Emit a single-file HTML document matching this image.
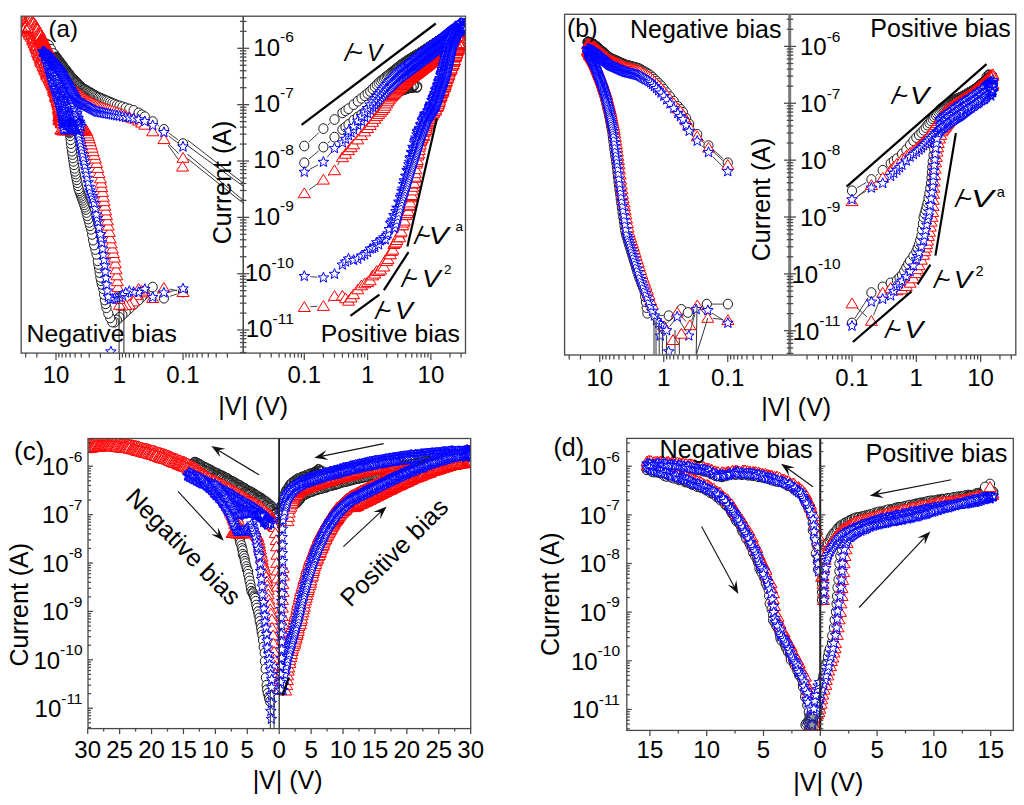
<!DOCTYPE html>
<html><head><meta charset="utf-8"><style>
html,body{margin:0;padding:0;background:#fff;}
svg{display:block;}
text{font-family:"Liberation Sans", sans-serif;fill:#000;}
</style></head><body>
<svg width="1024" height="805" viewBox="0 0 1024 805">
<rect width="1024" height="805" fill="#fff"/>
<defs>
<symbol id="c" overflow="visible"><ellipse cx="0" cy="0" rx="4.6" ry="4.9" fill="#fff" stroke="#1a1a1a" stroke-width="1"/></symbol>
<symbol id="t" overflow="visible"><path d="M0,-5.3 L6,4.5 L-6,4.5 Z" fill="#fff" stroke="#ff0000" stroke-width="1"/></symbol>
<symbol id="s" overflow="visible"><path d="M0,-5.5 L1.5,-1.9 L5.3,-1.7 L2.3,0.7 L3.3,4.5 L0,2.3 L-3.3,4.5 L-2.3,0.7 L-5.3,-1.7 L-1.5,-1.9 Z" fill="#fff" stroke="#0000ff" stroke-width="1"/></symbol>
<symbol id="cn" overflow="visible"><ellipse cx="0" cy="0" rx="4.6" ry="4.9" fill="none" stroke="#1a1a1a" stroke-width="1"/></symbol>
<symbol id="tn" overflow="visible"><path d="M0,-5.3 L6,4.5 L-6,4.5 Z" fill="none" stroke="#ff0000" stroke-width="1"/></symbol>
<symbol id="sn" overflow="visible"><path d="M0,-5.5 L1.5,-1.9 L5.3,-1.7 L2.3,0.7 L3.3,4.5 L0,2.3 L-3.3,4.5 L-2.3,0.7 L-5.3,-1.7 L-1.5,-1.9 Z" fill="none" stroke="#0000ff" stroke-width="1"/></symbol>
<marker id="mc" markerUnits="userSpaceOnUse" markerWidth="1" markerHeight="1" refX="0" refY="0" overflow="visible" orient="0"><ellipse cx="0" cy="0" rx="4.6" ry="4.9" fill="#fff" stroke="#1a1a1a" stroke-width="1"/></marker>
<marker id="mt" markerUnits="userSpaceOnUse" markerWidth="1" markerHeight="1" refX="0" refY="0" overflow="visible" orient="0"><path d="M0,-5.3 L6,4.5 L-6,4.5 Z" fill="#fff" stroke="#ff0000" stroke-width="1"/></marker>
<marker id="ms" markerUnits="userSpaceOnUse" markerWidth="1" markerHeight="1" refX="0" refY="0" overflow="visible" orient="0"><path d="M0,-5.5 L1.5,-1.9 L5.3,-1.7 L2.3,0.7 L3.3,4.5 L0,2.3 L-3.3,4.5 L-2.3,0.7 L-5.3,-1.7 L-1.5,-1.9 Z" fill="#fff" stroke="#0000ff" stroke-width="1"/></marker>
<marker id="mcn" markerUnits="userSpaceOnUse" markerWidth="1" markerHeight="1" refX="0" refY="0" overflow="visible" orient="0"><ellipse cx="0" cy="0" rx="4.6" ry="4.9" fill="none" stroke="#1a1a1a" stroke-width="1"/></marker>
<marker id="mtn" markerUnits="userSpaceOnUse" markerWidth="1" markerHeight="1" refX="0" refY="0" overflow="visible" orient="0"><path d="M0,-5.3 L6,4.5 L-6,4.5 Z" fill="none" stroke="#ff0000" stroke-width="1"/></marker>
<marker id="msn" markerUnits="userSpaceOnUse" markerWidth="1" markerHeight="1" refX="0" refY="0" overflow="visible" orient="0"><path d="M0,-5.5 L1.5,-1.9 L5.3,-1.7 L2.3,0.7 L3.3,4.5 L0,2.3 L-3.3,4.5 L-2.3,0.7 L-5.3,-1.7 L-1.5,-1.9 Z" fill="none" stroke="#0000ff" stroke-width="1"/></marker>
</defs>
<clipPath id="ca"><rect x="21.5" y="16.5" width="443.5" height="336.5"/></clipPath><g clip-path="url(#ca)">
<path d="M177.3,293.9L169.6,296.4M159.6,294.0L157.0,291.3" stroke="#444" stroke-width="1" fill="none"/>
<polyline points="183,292 163.9,298.2 152.7,287.1 144.8,293.9 141.7,297 138.6,300 133.6,304.6 129.3,308.5 125.7,311.9 122.4,314.9 119.5,317.5 116.9,320 114.5,322.2 112.3,322 110.2,317.9 108.3,313.5 106.5,307.7 105.7,303.8 104.9,300 104.1,294.4 103.3,288.7 101.8,284.3 101.1,280.8 100.4,277.3 99.7,272.6 99,268 98.4,264.4 97.8,260.8 96.5,254.3 95.4,249.5 94.2,245 93.1,240.1 92.1,234.4 91.1,229.3 90.1,225.8 89.2,222.4 88.3,219 87.4,215.7 86.6,212.5 85.8,209.5 85,207.1 84.2,204.8 83.4,202.5 82.7,200.3 82,198.2 81.3,196.3 80.6,194.4 79.9,192.5 79.3,190.7 78.6,188.8 78,185.7 77.4,182.7 76.8,179.8 76.2,176.9 75.7,174 75.1,171.3 74.6,168.3 74,164.8 73.5,161.3 73,157.9 72.5,154.5 72,151.2 71.5,147.6 71,143.6 70.6,139.7 70.1,135.8 69.6,133 69.2,132 68.7,131.1 68.3,130.1 67.9,129.2 67.5,128.2 67,127.3 66.6,126.4 66.2,125.5 65.8,124.2 65.4,122.2 65.1,120.3 64.7,118.4 64.3,116.5 63.9,114.7 63.6,112.8 63.2,111 62.9,109.3 62.5,107.5 62.2,105.8 61.8,104.2 61.5,102.8 61.1,101.3 60.8,99.9 60.5,98.5 60.2,97.2 59.8,95.8 59.5,94.5 59.2,93.2 58.9,91.8 58.6,90.6 58.3,89.3 58,88 57.7,86.4 57.4,84.9 57.1,83.3 56.8,81.8 56.6,80.3 56.3,78.8 56,77.3 55.7,75.9 55.5,74.4 55.2,73 54.9,71.6 54.7,70.2 54.4,68.8 54.1,67.4 53.9,66 53.6,64.7 53.4,63.3 53.1,62 52.9,60.7 52.6,59.4 52.4,58.1 52.1,56.8 51.9,56 51.7,56 51.4,56 51.2,56 51,56 50.7,56 50.5,56" stroke="none" fill="none" marker-start="url(#mc)" marker-mid="url(#mc)" marker-end="url(#mc)"/><polyline points="52.6,57 52.2,55.3 54.8,54.8 55.2,56.9" stroke="none" fill="none" marker-start="url(#mcn)" marker-mid="url(#mcn)" marker-end="url(#mcn)"/>
<path d="M157.6,125.1L159.0,126.0M168.7,133.0L178.2,140.0" stroke="#444" stroke-width="1" fill="none"/>
<polyline points="46.7,44 48.8,45.4 51,49.3 53.4,53.5 56,57 56.3,57.4 56.6,57.7 56.8,58.1 57.1,58.5 57.4,58.9 57.7,59.3 58,59.7 58.3,60.1 58.6,60.5 58.9,60.9 59.2,61.3 59.5,61.7 59.8,62.1 60.2,62.5 60.5,63 60.8,63.4 61.1,63.9 61.5,64.3 61.8,64.7 62.2,65.2 62.5,65.7 62.9,66.1 63.2,66.6 63.6,67 63.9,67.5 64.3,68 64.7,68.5 65.1,69 65.4,69.5 65.8,70 66.2,70.5 66.6,71 67,71.6 67.5,72.1 67.9,72.6 68.3,73.2 68.7,73.8 69.2,74.3 69.6,74.9 70.1,75.5 70.6,76.1 71,76.7 71.5,77.4 72,78 72.5,78.5 73,79 73.5,79.5 74,80 74.6,80.6 75.1,81.1 75.7,81.7 76.2,82.2 76.8,82.8 77.4,83.4 78,84 78.6,84.6 79.3,85.3 79.9,85.9 80.6,86.6 81.3,87.3 82,88 82.7,88.4 83.4,88.8 84.2,89.3 85,89.7 85.8,90.2 86.6,90.7 87.4,91.1 88.3,91.7 89.2,92.2 90.1,92.7 91.1,93.3 92.1,93.9 93.1,94.5 94.2,95.1 95.4,95.8 96.5,96.4 97.8,97.1 99,97.6 100.4,98.2 101.8,98.8 103.3,99.4 104.9,100.1 106.5,100.8 108.3,101.5 110.2,102.3 112.3,103.2 114.5,104.1 116.9,105.1 119.5,105.9 122.4,106.8 125.7,107.9 129.3,109 133.6,110.4 138.6,112.9 141.7,114.8 144.8,116.7 152.7,121.6 163.9,129.4 183,143.6" stroke="none" fill="none" marker-start="url(#mc)" marker-mid="url(#mc)" marker-end="url(#mc)"/>
<polyline points="22,24 22.8,24.8 23.5,25.4 24.4,27 24.9,27 25.4,28.1 25.8,29.7 27.4,29.5 27.9,31 28,31.5 29,32.6 29.7,33.7 29.8,34.7 31.5,35.8 31.7,35.5 31.3,36.7 32.9,37.9 32.6,39.6 32.9,40.2 33.5,40.7 34.1,42.6 34,42.9 34.7,43.7 35.2,45.7 35.8,46.4 36.4,46.9 36.5,48.2 36.9,48.9 37.5,49.9 37.2,51.8 38.6,52.4 38.3,53.2 38.6,54.6 38.9,55.1 39.6,56.1 40.2,57.9 40.8,58.6 40.7,59.5 40.7,60.9 41.5,61.4 41.6,62.6 42.6,63.6 43.3,64.9 43,65.8 44.2,66.8 44.2,67.3 44.6,68.7 44.9,69.7 45.6,70.8 46,71.4 46.4,73.3 46.8,73.2 46.8,74.8 47.3,75.3 47.8,76.7 49.4,77.7 49.2,78.7 49.7,79.7 50.4,81.2 50.9,81.6 51.3,83.2 51.2,83.4 52.2,84.9 52.7,85.8 53.4,86.7 53.7,88.3 53.6,89.2 54.2,90.3 53.7,91.4 54.9,92.5 55.5,92.8 55.4,93.6 55.7,95.6 55.5,96 55.7,96.9 56.1,97.8 57.4,99.8 57.1,100.7 57.7,101.5 57.7,102.7 58.1,103.3 58.1,104.8 58.6,105.4 58.7,107.3 59.2,108.1 58.4,108.9 58.6,109.5 58.9,111.1 59.7,112.4 59.2,113.6 59.7,114.4 59.5,115.5 59.8,116.9 60.1,117.6 60.2,118.8 60.7,120.1 60.9,120.9 61.1,122.6 61.5,123.4" stroke="none" fill="none" marker-start="url(#mt)" marker-mid="url(#mt)" marker-end="url(#mt)"/><polyline points="61.7,123.2 59.4,120.4 60.2,118.7 58.7,119.6" stroke="none" fill="none" marker-start="url(#mtn)" marker-mid="url(#mtn)" marker-end="url(#mtn)"/>
<polyline points="24,21 24.6,22 25.8,22.8 25.9,23.8 26.1,24.6 27.3,25.9 27.3,26.2 27.9,27.7 29.2,27.7 30.2,29.7 30.4,30.2 30.5,30.4 31.5,31.3 31.8,32.4 32.2,33.6 33.2,35 33.7,35.8 34.1,36.8 34.5,37.4 35.6,39.3 35.8,39.9 35.6,40.4 36.1,41.2 37.1,42.6 37.6,43.6 38.2,45.2 37.4,45.4 39,46.7 39.5,47.7 38.8,48.9 40.1,49.5 39.7,50.6 41.2,52.1 40.6,52.5 41,53.3 42.3,54.5 42.4,55.8 42.4,57.2 42.8,58.1 43.2,58.8 43.8,59.6 45.1,61.3 44.7,62.4 45,62.8 46.2,64.1 45.7,65.6 46.3,65.7 47.4,66.8 47.2,67.5 47.4,69.2 48,70.2 48.5,71.1 49.7,72.1 49.6,73.6 49.5,73.8 50.8,75.6 50.4,75.8 51.5,77.8 51.2,78.8 52.4,79.4 52.3,79.8 52.3,81.9 52.9,82.6 53.3,83.7 54,84.2 53.8,85.8 53.9,86.2 54.8,88 55.1,88.4 55.8,89.4 55,90.5 55.8,91.3 55.7,92.8 56.5,93.6 56.5,95.5 57.5,96.3 57.5,97.3 57.1,97.7 57.2,99.8 58.3,100.9 57.8,101.6 58.6,102.8 58.5,104.2 58.4,104.7 59.4,106.3 59.5,107.1 59.7,108.5 59.4,109.3 60.2,110.6 59.8,111.6 60.5,112.4 60.4,113.3 60.5,114.6 60,115.7 61.3,117.1 61.1,117.6 61.3,118.9 61.1,120.3 60.9,121.3" stroke="none" fill="none" marker-start="url(#mt)" marker-mid="url(#mt)" marker-end="url(#mt)"/><polyline points="62,121.1 60.6,118.1 62.3,116.3 61.7,117.2" stroke="none" fill="none" marker-start="url(#mtn)" marker-mid="url(#mtn)" marker-end="url(#mtn)"/>
<polyline points="26,19 26.6,20.1 27.5,20.4 27.3,21.5 28.3,23 29.4,23.6 29.9,24.6 30,25.2 30.7,26.6 31.2,27.4 31.9,28.2 32.8,28.7 34.1,29.2 33.8,31.1 35,31 36.2,33 35.7,33.3 36.1,34.2 37.1,35 37.6,35.9 37.4,37.8 38.1,38.4 38.7,39.5 38.9,40 39.7,42.1 40.4,42.8 40.1,43.4 40.9,44.8 40.6,45.3 41.3,46.7 42.2,47.7 41.7,49.1 42.6,49.7 42.8,50.6 43.4,52.1 43.4,52.8 43.9,54 44.2,54.5 44.9,56 45,56.8 45.6,57.6 46.3,59.5 46.7,60.5 46.7,61.5 47.3,61.6 48.1,63.5 47.6,63.8 48.9,64.9 48.7,65.6 48.8,67.3 50.3,68.8 50.1,68.7 50.3,70.6 51.2,71.5 50.9,72.4 51.6,73.5 51.7,75 52.8,75 52.5,76.9 52.8,78.1 53.5,78.8 54.1,79.2 53.9,80.3 54.6,81.9 54.3,83.2 54.9,83.5 55.1,85.5 55.6,86.1 56.3,87.6 56.3,88 56.4,89.7 56.9,90.3 56.6,91.2 57.4,92.5 56.8,93.7 58.1,94.9 58.4,96.1 58.2,97 58.3,97.2 58.5,98.6 59.5,100.1 59.2,101.1 58.9,102.1 59.7,103 59.3,104.1 59.6,105.5 59.5,105.9 59.9,107.7 60.6,108.7 61,109.5 60,110.7 60.7,111.4 61.1,112.7 60.8,113.8 61.8,114.5 61.3,115.9 61.2,117.2 61.4,118.8 61.9,119.7" stroke="none" fill="none" marker-start="url(#mt)" marker-mid="url(#mt)" marker-end="url(#mt)"/><polyline points="62,119.6 59.7,116.7 60.3,115.1 58.7,116.1" stroke="none" fill="none" marker-start="url(#mtn)" marker-mid="url(#mtn)" marker-end="url(#mtn)"/>
<polyline points="28,18 28.3,19.1 29.5,20.2 29.5,20.4 30.1,21.3 31.4,22.1 31.8,23.1 32.1,24.2 33.4,25.4 33.1,25.9 33.8,27.5 35.3,28.3 35.9,29.1 36.7,30.1 36.5,31.1 37.3,31.9 37.8,32.5 38,33.5 38.4,34.2 39.5,36 40.1,36.9 40.1,37.9 40,38.9 40.8,39.3 41,40.7 41.5,41.6 42.4,42.5 42.3,43.6 42.9,44.3 43.3,45.5 43.6,46.8 45.1,47.5 45.3,49.2 44.9,49.2 46.3,51.1 46.5,51.3 46.7,53.1 47.7,54.1 47.2,55.1 47.9,56 48,57.3 49,58.1 48.9,58.9 49.8,59.9 49.9,61.1 50.3,61.6 50.5,63.1 50.9,63.6 51.2,65.1 52.2,66 52,66.9 52.8,67.5 52.8,69.6 53.3,69.8 53.9,71.2 54.1,72 54.9,73.5 54.7,73.9 55.6,75.8 56,76.2 56.5,77.1 56,78.4 57.4,79.7 56.9,80.7 57.9,81.2 57.9,82.4 57.8,83.4 58,84.5 58.1,85.6 58.5,87.1 59.4,87.3 59.9,88.6 59.9,90.1 60,90.8" stroke="none" fill="none" marker-start="url(#mt)" marker-mid="url(#mt)" marker-end="url(#mt)"/><polyline points="60.6,90.5 58.7,87.5 59.8,85.7 58.6,86.6" stroke="none" fill="none" marker-start="url(#mtn)" marker-mid="url(#mtn)" marker-end="url(#mtn)"/>
<polyline points="30,17 30.1,18.2 31.3,19.4 31.5,19.5 32.6,20.9 32.6,21.9 33.3,23 33.6,23.2 35.1,24.3 34.9,25.8 35.9,25.9 36.4,27.5 36.5,28.4 37,29 37.6,29.8 39.1,31 39.6,32 39.7,33.5 40.3,33.6 40.6,35.2 40.6,35.5 42,37 41.6,37.9 42.1,39.3 43,39.5 43.9,40.5 43.7,41.4 44.7,42.4 45,43.4 45.4,45.1 46,45.8 46.4,46.8 47,47.3 47.4,48.5 48.3,50.3 47.9,50.4 49.1,51.9 48.8,53 50.4,53.6 50.2,54.8 51.4,55.4 51.1,56.3 52,57.6 52,58.5 52.3,59.4 53.9,60.7 53.5,62.1 54.1,62.3 54.2,63.1 54.9,64.2 56.2,65.3 55.9,66.7 57,67.4 57.2,68.5 57.2,69.8 58,71.1 57.8,72.2 58,72.7 59,74 59.2,74.7 59.7,76.1 59.2,77.6 59.8,77.9 59.9,78.7 60.1,80.4 60.4,81 61.1,82.3 61.3,83.7 61.5,84.2" stroke="none" fill="none" marker-start="url(#mt)" marker-mid="url(#mt)" marker-end="url(#mt)"/><polyline points="61.9,84 59.8,81.1 60.7,79.3 59.4,80.2" stroke="none" fill="none" marker-start="url(#mtn)" marker-mid="url(#mtn)" marker-end="url(#mtn)"/>
<polyline points="22,19 23,19.4 23.1,20.6 23.8,21.5 24.1,23.3 24.5,24.7 24.5,24.7 25.9,25.4 26.1,26.1 27.6,27.6 28.3,27.6" stroke="none" fill="none" marker-start="url(#mt)" marker-mid="url(#mt)" marker-end="url(#mt)"/><polyline points="27.8,28.6 24.8,27 24.8,26.5 22.6,28.6" stroke="none" fill="none" marker-start="url(#mtn)" marker-mid="url(#mtn)" marker-end="url(#mtn)"/>
<path d="M177.1,290.7L169.7,289.1M159.5,291.8L157.1,294.0" stroke="#444" stroke-width="1" fill="none"/>
<polyline points="183,292 163.9,287.8 152.7,298 144.8,292.3 141.7,290.6 138.6,288.8 136.1,295.1 133.6,301.4 129.3,304.4 125.7,305 122.4,305.5 119.5,304.8 119,298.9 118.4,293 117.9,287.1 117.4,281.2 116.9,275.3 116.1,269.3 115.3,263.4 114.5,257.5 113.4,253 112.3,248.5 111.2,243.4 110.2,238.3 109.3,231.9 108.3,225.6 107.4,220.4 106.5,215.2 105.7,210.4 104.9,205.7 104.1,201.2 103.3,196.7 102.5,191.9 101.8,187.1 101.1,182.7 100.4,178.3 99,173 97.8,167.9 96.5,163 95.4,158.5 94.2,154.8 93.1,151.2 92.1,147.7 91.1,144.4 90.1,141.2 89.2,138.3 88.3,135.8 87.4,133.4 86.6,131.1 85.8,129.5 85,129.5 84.2,129.5 83.4,129.5 82.7,129.5 82,129.5 81.3,129.5 80.6,129.5 79.9,129.5 79.3,129.5 78.6,129.5 78,129.5 77.4,129.5 76.8,129.5 76.2,129.5 75.7,129.5 75.1,129.5 74.6,129.5 74,129.5 73.5,129.5 73,129.5 72.5,129.5 72,129.5 71.5,129.5 71,129.5 70.6,129.5 70.1,129.5 69.6,129.5 69.2,129.5 68.7,129.5 68.3,129.5 67.9,129.5 67.5,129.5 67,129.5 66.6,129.5 66.2,129.5 65.8,129.5 65.4,129.5 65.1,129.5 64.7,129.5 64.3,129.5 63.9,129.5 63.6,129.5 63.2,129.5 62.9,129.5 62.5,129.5 62.2,129.5 61.8,129.5 61.5,129.5 61.1,129.5 60.8,129.5" stroke="none" fill="none" marker-start="url(#mt)" marker-mid="url(#mt)" marker-end="url(#mt)"/><polyline points="62.9,130.5 62.5,128.8 65.1,128.3 65.5,130.4" stroke="none" fill="none" marker-start="url(#mtn)" marker-mid="url(#mtn)" marker-end="url(#mtn)"/>
<path d="M157.6,134.8L159.0,135.7M168.2,143.3L178.7,153.6" stroke="#444" stroke-width="1" fill="none"/>
<polyline points="40.6,40 40.7,40 40.9,40 41,40 41.2,40 41.4,40 41.5,40 41.7,40 41.9,40 42,40 42.2,40.3 42.4,40.6 42.5,40.9 42.7,41.2 42.9,41.5 43,41.8 43.2,42.1 43.4,42.4 43.6,42.7 43.7,43 43.9,43.3 44.1,43.7 44.3,44 44.5,44.3 44.6,44.6 44.8,44.9 45,45.3 45.2,45.6 45.4,45.9 45.6,46.2 45.8,46.6 45.9,46.9 46.1,47.2 46.3,47.6 46.5,47.9 46.7,48.3 46.9,48.6 47.1,49 47.3,49.3 47.5,49.7 47.7,50 47.9,50.4 48.1,50.7 48.3,51.1 48.6,51.5 48.8,51.8 49,52.2 49.2,52.6 49.4,53 49.6,53.3 49.8,53.7 50.1,54.1 50.3,54.5 50.5,54.9 50.7,55.2 51,55.6 51.2,56 51.4,56.4 51.7,56.8 51.9,57.2 52.1,57.6 52.4,58 52.6,58.4 52.9,58.8 53.1,59.2 53.4,59.6 53.6,60 53.9,60.5 54.1,60.9 54.4,61.3 54.7,61.8 54.9,62.2 55.2,62.6 55.5,63.1 55.7,63.5 56,64 56.3,64.5 56.6,64.9 56.8,65.4 57.1,65.9 57.4,66.4 57.7,66.8 58,67.3 58.3,67.8 58.6,68.3 58.9,68.8 59.2,69.4 59.5,69.9 59.8,70.4 60.2,70.9 60.5,71.5 60.8,72 61.1,72.6 61.5,73.1 61.8,73.7 62.2,74.2 62.5,74.7 62.9,75.1 63.2,75.6 63.6,76.1 63.9,76.5 64.3,77 64.7,77.5 65.1,78 65.4,78.5 65.8,79 66.2,79.5 66.6,80.1 67,80.6 67.5,81.1 67.9,81.7 68.3,82.2 68.7,82.8 69.2,83.4 69.6,84 70.1,84.6 70.6,85.2 71,85.8 71.5,86.4 72,87.1 72.5,87.7 73,88.4 73.5,89 74,89.7 74.6,90.4 75.1,91.1 75.7,91.6 76.2,92 76.8,92.5 77.4,93 78,93.5 78.6,94 79.3,94.5 79.9,95 80.6,95.6 81.3,96.1 82,96.7 82.7,97.3 83.4,97.9 84.2,98.5 85,99.1 85.8,99.8 86.6,100.3 87.4,100.7 88.3,101.1 89.2,101.6 90.1,102.1 91.1,102.6 92.1,103.1 93.1,103.6 94.2,104.1 95.4,104.7 96.5,105.3 97.8,105.9 99,106.5 100.4,107.1 101.8,107.5 103.3,108 104.9,108.5 106.5,109 108.3,109.5 110.2,110.1 112.3,110.7 114.5,111.4 116.9,112.2 119.5,113.1 122.4,114.2 125.7,115.4 129.3,116.8 133.6,118.5 138.6,120.6 141.7,122.6 144.8,124.7 152.7,131.3 163.9,139.1 183,157.8" stroke="none" fill="none" marker-start="url(#mt)" marker-mid="url(#mt)" marker-end="url(#mt)"/>
<polyline points="182.6,166.6" stroke="none" fill="none" marker-start="url(#mt)" marker-mid="url(#mt)" marker-end="url(#mt)"/>
<polyline points="178.0,159.0 168.0,145.0" fill="none" stroke="#444" stroke-width="1" stroke-linejoin="round"/>
<path d="M177.1,290.0L169.8,291.5" stroke="#444" stroke-width="1" fill="none"/>
<polyline points="183,288.7 163.9,292.8 152.7,297.2 144.8,289.2 138.6,292.2 133.6,292.2 129.3,291.2 125.7,292.9 122.4,295.3 119.5,297.4 116.9,298 114.5,298.4 112.3,298.9 110.2,299.3 108.3,296.9 107.4,290.8 106.5,284.6 106,278.2 105.4,271.9 104.9,265.5 104.1,260.2 103.3,254.9 102.5,248.8 101.8,242.6 101.1,238.5 100.4,234.3 99,227.6 97.8,221.7 97.1,218.2 96.5,214.7 95.4,208.4 94.2,203.3 93.1,199 92.1,196.1 91.1,193.3 90.1,190.6 89.2,187.1 88.3,182.5 87.4,178 86.6,173.7 85.8,169.5 85,165.5 84.2,161.6 83.4,157.9 82.7,154.2 82,150.6 81.3,147.2 80.6,143.8 79.9,140.5 79.3,137.3 78.6,134.2 78,131.1 77.4,129.5 76.8,129.5 76.2,129.5 75.7,129.5 75.1,129.5 74.6,129.5 74,129.5 73.5,129.5 73,129.5 72.5,129.5 72,129.5 71.5,129.5 71,129.5 70.6,129.5 70.1,129.5 69.6,129.5 69.2,129.5 68.7,129.5 68.3,129.5 67.9,129.5 67.5,129.5 67,129.5 66.6,129.5 66.2,129.5 65.8,129.5 65.4,129.5 65.1,129.5 64.7,129.5 64.3,129.5 63.9,129 63.6,126.6 63.2,124.1 62.9,121.7 62.5,119.3 62.2,116.9 61.8,114.5 61.5,112.2 61.1,109.9 60.8,108.2 60.5,106.9 60.2,105.5 59.8,104.2 59.5,102.9 59.2,101.6 58.9,100.4 58.6,99.1 58.3,97.9 58,96.6 57.7,95.4 57.4,94.2 57.1,93 56.8,92 56.6,91.1 56.3,90.2 56,89.3 55.7,88.4 55.5,87.5 55.2,86.6 54.9,85.8 54.7,84.9 54.4,84.1 54.1,83.3 53.9,82.4 53.6,81.6 53.4,80.8 53.1,80 52.9,79.2 52.6,78.4 52.4,77.6 52.1,76.8 51.9,76.1 51.7,75.3 51.4,74.5 51.2,73.8 51,73 50.7,72.3 50.5,71.6 50.3,70.8 50.1,70.1 49.8,69.4 49.6,68.7 49.4,68 49.2,67.3 49,66.6 48.8,65.9 48.6,65.2 48.3,64.6 48.1,63.9 47.9,63.2 47.7,62.6 47.5,61.9 47.3,61.3 47.1,60.6 46.9,60 46.7,59.3 46.5,58.7 46.3,58.1 46.1,57.4 45.9,57 45.8,57 45.6,57 45.4,57 45.2,57 45,57 44.8,57 44.6,57" stroke="none" fill="none" marker-start="url(#ms)" marker-mid="url(#ms)" marker-end="url(#ms)"/><polyline points="46.7,58 46.3,56.3 48.9,55.8 49.3,57.9" stroke="none" fill="none" marker-start="url(#msn)" marker-mid="url(#msn)" marker-end="url(#msn)"/>
<polyline points="45.5,57 46.6,59 46.9,61 46.7,62.4 48.2,64.4 48.2,65.2 48.5,68 48.6,68.8 50.3,70.7 49.8,72.2 51.3,74 51.1,76.1 52.2,77.7 51.7,79.5 52.2,80.5 52.9,83.1 53.5,84.8 53.9,85.7 54.2,88.3 55.9,89.3 55.6,90.8 56.7,92.9 56.5,95.1 57.6,96.5 57.5,98.5 58.6,100 58.6,102.4 60.1,103.8 60.8,105.3 60.4,106.4 61.3,108.7 61.6,111.1 62.7,111.6 63.3,113.2 63.5,115.3 64.1,117.9 64.3,119.4 64.2,121 64.8,122.4 65.6,123.6 66.7,125.3" stroke="none" fill="none" marker-start="url(#ms)" marker-mid="url(#ms)" marker-end="url(#ms)"/><polyline points="66.8,125.2 64.4,122.4 65.1,120.8 63.5,121.8" stroke="none" fill="none" marker-start="url(#msn)" marker-mid="url(#msn)" marker-end="url(#msn)"/>
<polyline points="49,62.1 49.1,64.1 50.2,65.5 50.2,67.7 51.5,69 51.6,70.3 51.4,72.2 52.8,73.5 53.6,75.5 53.3,76.9 54.9,79.6 55.3,81.2 54.6,82.5 55.8,83.9 56.9,86 56.3,88.4 56.8,90.2 57.8,91.4 58.2,93.1 58.5,94.2 60,96.2 60.4,97.8 61.1,100.5 61.4,102.1 61.6,103.7 61.5,105.1 63,106.4 63.7,109.1 63.5,110.1 64.1,111.9 65.4,113.6 64.5,114.9 66,117.9 66.2,118.9 66.8,121 66.9,122.5 67.9,124.3 67.9,125.4" stroke="none" fill="none" marker-start="url(#ms)" marker-mid="url(#ms)" marker-end="url(#ms)"/><polyline points="68.7,125.1 67,122.1 68.3,120.3 67.4,121.1" stroke="none" fill="none" marker-start="url(#msn)" marker-mid="url(#msn)" marker-end="url(#msn)"/>
<polyline points="52.5,67.2 53.7,68.4 52.9,71.3 53.6,71.8 54.8,73.8 55.7,75.4 56.3,77.2 56.3,79.8 56.9,81.5 57.5,82 58.3,84.5 58,85.7 59.3,87.9 59.9,89.9 60.5,91.4 60.6,93.1 60.5,95.4 61.1,96.8 62.5,98.4 61.9,100.3 63.2,101.2 62.8,103.4 63.3,105.6 64.5,106.8 64.9,108.7 66.1,109.9 65.9,112.1 66.3,113.8 67.2,115.3 67.9,117.1 67.6,119.5 68.5,120.5 69.1,122.9 70.4,124 70.1,125.2" stroke="none" fill="none" marker-start="url(#ms)" marker-mid="url(#ms)" marker-end="url(#ms)"/><polyline points="71.2,124.9 69.8,121.9 71.3,120.1 70.7,121" stroke="none" fill="none" marker-start="url(#msn)" marker-mid="url(#msn)" marker-end="url(#msn)"/>
<polyline points="56,72.2 57.1,74.6 57.6,75.1 57.7,77.3 58.1,78.6 58.2,80.8 58.7,82.5 59,83.7 60.5,85.9 60.7,88.1 61,88.8 62.1,91.3 62.5,93.1 63.4,94.4 63.7,96.2 63.9,98.3 64.1,99.2 64.8,101.8 65.5,103.2 66.1,104.5 66,106.4 67.4,108 66.9,109.6 67.4,111.5 68.6,114 68.8,115.1 69.3,116.7 70.5,118.8 70.3,119.9 71.5,122.5 72.1,123.5 72.2,126.2" stroke="none" fill="none" marker-start="url(#ms)" marker-mid="url(#ms)" marker-end="url(#ms)"/>
<polyline points="59.5,77.3 60.3,79.5 60.1,81.4 60.6,82.7 61,84.6 61.6,86.2 62.9,88 63.1,89.9 64.4,90.5 64.2,93.4 65.1,94.4 65,96.9 65.2,98.3 66.8,99.2 66.6,101.1 67.4,103 68.4,105.5 68.1,107.1 68.3,107.7 69.6,110.4 70.4,112.4 71,113.1 71.3,115.8 70.9,116.9 71.5,118.1 72.5,120.6 73.7,121.6 73.6,124.5 74.5,125.6" stroke="none" fill="none" marker-start="url(#ms)" marker-mid="url(#ms)" marker-end="url(#ms)"/><polyline points="74.5,125.6 71.9,122.9 72.4,121.4 70.7,122.5" stroke="none" fill="none" marker-start="url(#msn)" marker-mid="url(#msn)" marker-end="url(#msn)"/>
<polyline points="63,82.4 63.3,84.7 64.5,85.4 65.1,87.7 64.4,89.9 65.3,90.7 66,92.8 66.1,94.7 67.6,96.2 68.1,98.1 68.7,99.2 68.5,101.3 68.7,103.7 70,104.2 70.4,106.4 70.4,107.7 71.3,109.3 72,111.7 71.9,113.9 72.3,114.6 73.9,116.4 73.9,118.6 74.4,120.3 75,122 74.9,124.2 75.7,124.8" stroke="none" fill="none" marker-start="url(#ms)" marker-mid="url(#ms)" marker-end="url(#ms)"/><polyline points="75.5,125 72.8,122.5 73.1,121.2 71.1,122.5" stroke="none" fill="none" marker-start="url(#msn)" marker-mid="url(#msn)" marker-end="url(#msn)"/>
<polyline points="66.5,87.5 67.4,88.8 67.1,91 67.4,93 69,93.7 69.4,96.1 69.8,98.4 70.8,99.4 71.2,101.6 71.9,102.3 72.3,104.3 71.7,106.5 73.2,108.8 73.1,110.3 73.2,112.2 74,113.4 74.3,114.4 74.7,116.9 76,118.9 76.9,120.1 77.4,121.5 78,123.3 78.6,125.2" stroke="none" fill="none" marker-start="url(#ms)" marker-mid="url(#ms)" marker-end="url(#ms)"/><polyline points="79,124.9 76.9,122 77.8,120.3 76.5,121.1" stroke="none" fill="none" marker-start="url(#msn)" marker-mid="url(#msn)" marker-end="url(#msn)"/>
<polyline points="70,92.5 70.7,94.5 71.7,95.5 71,98.1 71.9,99.2 73.1,100.7 73.7,102.8 73.1,105.2 74.3,105.7 75.2,108.4 75.6,110 76.4,110.8 76.9,113.4 76.4,115.1 77.1,116.9 78.1,118.4 77.8,119.9 78.6,122.2 80,123.9 80,124.8 80.7,126.6" stroke="none" fill="none" marker-start="url(#ms)" marker-mid="url(#ms)" marker-end="url(#ms)"/><polyline points="81,126.4 78.8,123.5 79.6,121.8 78.2,122.7" stroke="none" fill="none" marker-start="url(#msn)" marker-mid="url(#msn)" marker-end="url(#msn)"/>
<path d="M157.8,128.6L158.8,129.2M168.7,136.0L178.2,143.2" stroke="#444" stroke-width="1" fill="none"/>
<polyline points="42.5,52 42.7,52 42.9,52 43,52 43.2,52 43.4,52 43.6,52 43.7,52 43.9,52 44.1,52.1 44.3,52.3 44.5,52.5 44.6,52.7 44.8,52.9 45,53.2 45.2,53.4 45.4,53.6 45.6,53.8 45.8,54 45.9,54.2 46.1,54.5 46.3,54.7 46.5,54.9 46.7,55.1 46.9,55.4 47.1,55.6 47.3,55.8 47.5,56.1 47.7,56.3 47.9,56.5 48.1,56.8 48.3,57 48.6,57.3 48.8,57.5 49,57.7 49.2,58 49.4,58.2 49.6,58.5 49.8,58.7 50.1,59 50.3,59.3 50.5,59.5 50.7,59.8 51,60 51.2,60.3 51.4,60.6 51.7,60.9 51.9,61.1 52.1,61.4 52.4,61.7 52.6,62 52.9,62.2 53.1,62.5 53.4,62.8 53.6,63.1 53.9,63.4 54.1,63.7 54.4,64 54.7,64.3 54.9,64.6 55.2,64.9 55.5,65.2 55.7,65.5 56,65.8 56.3,66.2 56.6,66.5 56.8,66.8 57.1,67.1 57.4,67.5 57.7,67.8 58,68.2 58.3,68.5 58.6,68.8 58.9,69.2 59.2,69.6 59.5,69.9 59.8,70.4 60.2,71 60.5,71.6 60.8,72.1 61.1,72.7 61.5,73.3 61.8,73.9 62.2,74.5 62.5,75.1 62.9,75.7 63.2,76.4 63.6,77 63.9,77.6 64.3,78.3 64.7,79 65.1,79.6 65.4,80.3 65.8,81 66.2,81.7 66.6,82.4 67,83.1 67.5,83.9 67.9,84.6 68.3,85.4 68.7,86.1 69.2,86.9 69.6,87.7 70.1,88.5 70.6,89.3 71,90.2 71.5,91 72,91.9 72.5,92.7 73,93.6 73.5,94.5 74,95.5 74.6,96.4 75.1,97.4 75.7,98.4 76.2,99.4 76.8,100.4 77.4,100.9 78,101.3 78.6,101.6 79.3,102 79.9,102.3 80.6,102.7 81.3,103.1 82,103.4 82.7,103.8 83.4,104.2 84.2,104.7 85,105.1 85.8,105.5 86.6,106 87.4,106.5 88.3,106.9 89.2,107.4 90.1,108 91.1,108.5 92.1,109.1 93.1,109.6 94.2,110.2 95.4,110.8 96.5,111.5 97.8,111.9 99,112.1 100.4,112.4 101.8,112.7 103.3,112.9 104.9,113.3 106.5,113.6 108.3,113.9 110.2,114.3 112.3,114.7 114.5,115.1 116.9,115.6 119.5,116.1 122.4,116.7 125.7,117.3 129.3,117.9 133.6,118.7 138.6,119.7 144.8,121.4 152.7,125.4 163.9,132.3 183,146.8" stroke="none" fill="none" marker-start="url(#ms)" marker-mid="url(#ms)" marker-end="url(#ms)"/>
<polyline points="187.5,140.0 243.0,183.0" fill="none" stroke="#333" stroke-width="1" stroke-linejoin="round"/>
<polyline points="187.5,145.6 243.0,186.0" fill="none" stroke="#333" stroke-width="1" stroke-linejoin="round"/>
<polyline points="187.5,154.3 243.0,200.0" fill="none" stroke="#333" stroke-width="1" stroke-linejoin="round"/>
<polyline points="187.5,158.6 243.0,203.0" fill="none" stroke="#333" stroke-width="1" stroke-linejoin="round"/>
<polyline points="119.1,291.0 119.1,353.0" fill="none" stroke="#222" stroke-width="1" stroke-linejoin="round"/>
<polyline points="123.9,308.0 123.9,353.0" fill="none" stroke="#222" stroke-width="1" stroke-linejoin="round"/>
<polyline points="110.9,351.7" stroke="none" fill="none" marker-start="url(#ms)" marker-mid="url(#ms)" marker-end="url(#ms)"/>
<path d="M308.7,142.0L318.9,132.6M328.0,124.8L329.8,123.3" stroke="#444" stroke-width="1" fill="none"/>
<polyline points="304.3,146 323.4,128.6 334.5,119.5 342.4,112.9 345.5,110.8 348.5,108.7 353.6,104.6 357.8,101.2 361.5,98.3 364.7,95.8 367.6,93.5 370.2,91.4 372.6,88.9 374.8,86.7 376.8,84.7 378.7,82.8 380.5,81.3 382.2,80 383.8,78.7 385.2,77.5 386.7,76.4 388,75.3 389.3,74.3 390.5,73.3 391.7,72.4 392.8,71.5 393.9,70.6 394.9,69.8 395.9,69 396.9,68.2 397.8,67.5 398.7,66.8 399.6,66.1 400.4,65.4 401.2,64.8 402,64.2 402.8,63.7 403.6,63.2 404.3,62.7 405,62.2 405.7,61.7 406.4,61.3 407.1,60.8 407.7,60.4 408.3,60 408.9,59.6 409.6,59.3 410.1,58.9 410.7,58.6 411.3,58.2 411.8,57.9 412.4,57.6 412.9,57.2 413.4,56.9 414,56.6 414.5,56.3 415,56 415.4,55.7 415.9,55.4 416.4,55.2 416.9,54.9 417.3,54.6 417.8,54.3 418.2,54.1 418.6,53.8 419.1,53.6 419.5,53.3 419.9,53.1 420.3,52.8 420.7,52.5 421.1,52.3 421.5,52 421.9,51.8 422.2,51.5 422.6,51.3 423,51.1 423.4,50.8 423.7,50.6 424.1,50.4 424.4,50.1 424.8,49.9 425.1,49.7 425.4,49.5 425.8,49.2 426.1,49 426.4,48.8 426.8,48.6 427.1,48.4 427.4,48.2 427.7,48 428,47.8 428.3,47.6 428.6,47.4 428.9,47.2 429.2,47 429.5,46.8 429.8,46.6 430.1,46.5 430.3,46.3 430.6,46.1 430.9,45.9 431.2,45.7 431.4,45.6 431.7,45.4 432,45.2 432.2,45 432.5,44.9 432.8,44.7 433,44.5 433.3,44.4 433.5,44.2 433.8,44.1 434,43.9 434.3,43.7 434.5,43.6 434.7,43.4 435,43.3 435.2,43.1 435.5,43 435.7,42.8 435.9,42.7 436.1,42.5 436.4,42.4 436.6,42.2 436.8,42.1 437,41.9 437.3,41.8 437.5,41.6 437.7,41.5 437.9,41.4 438.1,41.2 438.3,41.1 438.5,41 438.7,40.8 438.9,40.7 439.2,40.6 439.4,40.4 439.6,40.3 439.8,40.2 440,40 440.1,39.9 440.3,39.8 440.5,39.7 440.7,39.6 440.9,39.4 441.1,39.3 441.3,39.2 441.5,39.1 441.7,39 441.9,38.9 442,38.8 442.2,38.6 442.4,38.5 442.6,38.4 442.8,38.3 442.9,38.2 443.1,38.1 443.3,38 443.5,37.9 443.6,37.8 443.8,37.7 444,37.6 444.2,37.5 444.3,37.4 444.5,37.3 444.7,37.2 444.8,37.1 445,37 445.2,36.9 445.3,36.8 445.5,36.7 445.6,36.6 445.8,36.5 446,36.4 446.1,36.3 446.3,36.2 446.4,36.1 446.6,36 446.8,35.9 446.9,35.8 447.1,35.7 447.2,35.6 447.4,35.5 447.5,35.4 447.7,35.3 447.8,35.2 448,35.2 448.1,35.1 448.3,35 448.4,34.9 448.5,34.8 448.7,34.7 448.8,34.6 449,34.5 449.1,34.5 449.3,34.4 449.4,34.3 449.5,34.2 449.7,34.1 449.8,34 450,33.9 450.1,33.9 450.2,33.8 450.4,33.7 450.5,33.6 450.6,33.5 450.8,33.4 450.9,33.4 451,33.3 451.2,33.2 451.3,33.1 451.4,33 451.6,33 451.7,32.9 451.8,32.8 451.9,32.7 452.1,32.7 452.2,32.6 452.3,32.5 452.5,32.4 452.6,32.3 452.7,32.3 452.8,32.2 452.9,32.1 453.1,32 453.2,32 453.3,31.9 453.4,31.8 453.6,31.7 453.7,31.7 453.8,31.6 453.9,31.5 454,31.5 454.2,31.4 454.3,31.3 454.4,31.2 454.5,31.2 454.6,31.1 454.7,31 454.9,31 455,30.9 455.1,30.8 455.2,30.8 455.3,30.7 455.4,30.6 455.5,30.5 455.6,30.5 455.8,30.4 455.9,30.3 456,30.3 456.1,30.2 456.2,30.1 456.3,30.1 456.4,30 456.5,29.9 456.6,29.9 456.7,29.8 456.8,29.7 457,29.7 457.1,29.6 457.2,29.6 457.3,29.5 457.4,29.4 457.5,29.4 457.6,29.3 457.7,29.2 457.8,29.2 457.9,29.1 458,29 458.1,29 458.2,28.9 458.3,28.9 458.4,28.8 458.5,28.7 458.6,28.7 458.7,28.6 458.8,28.6 458.9,28.5 459,28.4 459.1,28.4 459.2,28.3 459.3,28.3 459.4,28.2 459.5,28.1 459.6,28.1 459.7,28 459.8,28 459.9,27.9 460,27.8 460.1,27.8 460.2,27.7 460.3,27.7 460.4,27.6 460.5,27.6 460.5,27.5 460.6,27.4 460.7,27.4 460.8,27.3 460.9,27.3 461,27.2 461.1,27.2 461.2,27.1 461.3,27 461.4,27 461.5,26.9 461.6,26.9 461.6,26.8 461.7,26.8 461.8,26.7 461.9,26.7 462,26.6 462.1,26.6 462.2,26.5 462.3,26.4 462.4,26.4 462.4,26.3 462.5,26.3 462.6,26.2 462.7,26.2 462.8,26.1 462.9,26.1 463,26 463,26 463.1,26 463.2,26 463.3,26 463.4,26 463.5,26 463.6,26 463.6,26 463.7,26 463.8,26 463.9,26 464,26 464.1,26 464.1,26 464.2,26 464.3,26 464.4,26 464.5,26" stroke="none" fill="none" marker-start="url(#mc)" marker-mid="url(#mc)" marker-end="url(#mc)"/><polyline points="464,27 461,25.3 461,24.8 458.8,26.9" stroke="none" fill="none" marker-start="url(#mcn)" marker-mid="url(#mcn)" marker-end="url(#mcn)"/>
<path d="M308.9,159.0L318.7,150.9M327.8,143.1L330.0,141.2" stroke="#444" stroke-width="1" fill="none"/>
<polyline points="304.3,162.8 323.4,147.1 334.5,137.2 342.4,129.5 345.5,127 348.5,124.5 353.6,120.2 357.8,117 361.5,114.5 364.7,112.2 367.6,109.9 370.2,107.8 372.6,105.9 374.8,104.1 376.8,102.9 378.7,101.8 380.5,100.7 382.2,99.7 383.8,98.7 385.2,97.9 386.7,97 388,96.2 389.3,95.4 390.5,94.8 391.7,94.3 392.8,93.9 393.9,93.5 394.9,93 395.9,92.6 396.9,92.3 397.8,91.9 398.7,91.5 399.6,91.2 400.4,90.8 401.2,90.5 402,90.2 402.8,89.9 403.6,89.7 404.3,89.4 405,89.1 405.7,88.9 406.4,88.6 407.1,88.4 407.7,88.1 408.3,87.9 408.9,87.8 409.6,87.7 410.1,87.6 410.7,87.5 411.3,87.4 411.8,87.3 412.4,87.2 412.9,87.1 413.4,87 414,86.9 414.5,86.8 415,86.7 415.4,86.6 415.9,86.5 416.4,86.5 416.9,86.5 417.3,86.5" stroke="none" fill="none" marker-start="url(#mc)" marker-mid="url(#mc)" marker-end="url(#mc)"/><polyline points="416.8,87.5 413.8,85.8 413.8,85.3 411.6,87.4" stroke="none" fill="none" marker-start="url(#mcn)" marker-mid="url(#mcn)" marker-end="url(#mcn)"/>
<path d="M309.2,189.7L318.5,183.1M327.9,175.8L329.9,174.1M337.6,165.1L339.3,162.4" stroke="#444" stroke-width="1" fill="none"/>
<polyline points="304.3,193.2 323.4,179.6 334.5,170.2 342.4,157.2 345.5,153.7 348.5,150.1 351.1,147.2 353.6,144.3 357.8,139.4 361.5,135.1 364.7,131.4 367.6,128 370.2,125 372.6,121.8 374.8,118.8 376.8,116.1 378.7,113.9 380.5,111.8 382.2,109.9 383.8,108 385.2,105.7 386.7,103.4 388,101.3 389.3,99.3 390.5,97.4 391.7,96.2 392.8,95 393.9,93.9 394.9,92.8 395.9,91.7 396.9,90.7 397.8,89.8 398.7,88.9 399.6,88.1 400.4,87.3 401.2,86.5 402,85.7 402.8,85 403.6,84.2 404.3,83.6 405,82.9 405.7,82.3 406.4,81.7 407.1,81.1 407.7,80.5 408.3,79.9 408.9,79.4 409.6,78.8 410.1,78.3 410.7,77.8 411.3,77.4 411.8,77 412.4,76.6 412.9,76.2 413.4,75.8 414,75.4 414.5,75 415,74.7 415.4,74.3 415.9,74 416.4,73.6 416.9,73.3 417.3,72.9 417.8,72.6 418.2,72.2 418.6,71.9 419.1,71.5 419.5,71.2 419.9,70.9 420.3,70.6 420.7,70.3 421.1,70 421.5,69.7 421.9,69.4 422.2,69.1 422.6,68.8 423,68.5 423.4,68.2 423.7,67.9 424.1,67.6 424.4,67.4 424.8,67.1 425.1,66.8 425.4,66.6 425.8,66.3 426.1,66 426.4,65.8 426.8,65.5 427.1,65.3 427.4,65 427.7,64.8 428,64.6 428.3,64.3 428.6,64.1 428.9,63.9 429.2,63.6 429.5,63.4 429.8,63.2 430.1,62.9 430.3,62.7 430.6,62.5 430.9,62.2 431.2,62 431.4,61.7 431.7,61.5 432,61.3 432.2,61.1 432.5,60.8 432.8,60.6 433,60.4 433.3,60.2 433.5,59.9 433.8,59.7 434,59.5 434.3,59.3 434.5,59.1 434.7,58.9 435,58.7 435.2,58.5 435.5,58.3 435.7,58.1 435.9,57.9 436.1,57.7 436.4,57.5 436.6,57.3 436.8,57.1 437,56.9 437.3,56.7 437.5,56.5 437.7,56.3 437.9,56.2 438.1,56 438.3,55.8 438.5,55.6 438.7,55.4 438.9,55.2 439.2,55.1 439.4,54.9 439.6,54.7 439.8,54.5 440,54.4 440.1,54.2 440.3,54 440.5,53.9 440.7,53.7 440.9,53.5 441.1,53.4 441.3,53.2 441.5,53 441.7,52.9 441.9,52.7 442,52.6 442.2,52.4 442.4,52.2 442.6,52.1 442.8,51.9 442.9,51.8 443.1,51.6 443.3,51.5 443.5,51.3 443.6,51.2 443.8,51 444,50.9 444.2,50.7 444.3,50.6 444.5,50.4 444.7,50.3 444.8,50.1 445,50 445.2,49.8 445.3,49.6 445.5,49.4 445.6,49.2 445.8,49 446,48.8 446.1,48.6 446.3,48.5 446.4,48.3 446.6,48.1 446.8,47.9 446.9,47.7 447.1,47.5 447.2,47.3 447.4,47.2 447.5,47 447.7,46.8 447.8,46.6 448,46.4 448.1,46.3 448.3,46.1 448.4,45.9 448.5,45.7 448.7,45.6 448.8,45.4 449,45.2 449.1,45.1 449.3,44.9 449.4,44.7 449.5,44.6 449.7,44.4 449.8,44.2 450,44.1 450.1,43.9 450.2,43.7 450.4,43.6 450.5,43.4 450.6,43.2 450.8,43.1 450.9,42.9 451,42.8 451.2,42.6 451.3,42.4 451.4,42.3 451.6,42.1 451.7,42 451.8,41.8 451.9,41.7 452.1,41.5 452.2,41.4 452.3,41.2 452.5,41.1 452.6,40.9 452.7,40.8 452.8,40.6 452.9,40.5 453.1,40.3 453.2,40.2 453.3,40 453.4,39.9 453.6,39.7 453.7,39.6 453.8,39.4 453.9,39.3 454,39.2 454.2,39 454.3,38.9 454.4,38.7 454.5,38.6 454.6,38.5 454.7,38.3 454.9,38.2 455,38 455.1,37.9 455.2,37.8 455.3,37.7 455.4,37.6 455.5,37.5 455.6,37.4 455.8,37.2 455.9,37.1 456,37 456.1,36.9 456.2,36.8 456.3,36.7 456.4,36.6 456.5,36.5 456.6,36.4 456.7,36.3 456.8,36.2 457,36 457.1,35.9 457.2,35.8 457.3,35.7 457.4,35.6 457.5,35.5 457.6,35.4 457.7,35.3 457.8,35.2 457.9,35.1 458,35 458.1,34.9 458.2,34.8 458.3,34.7 458.4,34.6 458.5,34.5 458.6,34.4 458.7,34.3 458.8,34.2 458.9,34.1 459,34 459.1,33.9 459.2,33.8 459.3,33.7 459.4,33.6 459.5,33.5 459.6,33.4 459.7,33.3 459.8,33.2 459.9,33.1 460,33 460.1,32.9 460.2,32.8 460.3,32.7 460.4,32.6 460.5,32.5 460.5,32.5 460.6,32.4 460.7,32.3 460.8,32.2 460.9,32.1 461,32 461.1,31.9 461.2,31.8 461.3,31.7 461.4,31.6 461.5,31.5 461.6,31.4 461.6,31.4 461.7,31.3 461.8,31.2 461.9,31.1 462,31 462.1,30.9 462.2,30.8 462.3,30.7 462.4,30.6 462.4,30.6 462.5,30.5 462.6,30.4 462.7,30.3 462.8,30.2 462.9,30.1 463,30 463,30 463.1,30 463.2,30 463.3,30 463.4,30 463.5,30 463.6,30 463.6,30 463.7,30 463.8,30 463.9,30 464,30 464.1,30 464.1,30 464.2,30 464.3,30 464.4,30 464.5,30" stroke="none" fill="none" marker-start="url(#mt)" marker-mid="url(#mt)" marker-end="url(#mt)"/><polyline points="464,31 461,29.3 461,28.8 458.8,30.9" stroke="none" fill="none" marker-start="url(#mtn)" marker-mid="url(#mtn)" marker-end="url(#mtn)"/>
<path d="M310.3,306.7L317.4,306.3M327.8,301.9L330.1,299.9" stroke="#444" stroke-width="1" fill="none"/>
<polyline points="304.3,307 323.4,305.9 334.5,295.9 342.4,295.6 345.5,298.2 348.5,300.7 351.1,297.5 353.6,294.2 357.8,289.3 361.5,285.3 364.7,283.3 367.6,282.1 370.2,280.3 372.6,275.4 374.8,273.6 376.8,270.8 378.7,271 380.5,269.6 382.2,265.7 383.8,266.5 385.2,260.4 386.7,261.1 388,259.1 389.3,254.1 390.5,254.3 391.7,250.9 392.8,249.7 393.9,244 394.9,242.7 395.9,242.4 396.9,240 397.8,237.3 398.7,235.1 399.6,237.2 400.4,232.4 401.2,231.5 402,225.3 402.8,225.2 403.6,222.5 404.3,220.6 405,215.2 405.7,214.9 406.4,212 407.1,213.1 407.7,209.9 408.3,210.8 408.9,205.9 409.6,204.8 410.1,202.4 410.7,197.3 411.3,195.9 411.8,195 412.4,190.4 412.9,186.8 413.4,183.6 414,182.9 414.5,177.8 415,176.7 415.4,173.2 415.9,169.2 416.4,163.6 416.9,161.8 417.3,160.1 417.8,155.5 418.2,153.3 418.6,153.5 419.1,150 419.5,146.7 419.9,143.6 420.3,144.5 420.7,140.9 421.1,139.6 421.5,137.9 421.9,138.4 422.2,137.8 422.6,135.2 423,133.3 423.4,136.1 423.7,134.9 424.1,130.4 424.4,131.7 424.8,131.3 425.1,129.3 425.4,129.8 425.8,129.9 426.1,127.6 426.4,126 426.8,124.4 427.1,123.9 427.4,122.8 427.7,122 428,121.8 428.3,123.8 428.6,121.9 428.9,122.4 429.2,122.3 429.5,121.3 429.8,117.6 430.1,120.6 430.3,116.7 430.6,118.8 430.9,118.6 431.2,117.3 431.4,115.7 431.7,113.9 432,113.4 432.2,115.1 432.5,113.1 432.8,113.8 433,112.2 433.3,111.4 433.5,111.4 433.8,112.7 434,111.3 434.3,110.5 434.5,110.4 434.7,110.2 435,109.7 435.2,109 435.5,110.6 435.7,109.3 435.9,106.8 436.1,106.8 436.4,105.8 436.6,106.1 436.8,104.4 437,106.9 437.3,105.8 437.5,104.6 437.7,105.9 437.9,103 438.1,103.4 438.3,104.2 438.5,102.1 438.7,101.7 438.9,100.2 439.2,102.1 439.4,100.5 439.6,98.2 439.8,97.8 440,98.2 440.1,97.3 440.3,96.8 440.5,94.9 440.7,95.9 440.9,95.8 441.1,95.5 441.3,93.7 441.5,93.2 441.7,92.9 441.9,92.5 442,91.7 442.2,89.3 442.4,89.8 442.6,92.2 442.8,91 442.9,89.1 443.1,89.8 443.3,87.1 443.5,86.8 443.6,87.3 443.8,87.6 444,84.4 444.2,85.7 444.3,87 444.5,85.3 444.7,86.4 444.8,82.3 445,85.1 445.2,84.4 445.3,80.7 445.5,82.2 445.6,82.7 445.8,80.1 446,81.3 446.1,81.7 446.3,81 446.4,79.1 446.6,77.2 446.8,78.7 446.9,76.9 447.1,77.8 447.2,76.3 447.4,76.2 447.5,76.6 447.7,77.3 447.8,77.5 448,74.8 448.1,72.9 448.3,75.5 448.4,73.4 448.5,74.7 448.7,74.7 448.8,71.1 449,73.6 449.1,71.4 449.3,71.2 449.4,70.9 449.5,71.4 449.7,69.8 449.8,70.5 450,69.3 450.1,68.3 450.2,68.5 450.4,69.8 450.5,68 450.6,67.2 450.8,67.6 450.9,66.6 451,69.4 451.2,68.3 451.3,65.4 451.4,65.6 451.6,65.9 451.7,65.9 451.8,65 451.9,65.2 452.1,65.9 452.2,63.1 452.3,64.4 452.5,62.5 452.6,63.7 452.7,62.5 452.8,64.1 452.9,64.1 453.1,64.1 453.2,61.6 453.3,62.1 453.4,60 453.6,61.9 453.7,61.9 453.8,60.1 453.9,59.3 454,60.6 454.2,60.2 454.3,60 454.4,57.6 454.5,57 454.6,56.7 454.7,56.1 454.9,55 455,55 455.1,56.2 455.2,55.5 455.3,57 455.4,54.6 455.5,53.4 455.6,56.1 455.8,52.3 455.9,53 456,54.3 456.1,52.2 456.2,54.4 456.3,53.2 456.4,51.1 456.5,52.9 456.6,52.8 456.7,50.8 456.8,49 457,48.5 457.1,51 457.2,50.9 457.3,49.6 457.4,49.8 457.5,49.5 457.6,46.9 457.7,46.5 457.8,48.8 457.9,48.3 458,46.4 458.1,45.4 458.2,44.3 458.3,45.4 458.4,47.2 458.5,44.1 458.6,44.4 458.7,43 458.8,44.9 458.9,42.7 459,44.9 459.1,44 459.2,43.5 459.3,42.6 459.4,42.5 459.5,44.7 459.6,44.7 459.7,43.7 459.8,41.3 459.9,41.1 460,41.5 460.1,43.5 460.2,43.8 460.3,40.9 460.4,42.5 460.5,41.5 460.5,41.8 460.6,40.8 460.7,42.9 460.8,43.1 460.9,43.8 461,41.9 461.1,41.8 461.2,42.6 461.3,40.5 461.4,43.5 461.5,43.1" stroke="none" fill="none" marker-start="url(#mt)" marker-mid="url(#mt)" marker-end="url(#mt)"/><polyline points="462,45.3 460,44.9 461.1,45.7 459.9,49.1" stroke="none" fill="none" marker-start="url(#mtn)" marker-mid="url(#mtn)" marker-end="url(#mtn)"/>
<path d="M309.6,169.3L318.0,164.9M327.1,157.4L330.7,153.1" stroke="#444" stroke-width="1" fill="none"/>
<polyline points="304.3,172.1 323.4,162.1 334.5,148.4 342.4,142.7 345.5,139.1 348.5,135.5 351.1,132.6 353.6,129.6 357.8,125 361.5,121.3 364.7,117.3 367.6,113.5 370.2,110.1 372.6,107.2 374.8,104.6 376.8,102.1 378.7,99.9 380.5,97.7 382.2,95.7 383.8,93.9 385.2,92.1 386.7,90.5 388,89.2 389.3,87.9 390.5,86.7 391.7,85.5 392.8,84.4 393.9,83.4 394.9,82.3 395.9,81.3 396.9,80.4 397.8,79.5 398.7,78.6 399.6,77.8 400.4,77.1 401.2,76.5 402,75.9 402.8,75.3 403.6,74.8 404.3,74.2 405,73.7 405.7,73.1 406.4,72.6 407.1,72.1 407.7,71.7 408.3,71.2 408.9,70.7 409.6,70.3 410.1,69.8 410.7,69.4 411.3,68.9 411.8,68.5 412.4,68.1 412.9,67.7 413.4,67.3 414,66.9 414.5,66.6 415,66.2 415.4,65.8 415.9,65.5 416.4,65.1 416.9,64.8 417.3,64.4 417.8,64.1 418.2,63.8 418.6,63.4 419.1,63.1 419.5,62.8 419.9,62.5 420.3,62.2 420.7,61.9 421.1,61.6 421.5,61.3 421.9,61 422.2,60.8 422.6,60.5 423,60.2 423.4,59.9 423.7,59.7 424.1,59.4 424.4,59.1 424.8,58.9 425.1,58.6 425.4,58.4 425.8,58.1 426.1,57.9 426.4,57.6 426.8,57.4 427.1,57.2 427.4,56.9 427.7,56.7 428,56.5 428.3,56.3 428.6,56 428.9,55.8 429.2,55.6 429.5,55.4 429.8,55.2 430.1,54.9 430.3,54.7 430.6,54.5 430.9,54.2 431.2,54 431.4,53.7 431.7,53.5 432,53.3 432.2,53.1 432.5,52.8 432.8,52.6 433,52.4 433.3,52.2 433.5,51.9 433.8,51.7 434,51.5 434.3,51.3 434.5,51.1 434.7,50.9 435,50.7 435.2,50.5 435.5,50.3 435.7,50.1 435.9,49.9 436.1,49.7 436.4,49.5 436.6,49.3 436.8,49.1 437,48.9 437.3,48.7 437.5,48.5 437.7,48.3 437.9,48.2 438.1,48 438.3,47.8 438.5,47.6 438.7,47.4 438.9,47.2 439.2,47.1 439.4,46.9 439.6,46.7 439.8,46.5 440,46.4 440.1,46.2 440.3,46 440.5,45.9 440.7,45.7 440.9,45.5 441.1,45.4 441.3,45.2 441.5,45 441.7,44.9 441.9,44.7 442,44.6 442.2,44.4 442.4,44.2 442.6,44.1 442.8,43.9 442.9,43.8 443.1,43.6 443.3,43.5 443.5,43.3 443.6,43.2 443.8,43 444,42.9 444.2,42.7 444.3,42.6 444.5,42.4 444.7,42.3 444.8,42.1 445,42 445.2,41.8 445.3,41.7 445.5,41.5 445.6,41.4 445.8,41.2 446,41 446.1,40.9 446.3,40.7 446.4,40.6 446.6,40.4 446.8,40.2 446.9,40.1 447.1,39.9 447.2,39.8 447.4,39.6 447.5,39.5 447.7,39.3 447.8,39.2 448,39 448.1,38.9 448.3,38.7 448.4,38.6 448.5,38.5 448.7,38.3 448.8,38.2 449,38 449.1,37.9 449.3,37.7 449.4,37.6 449.5,37.5 449.7,37.3 449.8,37.2 450,37 450.1,36.9 450.2,36.8 450.4,36.6 450.5,36.5 450.6,36.4 450.8,36.2 450.9,36.1 451,36 451.2,35.8 451.3,35.7 451.4,35.6 451.6,35.4 451.7,35.3 451.8,35.2 451.9,35.1 452.1,34.9 452.2,34.8 452.3,34.7 452.5,34.5 452.6,34.4 452.7,34.3 452.8,34.2 452.9,34.1 453.1,33.9 453.2,33.8 453.3,33.7 453.4,33.6 453.6,33.4 453.7,33.3 453.8,33.2 453.9,33.1 454,33 454.2,32.8 454.3,32.7 454.4,32.6 454.5,32.5 454.6,32.4 454.7,32.3 454.9,32.1 455,32 455.1,31.9 455.2,31.9 455.3,31.8 455.4,31.7 455.5,31.6 455.6,31.5 455.8,31.4 455.9,31.3 456,31.3 456.1,31.2 456.2,31.1 456.3,31 456.4,30.9 456.5,30.9 456.6,30.8 456.7,30.7 456.8,30.6 457,30.5 457.1,30.5 457.2,30.4 457.3,30.3 457.4,30.2 457.5,30.1 457.6,30.1 457.7,30 457.8,29.9 457.9,29.8 458,29.7 458.1,29.7 458.2,29.6 458.3,29.5 458.4,29.4 458.5,29.4 458.6,29.3 458.7,29.2 458.8,29.1 458.9,29.1 459,29 459.1,28.9 459.2,28.8 459.3,28.8 459.4,28.7 459.5,28.6 459.6,28.6 459.7,28.5 459.8,28.4 459.9,28.3 460,28.3 460.1,28.2 460.2,28.1 460.3,28.1 460.4,28 460.5,27.9 460.5,27.8 460.6,27.8 460.7,27.7 460.8,27.6 460.9,27.6 461,27.5 461.1,27.4 461.2,27.4 461.3,27.3 461.4,27.2 461.5,27.2 461.6,27.1 461.6,27 461.7,26.9 461.8,26.9 461.9,26.8 462,26.7 462.1,26.7 462.2,26.6 462.3,26.5 462.4,26.5 462.4,26.4 462.5,26.4 462.6,26.3 462.7,26.2 462.8,26.2 462.9,26.1 463,26 463,26 463.1,26 463.2,26 463.3,26 463.4,26 463.5,26 463.6,26 463.6,26 463.7,26 463.8,26 463.9,26 464,26 464.1,26 464.1,26 464.2,26 464.3,26 464.4,26 464.5,26" stroke="none" fill="none" marker-start="url(#ms)" marker-mid="url(#ms)" marker-end="url(#ms)"/><polyline points="464,27 461,25.3 461,24.8 458.8,26.9" stroke="none" fill="none" marker-start="url(#msn)" marker-mid="url(#msn)" marker-end="url(#msn)"/>
<polyline points="348.5,131 353.6,126.4 357.8,120.9 361.5,116.2 364.7,112 367.6,108.2 370.2,104.8 372.6,101.7 374.8,98.9 376.8,96.3 378.7,93.9 380.5,91.7 382.2,89.6 383.8,87.7 385.2,85.8 386.7,84.2 388,82.8 389.3,81.5 390.5,80.2 391.7,79 392.8,77.9 393.9,76.7 394.9,75.7 395.9,74.6 396.9,73.6 397.8,72.7 398.7,71.7 399.6,70.9 400.4,70.2 401.2,69.6 402,68.9 402.8,68.3 403.6,67.7 404.3,67.1 405,66.6 405.7,66 406.4,65.5 407.1,65 407.7,64.5 408.3,64 408.9,63.5 409.6,63 410.1,62.5 410.7,62.1 411.3,61.6 411.8,61.2 412.4,60.8 412.9,60.4 413.4,60 414,59.5 414.5,59.2 415,58.8 415.4,58.4 415.9,58 416.4,57.6 416.9,57.3 417.3,56.9 417.8,56.6 418.2,56.2 418.6,55.9 419.1,55.5 419.5,55.2 419.9,54.9 420.3,54.6 420.7,54.3 421.1,54 421.5,53.7 421.9,53.4 422.2,53.1 422.6,52.8 423,52.5 423.4,52.2 423.7,51.9 424.1,51.6 424.4,51.4 424.8,51.1 425.1,50.8 425.4,50.6 425.8,50.3 426.1,50 426.4,49.8 426.8,49.5 427.1,49.3 427.4,49 427.7,48.8 428,48.6 428.3,48.3 428.6,48.1 428.9,47.9 429.2,47.6 429.5,47.4 429.8,47.2 430.1,47 430.3,46.7 430.6,46.5 430.9,46.3 431.2,46.1 431.4,45.9 431.7,45.7 432,45.5 432.2,45.4 432.5,45.2 432.8,45 433,44.8 433.3,44.6 433.5,44.4 433.8,44.2 434,44.1 434.3,43.9 434.5,43.7 434.7,43.5 435,43.3 435.2,43.2 435.5,43 435.7,42.8 435.9,42.7 436.1,42.5 436.4,42.3 436.6,42.2 436.8,42 437,41.8 437.3,41.7 437.5,41.5 437.7,41.4 437.9,41.2 438.1,41.1 438.3,40.9 438.5,40.7 438.7,40.6 438.9,40.4 439.2,40.3 439.4,40.1 439.6,40 439.8,39.8 440,39.7 440.1,39.6 440.3,39.4 440.5,39.3 440.7,39.1 440.9,39 441.1,38.8 441.3,38.7 441.5,38.6 441.7,38.4 441.9,38.3 442,38.2 442.2,38 442.4,37.9 442.6,37.8 442.8,37.6 442.9,37.5 443.1,37.4 443.3,37.2 443.5,37.1 443.6,37 443.8,36.9 444,36.7 444.2,36.6 444.3,36.5 444.5,36.4 444.7,36.2 444.8,36.1 445,36 445.2,35.9 445.3,35.7 445.5,35.6 445.6,35.5 445.8,35.4 446,35.2 446.1,35.1 446.3,35 446.4,34.8 446.6,34.7 446.8,34.6 446.9,34.5 447.1,34.4 447.2,34.2 447.4,34.1 447.5,34 447.7,33.9 447.8,33.8 448,33.6 448.1,33.5 448.3,33.4 448.4,33.3 448.5,33.2 448.7,33 448.8,32.9 449,32.8 449.1,32.7 449.3,32.6 449.4,32.5 449.5,32.4 449.7,32.3 449.8,32.1 450,32 450.1,31.9 450.2,31.8 450.4,31.7 450.5,31.6 450.6,31.5 450.8,31.4 450.9,31.3 451,31.2 451.2,31.1 451.3,31 451.4,30.9 451.6,30.8 451.7,30.7 451.8,30.5 451.9,30.4 452.1,30.3 452.2,30.2 452.3,30.1 452.5,30 452.6,29.9 452.7,29.8 452.8,29.7 452.9,29.6 453.1,29.5 453.2,29.4 453.3,29.3 453.4,29.3 453.6,29.2 453.7,29.1 453.8,29 453.9,28.9 454,28.8 454.2,28.7 454.3,28.6 454.4,28.5 454.5,28.4 454.6,28.3 454.7,28.2 454.9,28.1 455,28 455.1,28 455.2,27.9 455.3,27.8 455.4,27.8 455.5,27.7 455.6,27.7 455.8,27.6 455.9,27.6 456,27.5 456.1,27.5 456.2,27.4 456.3,27.3 456.4,27.3 456.5,27.2 456.6,27.2 456.7,27.1 456.8,27.1 457,27 457.1,27 457.2,26.9 457.3,26.9 457.4,26.8 457.5,26.8 457.6,26.7 457.7,26.7 457.8,26.6 457.9,26.6 458,26.5 458.1,26.4 458.2,26.4 458.3,26.3 458.4,26.3 458.5,26.2 458.6,26.2 458.7,26.1 458.8,26.1 458.9,26 459,26 459.1,25.9 459.2,25.9 459.3,25.8 459.4,25.8 459.5,25.8 459.6,25.7 459.7,25.7 459.8,25.6 459.9,25.6 460,25.5 460.1,25.5 460.2,25.4 460.3,25.4 460.4,25.3 460.5,25.3 460.5,25.2 460.6,25.2 460.7,25.1 460.8,25.1 460.9,25 461,25 461.1,24.9 461.2,24.9 461.3,24.9 461.4,24.8 461.5,24.8 461.6,24.7 461.6,24.7 461.7,24.6 461.8,24.6 461.9,24.5 462,24.5 462.1,24.5 462.2,24.4 462.3,24.4 462.4,24.3 462.4,24.3 462.5,24.2 462.6,24.2 462.7,24.1 462.8,24.1 462.9,24.1 463,24 463,24 463.1,24 463.2,24 463.3,24 463.4,24 463.5,24 463.6,24 463.6,24 463.7,24 463.8,24 463.9,24 464,24 464.1,24 464.1,24 464.2,24 464.3,24 464.4,24 464.5,24" stroke="none" fill="none" marker-start="url(#ms)" marker-mid="url(#ms)" marker-end="url(#ms)"/><polyline points="464,25 461,23.3 461,22.8 458.8,24.9" stroke="none" fill="none" marker-start="url(#msn)" marker-mid="url(#msn)" marker-end="url(#msn)"/>
<path d="M310.3,276.7L317.4,277.2" stroke="#444" stroke-width="1" fill="none"/>
<polyline points="304.3,276.2 323.4,277.7 334.5,274.1 342.4,264.8 345.5,261.9 348.5,258.9 353.6,260.2 357.8,259 361.5,256 364.7,254.7 367.6,252.3 370.2,248.9 372.6,248.3 374.8,247.1 376.8,242.5 378.7,244.7 380.5,240.7 382.2,239.6 383.8,237.6 385.2,239.6 386.7,235.5 388,233.6 389.3,229.3 390.5,223.4 391.7,221.9 392.8,220 393.9,215.3 394.9,216.9 395.9,211.4 396.9,207.9 397.8,208.3 398.7,201.8 399.6,202.7 400.4,197.4 401.2,195.1 402,191.2 402.8,188.8 403.6,184.3 404.3,180.6 405,181.9 405.7,176 406.4,176 407.1,170.2 407.7,171.2 408.3,168 408.9,164.6 409.6,162 410.1,158.6 410.7,157.4 411.3,152.4 411.8,152.3 412.4,152.1 412.9,147.2 413.4,149 414,147.1 414.5,142.9 415,141 415.4,139.8 415.9,137.8 416.4,139.3 416.9,134.7 417.3,131.8 417.8,131.1 418.2,133.1 418.6,133.4 419.1,129.9 419.5,128.9 419.9,128.2 420.3,128.2 420.7,124.6 421.1,125.6 421.5,124.4 421.9,123.8 422.2,120.6 422.6,119.7 423,119.7 423.4,121.7 423.7,117.9 424.1,118.4 424.4,116.3 424.8,114.6 425.1,113.8 425.4,117 425.8,116.2 426.1,113.6 426.4,114.5 426.8,113.9 427.1,114.5 427.4,114.2 427.7,110.9 428,113.2 428.3,112.6 428.6,110.2 428.9,111.1 429.2,108.6 429.5,107.5 429.8,106.3 430.1,109 430.3,104.9 430.6,103.9 430.9,107.1 431.2,106.3 431.4,104.1 431.7,105.1 432,100.4 432.2,100.7 432.5,100.1 432.8,100 433,98 433.3,96.8 433.5,97.4 433.8,99.5 434,99.3 434.3,97.4 434.5,95.4 434.7,93.5 435,96.4 435.2,93.6 435.5,93.9 435.7,89.8 435.9,90 436.1,92.5 436.4,91.6 436.6,91.4 436.8,89.4 437,87.9 437.3,88.1 437.5,88.8 437.7,85.5 437.9,86 438.1,84.1 438.3,86 438.5,81.6 438.7,84.4 438.9,85.1 439.2,79.9 439.4,82.2 439.6,81.8 439.8,82.3 440,80.4 440.1,78.2 440.3,78.4 440.5,80.6 440.7,79.8 440.9,75.4 441.1,74.7 441.3,74.1 441.5,73.3 441.7,74.6 441.9,72.3 442,75.1 442.2,73.3 442.4,69.9 442.6,71.1 442.8,69.3 442.9,69.4 443.1,67.3 443.3,66.3 443.5,65.6 443.6,65.8 443.8,66.8 444,65.2 444.2,62 444.3,64.6 444.5,64.7 444.7,63.5 444.8,62.9 445,58.2 445.2,59.8 445.3,57.1 445.5,59.9 445.6,56.3 445.8,58.3 446,55.3 446.1,56.9 446.3,54.3 446.4,52.3 446.6,53.3 446.8,52.3 446.9,54.6 447.1,50.9 447.2,51.3 447.4,50.9 447.5,52.2 447.7,47.4 447.8,49.2 448,48.1 448.1,48.6 448.3,49.2 448.4,45.3 448.5,46.7 448.7,45.5 448.8,45.3 449,42.5 449.1,45.9 449.3,46.3 449.4,42.9 449.5,42.4 449.7,45.4 449.8,40.6 450,40.1 450.1,39.8 450.2,43.2 450.4,42.6 450.5,40.7 450.6,41.2 450.8,37.9 450.9,40.7 451,39.4 451.2,39.4 451.3,38.4 451.4,38.2 451.6,37 451.7,35.8 451.8,37.4 451.9,36.2 452.1,38.1 452.2,38.4 452.3,37.6 452.5,36 452.6,34.6 452.7,35 452.8,35.2 452.9,35.6 453.1,37 453.2,32.3 453.3,34 453.4,33.8 453.6,34.6 453.7,35.2 453.8,34.3 453.9,33.3 454,33.6 454.2,32.9 454.3,33.6 454.4,32.5 454.5,32.1 454.6,29.6 454.7,32.7 454.9,29.8 455,30.7 455.1,31.6 455.2,32.2 455.3,32.2 455.4,27.2 455.5,28.6 455.6,28.5 455.8,28.8 455.9,27.5 456,29.5 456.1,27 456.2,28.1 456.3,31.2 456.4,30.1 456.5,28.6 456.6,26.7 456.7,30.9 456.8,29.5 457,27 457.1,27.5 457.2,29 457.3,29.1 457.4,26.9 457.5,30.3 457.6,27 457.7,26.6 457.8,29.5 457.9,25.9 458,28.5 458.1,26 458.2,27.9 458.3,26.2 458.4,26.7 458.5,29.4 458.6,26.9 458.7,26.7 458.8,27.5 458.9,25.8 459,25.2 459.1,26.1 459.2,25.5 459.3,25 459.4,28.8 459.5,24.1 459.6,27.9 459.7,28.4 459.8,27.2 459.9,23.7 460,26 460.1,23.7 460.2,26.5 460.3,27 460.4,24.7 460.5,23.5 460.5,26.2 460.6,24 460.7,25 460.8,25.8 460.9,28 461,25.4 461.1,24.2 461.2,27.5 461.3,27.6 461.4,26.1 461.5,23.7" stroke="none" fill="none" marker-start="url(#ms)" marker-mid="url(#ms)" marker-end="url(#ms)"/><polyline points="462.2,26 460.5,25.6 461.7,26.4 460.8,29.8" stroke="none" fill="none" marker-start="url(#msn)" marker-mid="url(#msn)" marker-end="url(#msn)"/>
<polyline points="393.9,228 394.9,228 395.9,224.4 396.9,220.5 397.8,216.8 398.7,213.2 399.6,209.7 400.4,206.3 401.2,203 402,199.9 402.8,197.3 403.6,194.8 404.3,192.3 405,190 405.7,187.6 406.4,185.4 407.1,183.2 407.7,181 408.3,178.9 408.9,176.8 409.6,174.8 410.1,172.9 410.7,170.9 411.3,169 411.8,167.2 412.4,165.4 412.9,163.6 413.4,161.8 414,160.1 414.5,158.5 415,156.8 415.4,155.2 415.9,153.7 416.4,152.1 416.9,150.6 417.3,149.1 417.8,147.7 418.2,146.2 418.6,144.8 419.1,143.4 419.5,142 419.9,140.6 420.3,139.3 420.7,138 421.1,136.7 421.5,135.7 421.9,134.6 422.2,133.6 422.6,132.6 423,131.6 423.4,130.6 423.7,129.6 424.1,128.7 424.4,127.7 424.8,126.8 425.1,125.9 425.4,124.9 425.8,124 426.1,123.1 426.4,122.3 426.8,121.4 427.1,120.5 427.4,119.7 427.7,118.8 428,118 428.3,117.5 428.6,117 428.9,116.6 429.2,116.1 429.5,115.7 429.8,115.2 430.1,114.8 430.3,114.3 430.6,113.9 430.9,113.4 431.2,113 431.4,112.6 431.7,112.2 432,111.7 432.2,111.3 432.5,110.9 432.8,110.5 433,110.1 433.3,109.7 433.5,109.3 433.8,108.9 434,108.5 434.3,108.1 434.5,107.8 434.7,107.4 435,107 435.2,106.6 435.5,106.3 435.7,105.9 435.9,105.5 436.1,105 436.4,104.3 436.6,103.6 436.8,103 437,102.3 437.3,101.7 437.5,101 437.7,100.4 437.9,99.7 438.1,99.1 438.3,98.5 438.5,97.9 438.7,97.2 438.9,96.6 439.2,96 439.4,95.4 439.6,94.8 439.8,94.2 440,93.6 440.1,93 440.3,92.5 440.5,91.9 440.7,91.3 440.9,90.7 441.1,90.2 441.3,89.6 441.5,89 441.7,88.5 441.9,87.9 442,87.4 442.2,86.8 442.4,86.3 442.6,85.8 442.8,85.2 442.9,84.7 443.1,84.2 443.3,83.6 443.5,83.1 443.6,82.6 443.8,82.1 444,81.6 444.2,81.1 444.3,80.6 444.5,80.1 444.7,79.6 444.8,79.1 445,78.6 445.2,78.1 445.3,77.6 445.5,77.1 445.6,76.6 445.8,76.2 446,75.7 446.1,75 446.3,74.3 446.4,73.6 446.6,72.9 446.8,72.2 446.9,71.4 447.1,70.7 447.2,70 447.4,69.4 447.5,68.7 447.7,68 447.8,67.3 448,66.6 448.1,65.9 448.3,65.3 448.4,64.6 448.5,63.9 448.7,63.3 448.8,62.6 449,62 449.1,61.3 449.3,60.7 449.4,60 449.5,59.4 449.7,58.7 449.8,58.1 450,57.5 450.1,56.8 450.2,56.2 450.4,55.6 450.5,55 450.6,54.4 450.8,53.7 450.9,53.1 451,52.5 451.2,51.9 451.3,51.3 451.4,50.7 451.6,50.1 451.7,49.5 451.8,48.9 451.9,48.4 452.1,47.8 452.2,47.2 452.3,46.6 452.5,46 452.6,45.6 452.7,45.3 452.8,45 452.9,44.7 453.1,44.4 453.2,44.1 453.3,43.8 453.4,43.5 453.6,43.1 453.7,42.8 453.8,42.5 453.9,42.2 454,41.9 454.2,41.7 454.3,41.4 454.4,41.1 454.5,40.8 454.6,40.5 454.7,40.2 454.9,39.9 455,39.6 455.1,39.3 455.2,39 455.3,38.8 455.4,38.5 455.5,38.2 455.6,37.9 455.8,37.6 455.9,37.3 456,37.1 456.1,36.8 456.2,36.5 456.3,36.2 456.4,36 456.5,35.7 456.6,35.4 456.7,35.2 456.8,34.9 457,34.6 457.1,34.4 457.2,34.1 457.3,33.8 457.4,33.6 457.5,33.3 457.6,33 457.7,32.8 457.8,32.5 457.9,32.3 458,32 458.1,31.9 458.2,31.8 458.3,31.8 458.4,31.7 458.5,31.6 458.6,31.5 458.7,31.4 458.8,31.4 458.9,31.3 459,31.2 459.1,31.1 459.2,31 459.3,31 459.4,30.9 459.5,30.8 459.6,30.7 459.7,30.6 459.8,30.6 459.9,30.5 460,30.4 460.1,30.3 460.2,30.3 460.3,30.2 460.4,30.1 460.5,30 460.5,30 460.6,29.9 460.7,29.8 460.8,29.7 460.9,29.7 461,29.6 461.1,29.5 461.2,29.4 461.3,29.4 461.4,29.3 461.5,29.2 461.6,29.2 461.6,29.1 461.7,29 461.8,28.9 461.9,28.9 462,28.8 462.1,28.7 462.2,28.7 462.3,28.6 462.4,28.5 462.4,28.4 462.5,28.4 462.6,28.3 462.7,28.2 462.8,28.2 462.9,28.1 463,28 463,28 463.1,28 463.2,28 463.3,28 463.4,28 463.5,28 463.6,28 463.6,28 463.7,28 463.8,28 463.9,28 464,28 464.1,28 464.1,28 464.2,28 464.3,28 464.4,28 464.5,28" stroke="none" fill="none" marker-start="url(#ms)" marker-mid="url(#ms)" marker-end="url(#ms)"/><polyline points="464,29 461,27.3 461,26.8 458.8,28.9" stroke="none" fill="none" marker-start="url(#msn)" marker-mid="url(#msn)" marker-end="url(#msn)"/>
<polyline points="301.6,124.9 435.8,23.5" fill="none" stroke="#000" stroke-width="2.2" stroke-linejoin="round"/>
<polyline points="436.8,118.5 407.4,246.6" fill="none" stroke="#000" stroke-width="2.2" stroke-linejoin="round"/>
<polyline points="408.5,252.1 383.9,290.2" fill="none" stroke="#000" stroke-width="2.2" stroke-linejoin="round"/>
<polyline points="379.4,294.6 350.4,315.9" fill="none" stroke="#000" stroke-width="2.2" stroke-linejoin="round"/>
</g>
<text y="60.5" font-size="24.5" font-style="italic"><tspan x="345.0">/</tspan><tspan x="348.5">~</tspan></text><text x="366.9" y="60.5" font-size="24.5" font-style="italic" textLength="15.4" lengthAdjust="spacingAndGlyphs">V</text>
<text y="244" font-size="24.5" font-style="italic"><tspan x="414.7">/</tspan><tspan x="416.3">~</tspan></text><text x="428.8" y="244" font-size="24.5" font-style="italic" textLength="19.8" lengthAdjust="spacingAndGlyphs">V</text><text x="455.4" y="230.7" font-size="13.5">a</text>
<text y="287.4" font-size="24.5" font-style="italic"><tspan x="402.0">/</tspan><tspan x="403.3">~</tspan></text><text x="422.1" y="287.4" font-size="24.5" font-style="italic" textLength="18.5" lengthAdjust="spacingAndGlyphs">V</text><text x="443.9" y="273.7" font-size="13.5">2</text>
<text y="318.8" font-size="24.5" font-style="italic"><tspan x="375.8">/</tspan><tspan x="376.7">~</tspan></text><text x="394.9" y="318.8" font-size="24.5" font-style="italic" textLength="17.8" lengthAdjust="spacingAndGlyphs">V</text>
<clipPath id="cb"><rect x="565" y="14.8" width="450.29999999999995" height="339.7"/></clipPath><g clip-path="url(#cb)">
<polyline points="650.7,308.5 649,311.9 647.4,313.3 646.7,307.6 645.9,302 645.2,296.7 644.5,291.4 643.1,287.7 641.8,284.3 640.6,280.9 639.4,277.8 638.3,274.7 637.2,271.2 636.1,267.7 635.1,264.4 634.2,261.2 633.2,258.1 632.3,255.1 631.4,252.1 630.6,249.3 629.7,246.5 628.9,243.8 628.1,241.2 627.4,238.6 626.6,236.1 625.9,233.7 625.2,230.4 624.5,225.7 623.9,221.2 623.2,216.8 622.6,212.5 621.9,207.8 621.3,203.3 620.7,198.8 620.2,194.4 619.6,190.1 619,185.9 618.5,181.8 617.9,177 617.4,172.2 616.9,167.6 616.4,163.2 615.9,159.7 615.4,156.2 614.9,152.7 614.4,149.3 613.9,145.6 613.5,141.9 613,138.2 612.6,134.6 612.2,131 611.7,128.6 611.3,126.4 610.9,124.2 610.5,122 610.1,119.9 609.7,117.8 609.3,115.7 608.9,113.7 608.5,111.9 608.1,110.3 607.7,108.8 607.4,107.3 607,105.8 606.7,104.4 606.3,102.9 606,101.5 605.6,100.1 605.3,98.7 604.9,97.4 604.6,96 604.3,94.7 603.9,93.7 603.6,92.8 603.3,91.8 603,90.9 602.7,90 602.4,89.1 602.1,88.2 601.8,87.3 601.5,86.4 601.2,85.5 600.9,84.6 600.6,83.8 600.3,82.9 600,82.1 599.8,81.3 599.5,80.5 599.2,79.8 598.9,79.1 598.7,78.4 598.4,77.7 598.1,77 597.9,76.3 597.6,75.6 597.4,75 597.1,74.3 596.8,73.6 596.6,73 596.4,72.3 596.1,71.7 595.9,71 595.6,70.4 595.4,69.8 595.1,69.2 594.9,68.5 594.7,67.9 594.5,67.3 594.2,66.7 594,66.1 593.8,65.5 593.5,64.9 593.3,64.4 593.1,63.8 592.9,63.3 592.7,62.8 592.5,62.4 592.2,62 592,61.6 591.8,61.1 591.6,60.7 591.4,60.3 591.2,59.9 591,59.5 590.8,59.1 590.6,58.7 590.4,58.3 590.2,57.9 590,57.5 589.8,57.1 589.6,56.7 589.4,56.3 589.2,56 589,55.6 588.9,55.2 588.7,54.8 588.5,54.5 588.3,54.1 588.1,53.7 587.9,53.4 587.7,53 587.6,52.6" stroke="none" fill="none" marker-start="url(#mc)" marker-mid="url(#mc)" marker-end="url(#mc)"/><polyline points="589,54.8 587.8,54.3 589.7,54.9 589.4,58.2" stroke="none" fill="none" marker-start="url(#mcn)" marker-mid="url(#mcn)" marker-end="url(#mcn)"/>
<path d="M652.6,314.9L663.7,315.5M673.2,313.5L676.9,311.6M692.4,310.5L702.2,306.1M711.8,304.1L722.9,304.1" stroke="#444" stroke-width="1" fill="none"/>
<polyline points="668.7,315.7 681.4,309.4 687.8,312.5 706.8,304.1 727.9,304.1" stroke="none" fill="none" marker-start="url(#mc)" marker-mid="url(#mc)" marker-end="url(#mc)"/>
<path d="M692.9,128.8L693.5,129.7M701.5,138.6L704.2,141.4M713.0,149.6L723.3,158.8" stroke="#444" stroke-width="1" fill="none"/>
<polyline points="587.6,42 587.7,42 587.9,42 588.1,42.1 588.3,42.1 588.5,42.2 588.7,42.3 588.9,42.4 589,42.5 589.2,42.6 589.4,42.6 589.6,42.7 589.8,42.8 590,42.9 590.2,43 590.4,43.1 590.6,43.2 590.8,43.3 591,43.3 591.2,43.4 591.4,43.5 591.6,43.6 591.8,43.7 592,43.8 592.2,43.9 592.5,44 592.7,44.1 592.9,44.2 593.1,44.3 593.3,44.4 593.5,44.5 593.8,44.6 594,44.7 594.2,44.9 594.5,45.1 594.7,45.3 594.9,45.5 595.1,45.7 595.4,45.9 595.6,46.1 595.9,46.3 596.1,46.5 596.4,46.7 596.6,46.9 596.8,47.1 597.1,47.3 597.4,47.5 597.6,47.8 597.9,48 598.1,48.2 598.4,48.4 598.7,48.6 598.9,48.9 599.2,49.1 599.5,49.3 599.8,49.6 600,49.8 600.3,50 600.6,50.3 600.9,50.5 601.2,50.8 601.5,51 601.8,51.3 602.1,51.5 602.4,51.8 602.7,52.1 603,52.3 603.3,52.6 603.6,52.9 603.9,53.1 604.3,53.4 604.6,53.7 604.9,54 605.3,54.2 605.6,54.5 606,54.8 606.3,55.1 606.7,55.4 607,55.7 607.4,56 607.7,56.3 608.1,56.7 608.5,57 608.9,57.3 609.3,57.6 609.7,58 610.1,58.2 610.5,58.3 610.9,58.5 611.3,58.7 611.7,58.9 612.2,59.1 612.6,59.3 613,59.5 613.5,59.7 613.9,59.9 614.4,60.1 614.9,60.3 615.4,60.5 615.9,60.7 616.4,61 616.9,61.2 617.4,61.4 617.9,61.7 618.5,61.9 619,62.2 619.6,62.4 620.2,62.7 620.7,62.9 621.3,63.2 621.9,63.5 622.6,63.7 623.2,64 623.9,64.3 624.5,64.6 625.2,64.9 625.9,65.1 626.6,65.3 627.4,65.5 628.1,65.7 628.9,65.9 629.7,66.1 630.6,66.3 631.4,66.6 632.3,66.8 633.2,67 634.2,67.3 635.1,67.5 636.1,67.8 637.2,68.1 638.3,68.4 639.4,68.9 640.6,69.5 641.8,70.3 643.1,71 644.5,71.8 645.9,72.6 647.4,73.5 649,74.4 650.7,75.7 652.5,77.4 654.4,79.3 656.5,81.3 658.7,83.5 661.1,85.9 663.8,89.1 666.7,92.7 670,96.7 673.7,101.2 677.9,106.4 680.5,109.4 683,112.4 686.1,118.3 689.2,124.1 697.2,134.4 708.5,145.6 727.8,162.8" stroke="none" fill="none" marker-start="url(#mc)" marker-mid="url(#mc)" marker-end="url(#mc)"/>
<polyline points="652.5,305 650.7,300.5 649,294.8 647.4,289.7 645.9,285.5 644.5,281.5 643.1,277.7 641.8,274 640.6,270 639.4,266.1 638.3,262.4 637.2,258.9 636.1,255.5 635.1,252.2 634.2,249 633.2,246 632.3,243 631.4,240.2 630.6,237.4 629.7,234.7 628.9,231.9 628.1,227.4 627.4,222.9 626.6,218.6 625.9,214.4 625.2,210.3 624.5,206.2 623.9,202.2 623.2,198.2 622.6,193.8 621.9,189.1 621.3,184.6 620.7,179.7 620.2,174.5 619.6,169.4 619,164.3 618.5,160 617.9,155.8 617.4,151.6 616.9,147.6 616.4,144 615.9,140.4 615.4,136.9 614.9,133.4 614.4,130.2 613.9,127.8 613.5,125.4 613,123.1 612.6,120.8 612.2,118.6 611.7,116.4 611.3,114.2 610.9,112.2 610.5,110.6 610.1,109 609.7,107.4 609.3,105.8 608.9,104.3 608.5,102.7 608.1,101.2 607.7,99.8 607.4,98.3 607,96.8 606.7,95.4 606.3,94.2 606,93.2 605.6,92.1 605.3,91.1 604.9,90.1 604.6,89.1 604.3,88.2 603.9,87.2 603.6,86.2 603.3,85.3 603,84.3 602.7,83.4 602.4,82.5 602.1,81.6 601.8,80.8 601.5,80 601.2,79.3 600.9,78.5 600.6,77.8 600.3,77.1 600,76.4 599.8,75.6 599.5,74.9 599.2,74.2 598.9,73.5 598.7,72.9 598.4,72.2 598.1,71.5 597.9,70.8 597.6,70.2 597.4,69.5 597.1,68.9 596.8,68.2 596.6,67.6 596.4,67 596.1,66.3 595.9,65.7 595.6,65.1 595.4,64.5 595.1,63.9 594.9,63.3 594.7,62.9 594.5,62.5 594.2,62.1 594,61.7 593.8,61.2 593.5,60.8 593.3,60.4 593.1,60 592.9,59.6 592.7,59.2 592.5,58.8 592.2,58.4 592,58.1 591.8,57.7 591.6,57.3 591.4,56.9 591.2,56.5 591,56.2 590.8,55.8 590.6,55.4 590.4,55.1 590.2,54.7 590,54.3 589.8,54 589.6,53.6 589.4,53.3 589.2,52.9 589,52.6 588.9,52.2 588.7,51.9 588.5,51.5 588.3,51.2 588.1,50.9 587.9,50.5 587.7,50.2 587.6,49.9" stroke="none" fill="none" marker-start="url(#mt)" marker-mid="url(#mt)" marker-end="url(#mt)"/><polyline points="589,52 587.9,51.5 589.8,52.1 589.6,55.3" stroke="none" fill="none" marker-start="url(#mtn)" marker-mid="url(#mtn)" marker-end="url(#mtn)"/>
<path d="M654.5,309.3L662.0,322.0M667.9,322.6L673.8,316.2M680.7,316.0L686.4,321.7M691.6,320.5L695.6,309.9M700.5,309.0L704.6,314.0M712.8,318.3L722.9,319.5" stroke="#444" stroke-width="1" fill="none"/>
<polyline points="664.5,326.3 677.2,312.5 689.9,325.2 697.3,305.2 707.8,317.8 727.9,320" stroke="none" fill="none" marker-start="url(#mt)" marker-mid="url(#mt)" marker-end="url(#mt)"/>
<path d="M692.9,130.8L693.5,131.7M701.5,140.6L704.2,143.4M713.0,151.6L723.3,160.8" stroke="#444" stroke-width="1" fill="none"/>
<polyline points="587.6,44 587.7,44 587.9,44 588.1,44.1 588.3,44.1 588.5,44.2 588.7,44.3 588.9,44.4 589,44.5 589.2,44.6 589.4,44.6 589.6,44.7 589.8,44.8 590,44.9 590.2,45 590.4,45.1 590.6,45.2 590.8,45.3 591,45.3 591.2,45.4 591.4,45.5 591.6,45.6 591.8,45.7 592,45.8 592.2,45.9 592.5,46 592.7,46.1 592.9,46.2 593.1,46.3 593.3,46.4 593.5,46.5 593.8,46.6 594,46.7 594.2,46.9 594.5,47.1 594.7,47.3 594.9,47.5 595.1,47.7 595.4,47.9 595.6,48.1 595.9,48.3 596.1,48.5 596.4,48.7 596.6,48.9 596.8,49.1 597.1,49.3 597.4,49.5 597.6,49.8 597.9,50 598.1,50.2 598.4,50.4 598.7,50.6 598.9,50.9 599.2,51.1 599.5,51.3 599.8,51.6 600,51.8 600.3,52 600.6,52.3 600.9,52.5 601.2,52.8 601.5,53 601.8,53.3 602.1,53.5 602.4,53.8 602.7,54.1 603,54.3 603.3,54.6 603.6,54.9 603.9,55.1 604.3,55.4 604.6,55.7 604.9,56 605.3,56.2 605.6,56.5 606,56.8 606.3,57.1 606.7,57.4 607,57.7 607.4,58 607.7,58.3 608.1,58.7 608.5,59 608.9,59.3 609.3,59.6 609.7,60 610.1,60.2 610.5,60.3 610.9,60.5 611.3,60.7 611.7,60.9 612.2,61.1 612.6,61.3 613,61.5 613.5,61.7 613.9,61.9 614.4,62.1 614.9,62.3 615.4,62.5 615.9,62.7 616.4,63 616.9,63.2 617.4,63.4 617.9,63.7 618.5,63.9 619,64.2 619.6,64.4 620.2,64.7 620.7,64.9 621.3,65.2 621.9,65.5 622.6,65.7 623.2,66 623.9,66.3 624.5,66.6 625.2,66.9 625.9,67.1 626.6,67.3 627.4,67.5 628.1,67.7 628.9,67.9 629.7,68.1 630.6,68.3 631.4,68.6 632.3,68.8 633.2,69 634.2,69.3 635.1,69.5 636.1,69.8 637.2,70.1 638.3,70.4 639.4,70.9 640.6,71.5 641.8,72.3 643.1,73 644.5,73.8 645.9,74.6 647.4,75.5 649,76.4 650.7,77.7 652.5,79.4 654.4,81.3 656.5,83.3 658.7,85.5 661.1,87.9 663.8,91.1 666.7,94.7 670,98.7 673.7,103.2 677.9,108.4 680.5,111.4 683,114.4 686.1,120.3 689.2,126.1 697.2,136.4 708.5,147.6 727.8,164.8" stroke="none" fill="none" marker-start="url(#mt)" marker-mid="url(#mt)" marker-end="url(#mt)"/>
<polyline points="661.1,325 658.7,323.3 656.5,320.4 654.4,315.7 652.5,311 650.7,306.3 649,301.8 647.4,297.5 645.9,293.5 644.5,289.7 643.1,286 641.8,282.6 640.6,279.3 639.4,276.1 638.3,272.5 637.2,268.9 636.1,265.4 635.1,262.1 634.2,258.9 633.2,255.8 632.3,252.7 631.4,249.8 630.6,246.9 629.7,244.1 628.9,241.4 628.1,238.8 627.4,236.3 626.6,233.8 625.9,229.4 625.2,224.6 624.5,220 623.9,215.4 623.2,210.8 622.6,206 621.9,201.3 621.3,196.8 620.7,192.3 620.2,187.9 619.6,183.7 619,178.8 618.5,173.8 617.9,169 617.4,164.5 616.9,160.8 616.4,157.1 615.9,153.5 615.4,150 614.9,146.2 614.4,142.3 613.9,138.5 613.5,134.8 613,131.3 612.6,128.9 612.2,126.6 611.7,124.4 611.3,122.1 610.9,119.9 610.5,117.8 610.1,115.6 609.7,113.6 609.3,111.9 608.9,110.4 608.5,108.8 608.1,107.3 607.7,105.8 607.4,104.3 607,102.8 606.7,101.3 606.3,99.9 606,98.5 605.6,97 605.3,95.7 604.9,94.7 604.6,93.7 604.3,92.7 603.9,91.8 603.6,90.8 603.3,89.9 603,88.9 602.7,88 602.4,87.1 602.1,86.2 601.8,85.3 601.5,84.4 601.2,83.5 600.9,82.7 600.6,81.9 600.3,81.1 600,80.4 599.8,79.6 599.5,78.9 599.2,78.2 598.9,77.5 598.7,76.8 598.4,76.1 598.1,75.4 597.9,74.7 597.6,74 597.4,73.3 597.1,72.7 596.8,72 596.6,71.3 596.4,70.7 596.1,70 595.9,69.4 595.6,68.8 595.4,68.1 595.1,67.5 594.9,66.9 594.7,66.3 594.5,65.7 594.2,65.1 594,64.5 593.8,64 593.5,63.6 593.3,63.2 593.1,62.7 592.9,62.3 592.7,61.8 592.5,61.4 592.2,61 592,60.6 591.8,60.1 591.6,59.7 591.4,59.3 591.2,58.9 591,58.5 590.8,58.1 590.6,57.7 590.4,57.3 590.2,56.9 590,56.5 589.8,56.1 589.6,55.7 589.4,55.3 589.2,55 589,54.6 588.9,54.2 588.7,53.8 588.5,53.5 588.3,53.1 588.1,52.7 587.9,52.4 587.7,52 587.6,51.6" stroke="none" fill="none" marker-start="url(#ms)" marker-mid="url(#ms)" marker-end="url(#ms)"/><polyline points="589,53.8 587.8,53.3 589.7,53.9 589.4,57.2" stroke="none" fill="none" marker-start="url(#msn)" marker-mid="url(#msn)" marker-end="url(#msn)"/>
<path d="M669.7,326.5L674.1,320.8M679.8,321.1L686.2,331.5M690.1,331.0L694.9,314.2M712.0,313.1L723.7,320.4" stroke="#444" stroke-width="1" fill="none"/>
<polyline points="666.6,330.5 677.2,316.8 688.8,335.8 696.2,309.4 707.8,310.4 727.9,323.1" stroke="none" fill="none" marker-start="url(#ms)" marker-mid="url(#ms)" marker-end="url(#ms)"/>
<path d="M701.5,145.3L704.2,148.0M712.7,156.5L723.5,167.3" stroke="#444" stroke-width="1" fill="none"/>
<polyline points="587.6,49 587.7,49 587.9,49 588.1,49.1 588.3,49.1 588.5,49.2 588.7,49.3 588.9,49.4 589,49.5 589.2,49.6 589.4,49.6 589.6,49.7 589.8,49.8 590,49.9 590.2,50 590.4,50.1 590.6,50.2 590.8,50.3 591,50.3 591.2,50.4 591.4,50.5 591.6,50.6 591.8,50.7 592,50.8 592.2,50.9 592.5,51 592.7,51.1 592.9,51.2 593.1,51.3 593.3,51.4 593.5,51.5 593.8,51.6 594,51.7 594.2,51.9 594.5,52.1 594.7,52.3 594.9,52.5 595.1,52.7 595.4,52.9 595.6,53.1 595.9,53.3 596.1,53.5 596.4,53.7 596.6,53.9 596.8,54.1 597.1,54.3 597.4,54.5 597.6,54.8 597.9,55 598.1,55.2 598.4,55.4 598.7,55.6 598.9,55.9 599.2,56.1 599.5,56.3 599.8,56.6 600,56.8 600.3,57 600.6,57.3 600.9,57.5 601.2,57.8 601.5,58 601.8,58.3 602.1,58.5 602.4,58.8 602.7,59.1 603,59.3 603.3,59.6 603.6,59.9 603.9,60.1 604.3,60.4 604.6,60.7 604.9,61 605.3,61.2 605.6,61.5 606,61.8 606.3,62.1 606.7,62.4 607,62.7 607.4,63 607.7,63.3 608.1,63.7 608.5,64 608.9,64.3 609.3,64.6 609.7,65 610.1,65.2 610.5,65.3 610.9,65.5 611.3,65.7 611.7,65.9 612.2,66.1 612.6,66.3 613,66.5 613.5,66.7 613.9,66.9 614.4,67.1 614.9,67.3 615.4,67.5 615.9,67.7 616.4,68 616.9,68.2 617.4,68.4 617.9,68.7 618.5,68.9 619,69.2 619.6,69.4 620.2,69.7 620.7,69.9 621.3,70.2 621.9,70.5 622.6,70.7 623.2,71 623.9,71.3 624.5,71.6 625.2,71.9 625.9,72.1 626.6,72.3 627.4,72.5 628.1,72.7 628.9,72.9 629.7,73.1 630.6,73.3 631.4,73.6 632.3,73.8 633.2,74 634.2,74.3 635.1,74.5 636.1,74.8 637.2,75.1 638.3,75.4 639.4,75.9 640.6,76.5 641.8,77.3 643.1,78 644.5,78.8 645.9,79.6 647.4,80.5 649,81.4 650.7,82.7 652.5,84.4 654.4,86.3 656.5,88.3 658.7,90.5 661.1,92.9 663.8,96.1 666.7,99.7 670,103.7 673.7,108.2 677.9,113.4 680.5,116.4 683,119.4 686.1,125.3 689.2,131.1 697.2,141 708.5,152.3 727.8,171.5" stroke="none" fill="none" marker-start="url(#ms)" marker-mid="url(#ms)" marker-end="url(#ms)"/>
<polyline points="660.3,335.8 668.7,351.6" stroke="none" fill="none" marker-start="url(#ms)" marker-mid="url(#ms)" marker-end="url(#ms)"/>
<polyline points="681.4,333.7 673,340" stroke="none" fill="none" marker-start="url(#mt)" marker-mid="url(#mt)" marker-end="url(#mt)"/>
<polyline points="654.0,318.0 654.0,355.0" fill="none" stroke="#333" stroke-width="1" stroke-linejoin="round"/>
<polyline points="656.0,320.0 656.0,355.0" fill="none" stroke="#333" stroke-width="1" stroke-linejoin="round"/>
<polyline points="659.2,325.0 659.2,355.0" fill="none" stroke="#333" stroke-width="1" stroke-linejoin="round"/>
<polyline points="662.4,330.0 662.4,355.0" fill="none" stroke="#333" stroke-width="1" stroke-linejoin="round"/>
<polyline points="666.6,335.0 666.6,355.0" fill="none" stroke="#333" stroke-width="1" stroke-linejoin="round"/>
<polyline points="675.0,330.0 675.0,355.0" fill="none" stroke="#333" stroke-width="1" stroke-linejoin="round"/>
<polyline points="679.3,338.0 679.3,355.0" fill="none" stroke="#333" stroke-width="1" stroke-linejoin="round"/>
<polyline points="697.0,306.0 696.2,355.0 707.8,318.0" fill="none" stroke="#333" stroke-width="1" stroke-linejoin="round"/>
<path d="M857.2,187.8L866.2,182.5M876.0,175.7L878.0,174.1" stroke="#444" stroke-width="1" fill="none"/>
<polyline points="852,190.8 871.4,179.5 882.7,170.3 890.7,163.4 893.8,161 896.9,158.7 902,154.1 906.3,149.7 910.1,144.9 913.4,140.8 916.3,137.6 919,135 921.4,132.6 923.6,130.2 925.7,127.6 927.6,125.2 929.4,123 931.1,120.9 932.7,118.9 934.2,117 935.7,115.2 937,113.5 938.3,111.9 939.6,110.3 940.7,108.9 941.9,108.1 943,107.3 944,106.6 945.1,105.9 946,105.2 947,104.5 947.9,103.8 948.8,103.2 949.6,102.6 950.5,102 951.3,101.5 952.1,101.1 952.8,100.7 953.6,100.4 954.3,100.1 955,99.8 955.7,99.5 956.4,99.2 957,99 957.7,98.7 958.3,98.4 958.9,98.2 959.5,97.9 960.1,97.7 960.7,97.4 961.2,97.2 961.8,97 962.3,96.7 962.9,96.4 963.4,96.1 963.9,95.8 964.4,95.5 964.9,95.2 965.4,94.9 965.9,94.7 966.3,94.4 966.8,94.1 967.3,93.8 967.7,93.6 968.1,93.3 968.6,93.1 969,92.8 969.4,92.6 969.8,92.3 970.2,92.1 970.6,91.9 971,91.6 971.4,91.4 971.8,91.2 972.2,90.9 972.6,90.7 972.9,90.5 973.3,90.3 973.7,90.1 974,89.9 974.4,89.7 974.7,89.5 975.1,89.3 975.4,89.1 975.7,88.8 976.1,88.5 976.4,88.2 976.7,88 977,87.7 977.3,87.4 977.7,87.2 978,86.9 978.3,86.6 978.6,86.4 978.9,86.1 979.2,85.9 979.5,85.6 979.7,85.4 980,85.1 980.3,84.9 980.6,84.7 980.9,84.4 981.2,84.2 981.4,84 981.7,83.7 982,83.5 982.2,83.3 982.5,83.1 982.7,82.8 983,82.6 983.3,82.4 983.5,82.2 983.8,82 984,81.8 984.3,81.5 984.5,81.3 984.7,81.1 985,80.9 985.2,80.7 985.5,80.5 985.7,80.3 985.9,80.1 986.2,79.9 986.4,79.7 986.6,79.6 986.8,79.4 987.1,79.2 987.3,79 987.5,78.8 987.7,78.6 987.9,78.4 988.1,78.2 988.4,78.1 988.6,77.9 988.8,77.7 989,77.5 989.2,77.4 989.4,77.2 989.6,77 989.8,76.8 990,76.7 990.2,76.5 990.4,76.3 990.6,76.2 990.8,76 991,75.9 991.2,75.9 991.4,75.9 991.5,75.9 991.7,75.9 991.9,75.9 992.1,75.9 992.3,75.9" stroke="none" fill="none" marker-start="url(#mc)" marker-mid="url(#mc)" marker-end="url(#mc)"/><polyline points="991.8,76.9 988.8,75.2 988.8,74.7 986.6,76.8" stroke="none" fill="none" marker-start="url(#mcn)" marker-mid="url(#mcn)" marker-end="url(#mcn)"/>
<path d="M855.2,318.0L868.1,297.7" stroke="#444" stroke-width="1" fill="none"/>
<polyline points="852,323 871.4,292.6 882.7,286.9 890.7,282.9 896.9,280.3 899.5,277.7 902,275.1 904.2,271.2 906.3,267.3 908.2,264 910.1,260.8 913.4,255.9 916.3,251.5 917.6,248 919,244.5 920.2,240.2 921.4,235.8 922.1,229.6 922.9,223.4 923.6,217.1 924.7,213.5 925.7,209.9 926.7,206.4 927.6,202.8 928.5,198.1 929.4,193.3 930.3,188.2 931.1,183 931.5,177.6 931.9,172.3 932.3,166.9 932.7,161.6 933.5,155.4 934.2,149.2 935.7,143.8 937,138.7 938.3,134.5 939.6,132.8 940.7,131.1 941.9,129.4 943,127.9 944,126.4 945.1,124.9 946,124 947,123 947.9,122.1 948.8,121.2 949.6,120.4 950.5,119.5 951.3,118.7 952.1,117.9 952.8,117.2 953.6,116.4 954.3,115.7 955,115 955.7,114.3 956.4,113.6 957,113 957.7,112.3 958.3,111.7 958.9,111.1 959.5,110.5 960.1,109.9 960.7,109.5 961.2,109 961.8,108.6 962.3,108.1 962.9,107.7 963.4,107.3 963.9,106.9 964.4,106.5 964.9,106.1 965.4,105.7 965.9,105.3 966.3,104.9 966.8,104.6 967.3,104.2 967.7,103.8 968.1,103.5 968.6,103.1 969,102.8 969.4,102.5 969.8,102.1 970.2,101.8 970.6,101.5 971,101.2 971.4,100.9 971.8,100.6 972.2,100.2 972.6,99.9 972.9,99.7 973.3,99.4 973.7,99.1 974,98.8 974.4,98.5 974.7,98.2 975.1,97.9 975.4,97.6 975.7,97.3 976.1,96.9 976.4,96.6 976.7,96.3 977,96 977.3,95.7 977.7,95.3 978,95 978.3,94.7 978.6,94.4 978.9,94.1 979.2,93.8 979.5,93.5 979.7,93.3 980,93 980.3,92.7 980.6,92.4 980.9,92.1 981.2,91.8 981.4,91.6 981.7,91.3 982,91 982.2,90.8 982.5,90.5 982.7,90.3 983,90 983.3,89.7 983.5,89.5 983.8,89.2 984,89 984.3,88.7 984.5,88.5 984.7,88.3 985,88 985.2,87.8 985.5,87.5 985.7,87.3 985.9,87.1 986.2,86.8 986.4,86.6 986.6,86.4 986.8,86.2 987.1,85.9 987.3,85.7 987.5,85.5 987.7,85.3 987.9,85.1 988.1,84.9 988.4,84.6 988.6,84.4 988.8,84.2 989,84 989.2,83.8 989.4,83.6 989.6,83.4 989.8,83.2 990,83 990.2,82.8 990.4,82.6 990.6,82.4 990.8,82.2 991,82 991.2,82 991.4,82 991.5,82 991.7,82 991.9,82 992.1,82 992.3,82 992.5,82" stroke="none" fill="none" marker-start="url(#mc)" marker-mid="url(#mc)" marker-end="url(#mc)"/><polyline points="992,83 989,81.3 989,80.8 986.8,82.9" stroke="none" fill="none" marker-start="url(#mcn)" marker-mid="url(#mcn)" marker-end="url(#mcn)"/>
<path d="M856.6,197.3L866.7,188.9M876.4,181.8L877.6,181.0" stroke="#444" stroke-width="1" fill="none"/>
<polyline points="852,201.1 871.4,185 882.7,177.8 890.7,169.8 893.8,166.7 896.9,163.6 902,159.1 906.3,155.7 910.1,152.7 913.4,150.3 916.3,148 919,145.9 921.4,143.5 923.6,141.3 925.7,139.3 927.6,137.3 929.4,134.6 931.1,132 932.7,129.6 934.2,127.3 935.7,125.1 937,123.1 938.3,121.1 939.6,119.3 940.7,117.5 941.9,115.8 943,114.2 944,112.6 945.1,111.2 946,110.4 947,109.7 947.9,109 948.8,108.4 949.6,107.7 950.5,107.1 951.3,106.5 952.1,105.9 952.8,105.3 953.6,104.8 954.3,104.3 955,103.9 955.7,103.4 956.4,103 957,102.6 957.7,102.2 958.3,101.8 958.9,101.4 959.5,101 960.1,100.7 960.7,100.3 961.2,100 961.8,99.6 962.3,99.3 962.9,98.9 963.4,98.6 963.9,98.3 964.4,98 964.9,97.7 965.4,97.4 965.9,97.1 966.3,96.8 966.8,96.5 967.3,96.2 967.7,95.9 968.1,95.6 968.6,95.4 969,95.1 969.4,94.8 969.8,94.6 970.2,94.3 970.6,94.1 971,93.8 971.4,93.5 971.8,93.2 972.2,92.8 972.6,92.5 972.9,92.2 973.3,91.9 973.7,91.5 974,91.2 974.4,90.9 974.7,90.6 975.1,90.3 975.4,90 975.7,89.7 976.1,89.4 976.4,89.2 976.7,88.9 977,88.6 977.3,88.3 977.7,88.1 978,87.8 978.3,87.5 978.6,87.3 978.9,87 979.2,86.7 979.5,86.5 979.7,86.2 980,86 980.3,85.7 980.6,85.5 980.9,85.2 981.2,85 981.4,84.8 981.7,84.5 982,84.3 982.2,84.1 982.5,83.8 982.7,83.6 983,83.4 983.3,83.2 983.5,82.9 983.8,82.7 984,82.5 984.3,82.3 984.5,82.1 984.7,81.9 985,81.6 985.2,81.4 985.5,81.2 985.7,81 985.9,80.8 986.2,80.6 986.4,80.4 986.6,80.2 986.8,80 987.1,79.8 987.3,79.6 987.5,79.5 987.7,79.3 987.9,79.1 988.1,78.9 988.4,78.7 988.6,78.5 988.8,78.3 989,78.1 989.2,77.9 989.4,77.7 989.6,77.5 989.8,77.3 990,77.1 990.2,76.9 990.4,76.7 990.6,76.5 990.8,76.3 991,76.1 991.2,75.9 991.4,75.7 991.5,75.5 991.7,75.3 991.9,75.1 992.1,74.9 992.3,74.7 992.5,74.5 992.7,74.4 992.8,74.2" stroke="none" fill="none" marker-start="url(#mt)" marker-mid="url(#mt)" marker-end="url(#mt)"/><polyline points="992.7,76.1 990.1,75.3 990.5,75.8 988.7,78.8" stroke="none" fill="none" marker-start="url(#mtn)" marker-mid="url(#mtn)" marker-end="url(#mtn)"/>
<path d="M856.5,307.4L866.9,316.8M873.6,315.2L880.4,298.2" stroke="#444" stroke-width="1" fill="none"/>
<polyline points="852,303.4 871.4,320.8 882.7,292.7 890.7,287.8 896.9,290.3 902,289.4 906.3,286 910.1,282.7 913.4,278.3 916.3,273.1 917.6,269.2 919,265.2 921.4,259.7 923.6,254.8 924.7,251.2 925.7,247.6 926.7,244.1 927.6,240.6 928.5,236.1 929.4,231.7 930.3,226.6 931.1,221.6 931.9,216.8 932.7,212 933,205.9 933.3,199.8 933.6,193.8 933.9,187.7 934.2,181.6 934.7,175.2 935.2,168.7 935.7,162.3 936.3,156.9 937,151.6 937.7,147.3 938.3,143 939.6,138.5 940.7,134.9 941.9,131.3 943,129.6 944,128.2 945.1,126.8 946,125.5 947,124.2 947.9,122.9 948.8,121.7 949.6,120.5 950.5,119.5 951.3,118.7 952.1,117.9 952.8,117.2 953.6,116.4 954.3,115.7 955,115 955.7,114.3 956.4,113.6 957,113 957.7,112.3 958.3,111.7 958.9,111.1 959.5,110.5 960.1,109.9 960.7,109.5 961.2,109 961.8,108.6 962.3,108.1 962.9,107.7 963.4,107.3 963.9,106.9 964.4,106.5 964.9,106.1 965.4,105.7 965.9,105.3 966.3,104.9 966.8,104.6 967.3,104.2 967.7,103.8 968.1,103.5 968.6,103.1 969,102.8 969.4,102.5 969.8,102.1 970.2,101.8 970.6,101.5 971,101.2 971.4,100.9 971.8,100.6 972.2,100.2 972.6,99.9 972.9,99.7 973.3,99.4 973.7,99.1 974,98.8 974.4,98.5 974.7,98.2 975.1,98 975.4,97.7 975.7,97.4 976.1,97.2 976.4,96.9 976.7,96.7 977,96.4 977.3,96.2 977.7,95.9 978,95.7 978.3,95.5 978.6,95.2 978.9,95 979.2,94.8 979.5,94.5 979.7,94.3 980,94.1 980.3,93.9 980.6,93.6 980.9,93.4 981.2,93.2 981.4,93 981.7,92.8 982,92.6 982.2,92.4 982.5,92.2 982.7,92 983,91.8 983.3,91.6 983.5,91.4 983.8,91.2 984,91 984.3,90.8 984.5,90.6 984.7,90.4 985,90.2 985.2,90 985.5,89.9 985.7,89.7 985.9,89.5 986.2,89.3 986.4,89.1 986.6,89 986.8,88.8 987.1,88.6 987.3,88.5 987.5,88.3 987.7,88.1 987.9,87.9 988.1,87.8 988.4,87.6 988.6,87.5 988.8,87.3 989,87.1 989.2,87 989.4,86.8 989.6,86.6 989.8,86.5 990,86.3 990.2,86.2 990.4,86 990.6,85.9 990.8,85.7 991,85.6 991.2,85.4 991.4,85.3 991.5,85.1 991.7,85 991.9,84.8 992.1,84.7 992.3,84.6 992.5,84.4 992.7,84.3 992.8,84.1" stroke="none" fill="none" marker-start="url(#mt)" marker-mid="url(#mt)" marker-end="url(#mt)"/><polyline points="992.6,85.9 989.9,85 990.2,85.3 988.2,88.2" stroke="none" fill="none" marker-start="url(#mtn)" marker-mid="url(#mtn)" marker-end="url(#mtn)"/>
<path d="M857.1,196.5L866.2,191.0" stroke="#444" stroke-width="1" fill="none"/>
<polyline points="852,199.6 871.4,187.9 882.7,183.3 890.7,176.2 893.8,173.2 896.9,170.2 899.5,167.6 902,165.1 906.3,160.8 910.1,157 913.4,154.4 916.3,152.1 919,149.9 921.4,147.9 923.6,145.6 925.7,143.5 927.6,141.6 929.4,139.8 931.1,138.1 932.7,136.5 934.2,135 935.7,133.6 937,132.3 938.3,131 939.6,130 940.7,129 941.9,128.1 943,127.2 944,126.3 945.1,125.5 946,124.7 947,124 947.9,123.2 948.8,122.5 949.6,121.9 950.5,121.4 951.3,120.9 952.1,120.4 952.8,120 953.6,119.5 954.3,119.1 955,118.7 955.7,118.3 956.4,117.9 957,117.5 957.7,117.1 958.3,116.7 958.9,116.4 959.5,116 960.1,115.7 960.7,115.2 961.2,114.8 961.8,114.3 962.3,113.9 962.9,113.5 963.4,113 963.9,112.6 964.4,112.2 964.9,111.8 965.4,111.4 965.9,111.1 966.3,110.7 966.8,110.3 967.3,110 967.7,109.6 968.1,109.3 968.6,108.9 969,108.6 969.4,108.2 969.8,107.9 970.2,107.6 970.6,107.2 971,106.9 971.4,106.6 971.8,106.3 972.2,106 972.6,105.7 972.9,105.4 973.3,105.1 973.7,104.8 974,104.6 974.4,104.3 974.7,104 975.1,103.7 975.4,103.5 975.7,103.2 976.1,102.9 976.4,102.7 976.7,102.4 977,102.1 977.3,101.9 977.7,101.6 978,101.4 978.3,101.2 978.6,100.9 978.9,100.7 979.2,100.4 979.5,100.2 979.7,100 980,99.7 980.3,99.5 980.6,99.3 980.9,99.1 981.2,98.9 981.4,98.6 981.7,98.4 982,98.2 982.2,97.9 982.5,97.6 982.7,97.3 983,97 983.3,96.7 983.5,96.4 983.8,96.1 984,95.8 984.3,95.5 984.5,95.2 984.7,94.9 985,94.6 985.2,94.3 985.5,94.1 985.7,93.8 985.9,93.5 986.2,93.2 986.4,93 986.6,92.7 986.8,92.4 987.1,92.1 987.3,91.9 987.5,91.6 987.7,91.4 987.9,91.1 988.1,90.8 988.4,90.6 988.6,90.3 988.8,90.1 989,89.8 989.2,89.6 989.4,89.3 989.6,89.1 989.8,88.9 990,88.6 990.2,88.4 990.4,88.1 990.6,87.9 990.8,87.7 991,87.4 991.2,87.2 991.4,87 991.5,86.7 991.7,86.5 991.9,86.3 992.1,86.1 992.3,85.9 992.5,85.6 992.7,85.4 992.8,85.2" stroke="none" fill="none" marker-start="url(#ms)" marker-mid="url(#ms)" marker-end="url(#ms)"/><polyline points="992.8,87.2 990.3,86.5 990.7,87 989,90.1" stroke="none" fill="none" marker-start="url(#msn)" marker-mid="url(#msn)" marker-end="url(#msn)"/>
<path d="M855.8,321.3L867.6,306.5" stroke="#444" stroke-width="1" fill="none"/>
<polyline points="852,326 871.4,301.9 882.7,299.1 890.7,295.8 893.8,291.1 896.9,286.4 899.5,283.7 902,281 906.3,276.5 910.1,271.4 913.4,265.8 916.3,259.6 917.6,256.3 919,252.9 921.4,246.8 923.6,240.6 924.7,235.5 925.7,230.3 926.7,225 927.6,219.7 928.5,215.7 929.4,211.7 930.3,205.2 931.1,198.7 931.9,192.6 932.7,186.4 933.1,181.2 933.5,175.9 933.8,170.6 934.2,165.4 934.7,159.7 935.2,154 935.7,148.3 936.3,143.4 937,138.6 938.3,133.4 939.6,131.4 940.7,129.6 941.9,127.9 943,126.4 944,125.6 945.1,124.9 946,124.2 947,123.6 947.9,123 948.8,122.3 949.6,121.7 950.5,121.2 951.3,120.6 952.1,120 952.8,119.5 953.6,119 954.3,118.5 955,118 955.7,117.4 956.4,116.9 957,116.4 957.7,115.9 958.3,115.4 958.9,114.9 959.5,114.4 960.1,113.9 960.7,113.5 961.2,113 961.8,112.6 962.3,112.1 962.9,111.7 963.4,111.3 963.9,110.9 964.4,110.5 964.9,110.1 965.4,109.7 965.9,109.4 966.3,109.1 966.8,108.8 967.3,108.5 967.7,108.2 968.1,107.9 968.6,107.6 969,107.3 969.4,107.1 969.8,106.8 970.2,106.5 970.6,106.2 971,106 971.4,105.7 971.8,105.5 972.2,105.2 972.6,105 972.9,104.7 973.3,104.5 973.7,104.2 974,104 974.4,103.8 974.7,103.5 975.1,103.3 975.4,103.1 975.7,102.8 976.1,102.6 976.4,102.4 976.7,102.2 977,102 977.3,101.8 977.7,101.6 978,101.4 978.3,101.2 978.6,101 978.9,100.8 979.2,100.6 979.5,100.4 979.7,100.2 980,100 980.3,99.8 980.6,99.5 980.9,99.3 981.2,99.1 981.4,98.9 981.7,98.7 982,98.5 982.2,98.3 982.5,98.1 982.7,97.9 983,97.7 983.3,97.5 983.5,97.3 983.8,97.1 984,96.9 984.3,96.7 984.5,96.5 984.7,96.4 985,96.2 985.2,96 985.5,95.8 985.7,95.6 985.9,95.4 986.2,95.3 986.4,95.1 986.6,94.9 986.8,94.7 987.1,94.6 987.3,94.4 987.5,94.2 987.7,94.1 987.9,93.9 988.1,93.7 988.4,93.6 988.6,93.4 988.8,93.3 989,93.1 989.2,92.9 989.4,92.8 989.6,92.6 989.8,92.5 990,92.3 990.2,92.2 990.4,92 990.6,91.9 990.8,91.7 991,91.6 991.2,91.4 991.4,91.3 991.5,91.1 991.7,91 991.9,90.8 992.1,90.7 992.3,90.5 992.5,90.4 992.7,90.3 992.8,90.1" stroke="none" fill="none" marker-start="url(#ms)" marker-mid="url(#ms)" marker-end="url(#ms)"/><polyline points="992.6,91.9 989.9,91 990.1,91.3 988.2,94.2" stroke="none" fill="none" marker-start="url(#msn)" marker-mid="url(#msn)" marker-end="url(#msn)"/>
<polyline points="940,120 940.8,119.2 941.8,118.3 942.8,117.6 943.2,116.9 944.1,115.8 945.3,116.1 946.5,114.8 948,114.5 948.5,112.9 949.4,112.3 950.9,111.2 951.1,111.2 952.3,110.3 953.4,109.2 954.5,109.3 954.4,107.8 955.8,107.2 957,106.4 958.2,106.5 959.5,105.8 959.6,105 961.3,104.1 962.2,103.1 963.3,102.4 964,101.7 965,100.8 965.7,101 966.7,100.3 968.3,99.5 969.1,98.3 970,98.6 971.6,97.4 971.9,97.3 973,96.4 973.5,95.1 975.3,94.7 976.3,93.9 977.5,92.8 977.7,92.9 979,92.2 979.9,91.6 981.3,90.5 981.4,89.7 982.8,90 984.5,88.9 984.6,88.5 985.4,86.8 987,86.2 987.4,85.2 987.7,84.2 988.7,83.2 989.5,82.6 990.9,82.1 992.1,81.6 992.6,80.5" stroke="none" fill="none" marker-start="url(#ms)" marker-mid="url(#ms)" marker-end="url(#ms)"/><polyline points="992.9,82.7 990.6,82.1 991.4,82.8 989.9,86.1" stroke="none" fill="none" marker-start="url(#msn)" marker-mid="url(#msn)" marker-end="url(#msn)"/>
<polyline points="940,125 941,123.8 942.1,123.3 943.3,122.4 944.1,121.6 945.2,121.7 945.2,120.7 946.2,119.8 947.9,118.6 948.1,117.7 948.8,117.5 949.9,116.3 951.5,115.8 952,115.1 953.5,114.2 954.2,114.3 955.1,112.7 955.6,112.5 956.6,111.6 958.4,111.3 958.7,110.2 959.7,109.4 961,108.6 961.5,107.9 962.8,107.7 963.8,106.9 965.3,106.7 965.9,106.1 966.4,105.1 968.2,104.2 968.9,103.4 970.3,102.7 971,102.6 972.4,102.2 972.6,100.6 973.7,100.8 975.1,100 975.9,99.1 977.5,98.2 977.9,97.9 979.4,97.5 980,95.8 980.5,95.1 981.4,95.2 982.8,93.9 984.3,93.8 985,93.4 985.3,92.1 986.8,91.3 987.2,90.8 988.8,90.2 989.3,88.4 989.7,87.4 991.5,87 991.5,85.7 992.4,86" stroke="none" fill="none" marker-start="url(#ms)" marker-mid="url(#ms)" marker-end="url(#ms)"/><polyline points="991.9,86.6 989,84.5 989.1,83.6 986.9,85.3" stroke="none" fill="none" marker-start="url(#msn)" marker-mid="url(#msn)" marker-end="url(#msn)"/>
<polyline points="940,130 940.4,129.1 941.4,128.8 942.8,127.2 943.2,127.3 944.3,126.5 945.8,125.5 947,124.9 947.6,123.9 948.1,122.8 949.3,122.4 950.6,121.5 951.1,121.5 952.3,120.4 953.3,120 953.7,119.1 954.5,117.7 956.1,117.1 957,116.3 957.7,115.9 959.1,115.6 960,114.5 961.5,114.3 962,113.4 962.6,112.3 963.5,112.5 965.4,110.8 966.2,110.5 967.2,109.9 967.8,108.8 968.6,108.6 970.2,107.6 970.9,107.9 971.5,106.6 973.4,106.2 974.5,105.5 975.1,104.4 975.8,104.1 977.4,103.6 977.8,103.2 979.1,102.3 979.6,101.1 981.1,100.6 981.7,100.5 983.5,99.6 984.5,99 984.9,97.6 985.9,97.7 986.7,96.6 987.4,94.9 988.4,94.5 989.3,94.4 990.6,93.5 991.1,92.1 991.8,91.8 992,89.8" stroke="none" fill="none" marker-start="url(#ms)" marker-mid="url(#ms)" marker-end="url(#ms)"/><polyline points="992.7,92.1 990.8,91.7 992,92.5 990.9,95.9" stroke="none" fill="none" marker-start="url(#msn)" marker-mid="url(#msn)" marker-end="url(#msn)"/>
<polyline points="846.6,186.6 986.5,64.2" fill="none" stroke="#000" stroke-width="2.2" stroke-linejoin="round"/>
<polyline points="955.9,133.1 935.4,255.6" fill="none" stroke="#000" stroke-width="2.2" stroke-linejoin="round"/>
<polyline points="930.4,264.6 917.5,284.4" fill="none" stroke="#000" stroke-width="2.2" stroke-linejoin="round"/>
<polyline points="911.5,291.4 852.9,342.0" fill="none" stroke="#000" stroke-width="2.2" stroke-linejoin="round"/>
</g>
<text y="103.5" font-size="24.5" font-style="italic"><tspan x="892.0">/</tspan><tspan x="893.6">~</tspan></text><text x="910.1" y="103.5" font-size="24.5" font-style="italic" textLength="19.2" lengthAdjust="spacingAndGlyphs">V</text>
<text y="206.7" font-size="24.5" font-style="italic"><tspan x="955.8">/</tspan><tspan x="957.4">~</tspan></text><text x="970.9" y="206.7" font-size="24.5" font-style="italic" textLength="22.6" lengthAdjust="spacingAndGlyphs">V</text><text x="996.8" y="197.4" font-size="14.5">a</text>
<text y="288.4" font-size="24.5" font-style="italic"><tspan x="934.2">/</tspan><tspan x="935.9">~</tspan></text><text x="953.7" y="288.4" font-size="24.5" font-style="italic" textLength="18.3" lengthAdjust="spacingAndGlyphs">V</text><text x="975.5" y="275.5" font-size="14.5">2</text>
<text y="337.6" font-size="24.5" font-style="italic"><tspan x="885.6">/</tspan><tspan x="886.7">~</tspan></text><text x="904.5" y="337.6" font-size="24.5" font-style="italic" textLength="18.8" lengthAdjust="spacingAndGlyphs">V</text>
<clipPath id="cc"><rect x="88.5" y="439" width="381.7" height="289"/></clipPath><g clip-path="url(#cc)">
<polyline points="194.3,462.2 195.4,462.2 195.9,462.9 196.8,463.2 197.5,463.4 198.3,464 198.4,464.3 199.5,464.4 200,464.7 200.5,465.2 201.3,465.7 202.5,466.1 203.2,466.9 204,467.3 204.5,467.4 205.4,467.7 205.6,468 206.6,468.1 207,468.5 208.2,469.4 208.9,469.4 209.1,469.4 210.3,470.2 210.9,470.3 211.3,470.7 212,471.4 212.9,471.7 213.7,472.1 214.7,472.6 214.9,473.1 216.2,473.4 216.6,473.8 217.6,473.6 218.2,474.5 219,474.9 219.5,475 219.9,475.4 220.7,475.8 222,475.9 222.1,476 223.1,476.4 224,477.2 224.6,477.6 225,477.8 225.6,478.2 226.9,478.2 227.6,479.3 228,479 228.6,479.9 229.2,480.3 230,480.6 231.2,481.1 231.4,481.3 232.2,481.9 232.8,481.8 233.6,482.1 234.2,483 235,483 236.1,483.5 236.7,484.2 237.2,484.6 237.9,485.1 238.7,485.1 239.4,485.7 240.3,485.8 240.6,486.8 241,487 242.4,487.4 242.4,487.9 243.2,488.1 244.4,488.3 244.6,488.6 245.4,489 246.4,489.9 246.5,490.1 247.8,490.7 248.1,490.9 249.1,491.3 250.1,492 250.7,491.8 250.7,492.6 251.8,492.8 252.2,493.6 253.3,493.4 253.5,494.4 254.4,494.3 255.5,494.9 255.5,495.3 256.5,495.9 257.5,495.9 257.9,497 258.6,497.4 259.6,497.7 260.1,497.6 261.1,498.1 261.2,498.7 262.1,499.3 262.8,499.9 263.7,500.1 264,500.5 264.9,501.2 265.5,501.9 266.6,502 267.6,502.9 268,503.5 268.7,504.5 269.9,504.9 270.3,505.5 270.8,506.5 271.8,506.5 272.4,507.3 273.6,507.9 273.9,509.1 274.8,509.8 275.3,509.7 276.2,510.7 277.1,511.6 278.2,513.1 278.5,514.1 279.5,515.1 279.9,515.4 280.6,516.3" stroke="none" fill="none" marker-start="url(#mc)" marker-mid="url(#mc)" marker-end="url(#mc)"/><polyline points="280.6,516.3 278.2,513.5 278.7,512 277.1,513" stroke="none" fill="none" marker-start="url(#mcn)" marker-mid="url(#mcn)" marker-end="url(#mcn)"/>
<polyline points="193,464.9 193.5,465.6 194.8,465.2 195.4,466.2 196,466 196.8,466.6 197.5,467.1 198.2,467.6 198.6,467.9 199.8,468.5 200.5,468.2 201,469.2 201.5,468.9 202.5,469.7 203.4,469.8 203.5,470.4 204.8,470.8 204.9,470.9 205.7,471.4 206.9,471.8 207.4,471.9 208.1,472.9 208.7,472.7 209.7,473.6 209.9,473.7 211,474 211.7,474.5 212.7,474.5 212.8,474.8 213.9,475.2 214.5,475.8 215.2,476.2 216,476.5 216.9,476.7 217,477.5 218,477.5 218.5,478 219.8,477.9 220.3,478.3 220.9,478.7 221.9,479.7 222.5,479.6 223.3,480.3 223.5,480.4 224.8,481.1 225,481.5 225.8,481.6 227,482.1 227.3,482.5 228,482.5 229.2,482.7 229.9,483.1 230.5,483.7 230.8,483.9 231.7,484.9 232.6,484.9 232.8,485.1 233.4,486 234.1,486 234.8,486.4 235.5,487.3 236.6,487.6 237,488.1 237.7,488.5 238.7,488.9 239.3,488.9 240.1,489.5 240.3,489.9 241.1,490.1 242,491.1 242.5,491.1 243.7,491.5 244.5,492.2 245.1,492.4 245.6,492.9 246.5,492.8 247.3,493.4 247.2,494 248.1,494.3 248.7,494.9 249.6,494.9 250.7,495.2 251.4,496.4 251.5,496.7 252.4,496.6 252.9,497.2 253.6,497.5 254.6,498 255.5,498.8 255.6,499.1 256.3,499.4 257.1,500.1 257.9,500.4 259,500.3 259.6,500.6 259.8,501.2 260.8,501.5 261.4,502.6 261.7,502.9 262.7,503.1 263.5,503.7 264.3,504.7 265.4,505.3 266,505.6 266.2,506.6 267.4,507 268.3,507.5 268.9,508.4 269.9,508.6 270.1,510 271.5,510.5 272.3,511 272.4,511.5 273.5,512.2 274.4,512.9 275.3,513.6 275.4,514.8 276.5,516.3 277,516.8 277.4,517.7" stroke="none" fill="none" marker-start="url(#mc)" marker-mid="url(#mc)" marker-end="url(#mc)"/><polyline points="277.7,517.6 275.5,514.7 276.3,513 274.8,513.9" stroke="none" fill="none" marker-start="url(#mcn)" marker-mid="url(#mcn)" marker-end="url(#mcn)"/>
<polyline points="239.1,537.4 239.9,540.4 240.4,543 241.5,545.6 242,548.5 242.7,550.7 242.8,554.2 243.9,556.1 244.6,558.6 244.9,561.3 245.5,563.6 246.4,566.6 246.9,569.1 248,571.2 248.1,574.2 249.1,577.8 249.6,581 250.5,584.8 250.9,588.2 251.5,591.2 252.8,592.5 252.9,593.8 254,595.8 254.2,597 255.2,598.3 255.7,601.3 256.3,605.1 257,608.1 258.1,611.6 258.6,614.8 259.6,617.9 259.7,621.4 260.8,624.8 261.2,627.9 261.6,631.7 262.4,634.9 263,640.1 263.7,647 264.7,653.1 264.9,661.4 265.6,668.9 265.9,677.6 266.6,685.2 267.1,689.6 267.8,693.4 268.9,696.7 269.3,699 270.2,701.5" stroke="none" fill="none" marker-start="url(#mc)" marker-mid="url(#mc)" marker-end="url(#mc)"/>
<polyline points="281,528 281.3,520 282,511.9 282.3,504.4 283,500.7 283.6,498 284.1,495.5 285.4,493 285.9,491.7 286.3,490.5 287.2,489.6 287.5,489.1 288.2,488.1 289,486.9 289.7,485.4 290.5,484.6 291,483.8 291.6,483.4 292.3,482.8 293.8,482.6 294.2,481.3 295,480.7 295.7,480.5 296.8,479.4 297.4,479.3 298,478.7 298.8,478.4 299.7,478.5 300.4,478 301.4,477.6 301.5,477.3 302.8,476.8 303.5,477.1 304.3,476.4 304.7,476.4 305.6,476 305.9,475.5 307.2,475 307.5,475.3 308.6,474.7 309.3,474.3 309.8,474 310.7,473.8 311.9,474.2 312.4,473.3 313.2,473.1 313.8,472.8 314.7,472.6 315.2,472.5 316.2,472.8 317.1,472.5 318,472.1 318.3,471.5 319.1,471.7 320.1,471.8 320.8,471 321.9,471.1" stroke="none" fill="none" marker-start="url(#mc)" marker-mid="url(#mc)" marker-end="url(#mc)"/><polyline points="321.4,471.9 318.4,470 318.5,469.3 316.3,471.2" stroke="none" fill="none" marker-start="url(#mcn)" marker-mid="url(#mcn)" marker-end="url(#mcn)"/>
<polyline points="284,510 284.5,506.1 285.1,502.2 286,497.9 287,496.8 287.7,495.2 287.9,493.5 288.7,492.4 289.2,491 290,489.6 291.1,489.1 291.7,488.3 292.5,487.7 292.8,486.7 293.5,486.2 294.4,485.2 295.1,485.1 295.7,484.3 297,483.3 297.6,482.9 298.2,482.4 298.6,482.3 299.3,482.1 300.2,481.1 300.8,480.7 301.2,480.5 302,480.2 303.2,480 303.5,479.6 303.9,479.1 305.3,479.1 305.7,478.6 306.4,478.2 307.7,477.7 308.3,477.6 308.9,477.6 309.2,477.3 310,477.4 311.5,476.9 312.1,476.8 312.4,476.1 313.3,476.1 314.2,476.1 315.2,475.9 315.4,475.6 316.7,475.9 317,475.6 318.2,475.2 319.3,475 319.6,475.1" stroke="none" fill="none" marker-start="url(#mc)" marker-mid="url(#mc)" marker-end="url(#mc)"/><polyline points="319.1,475.7 316.2,473.7 316.2,472.9 314.1,474.6" stroke="none" fill="none" marker-start="url(#mcn)" marker-mid="url(#mcn)" marker-end="url(#mcn)"/>
<polyline points="296.6,503.2 297.5,501.9 297.7,501.3 298.6,500.6 299.7,499.6 300.1,498.6 300.9,497.6 301.4,496.5 302.2,495.9 302.8,495.5 303.3,494.8 304.1,494.8 305.1,494.4 305.8,494 306,493.3 307.2,492.8 308.1,493 308.5,492.2 309,491.9 309.9,491.7 310.5,491.6 311.8,491.5 312.4,491.4 313.1,490.4 313.5,490.2 314.5,490.3 315.7,489.7 316.1,489.9 316.8,489.4 317.4,489.6 318.7,488.8 319,488.8 319.9,488.7 320.4,488.3 321.8,488.2 321.9,488.2 323.2,487.4 324,487.5 324.4,487.5 325.6,487.4 326.1,487.1 327,486.5 327.3,486 328.5,485.7 329.5,485.9 329.8,485.7 330.8,485.3 331.3,485.5 332.7,485.1 333.4,484.4 334,484.8 334.8,484.5 335.6,484.4 336.2,483.9 337,483.8 337.4,483.3 338.3,483.4 339.1,483.3 340.3,482.5 340.7,482.7 341.3,482.5 342.2,481.8 343.5,481.7 344.3,481.8 344.7,481.6 345.5,480.9 346.3,480.9 347.1,481.3 348,480.7 348.7,480.5 349.7,480 350.3,479.8 351.2,480 351.7,480 352.4,479.3 353,479.1 354.4,479.2 354.5,478.7 355.8,478.7 356.2,478.2 356.9,478.2 358.2,478.3 359,478.3 359.4,477.9 360.4,477.4 361.2,477.2 361.4,476.9 362.3,477.4 363.2,477 363.9,476.9 364.6,476.9 365.6,476.8 366.3,476 367.1,475.8 368.1,476.3 368.8,475.4 369.5,475.5 370.6,475 371,475.1 371.7,474.7 372.8,475 373.6,474.9 374.4,474.4 375.4,474.7 375.5,474.6 376.3,473.8 377.7,473.7 378.1,474.2 379.3,473.6 380.2,473.2 380.5,473.7 381.8,472.9 382.5,473.4 382.9,473 384.3,472.5 384.4,472.9 385.1,472.6 386.2,472.1 387.2,472.1 387.5,471.8 388.8,472.4 389.5,471.5 390.3,471.7 390.8,471.5 391.8,471.9 392.3,471.5 393.5,470.9 394.6,471.1 394.7,471.1 395.6,471 396.4,470.4 397.1,470.6 398.1,470.3 398.8,470.2 400.1,470.4 400.9,470.1 401.6,469.8 402.1,470.2 403.1,469.7 403.4,469.6 404.4,469.9 405.4,469.1 406.1,469.5 406.6,469.4 408,469.3 408.5,468.6 409.1,468.9 410.3,468.8 410.8,468.4 412.1,468.1 412.5,468.8" stroke="none" fill="none" marker-start="url(#mc)" marker-mid="url(#mc)" marker-end="url(#mc)"/><polyline points="412.7,468.6 410.4,465.8 411.1,464.1 409.6,465.1" stroke="none" fill="none" marker-start="url(#mcn)" marker-mid="url(#mcn)" marker-end="url(#mcn)"/>
<polyline points="85.8,444 86.4,443.9 87.1,444.1 88,443.8 89.3,443.6 90.1,443.7 90.6,443.6 91.4,443.3 92.5,443.2 93.3,443.5 93.4,442.9 94.5,443.3 95.1,443 96,443.1 97.3,443 97.5,442.9 98.5,442.8 99.3,442.8 100.5,442.6 101.2,442.5 101.8,441.9 102.9,442.1 102.9,442 104,441.7 105.3,441.5 106,441.8 106.2,441.5 107.3,441.3 108.3,441.6 109.3,441.9 109.9,442.1 110.8,441.9 111.3,441.9 112.3,442.4 113.1,442.4 113.3,442.2 114.1,442.4 115.3,442.5 116.3,442.3 117,442.7 117.4,443.1 118.1,442.8 119.3,443 120.4,443.1 121.1,443 121.6,442.9 122.5,443.3 123.4,443.1 124,443.9 124.4,443.7 125.7,443.9 126.4,443.8 127.5,443.7 128.1,444.1 128.9,444.2 129.1,444.6 130.1,444.8 131.5,445 131.8,445.3 132.5,445 133.5,445.5 134.3,445.6 134.9,445.9 135.6,446 136.1,445.8 137.6,446.1 138,446.2 139.1,446.6 139.3,446.7 140.7,447.3 140.8,447.7 141.6,447.5 142.8,447.9 143.2,448.2 144.1,448.3 145.4,448.4 145.4,448.6 146.6,448.9 147.6,448.6 148.2,449.2 149.3,449.4 149.8,449.8 150.2,450.1 151.3,450.2 151.7,450.3 152.7,450.3 153.9,451.1 154.2,450.7 155.4,451 155.8,451.6 156.8,451.9 157.4,452.1 158.5,452.6 158.7,452.8 160,452.8 160,452.7 161.5,453.1 162.1,453.3 162.4,453.5 163.7,453.7 164.2,454.6 165,454.2 165.3,455.1 166.3,454.7 167.3,455.5 167.8,455.3 168.5,455.8 169.7,455.8 170.4,456.6 171,456.6 171.3,457 172.4,457.5 172.9,457.4 173.6,457.9 174.3,458.3 175.4,458.4 175.9,459.2 176.9,458.8 177.7,459.6 178.4,460 179.4,460.2 179.5,460.3 180.7,460.4 181.4,461.1 182.3,461.4 183.1,461.4 183.7,461.8 184.6,461.8 184.9,462.6 186,462.5 186.8,463.2 187.5,463.3 187.7,463.4 189,464.4 189.2,464.1 190,465.2 190.6,465.7 191.7,466 192.6,466.3 192.6,466.5 193.4,467.1 194.1,467.6 194.5,467.6 195.3,468 196.4,469 196.6,469.1 197.2,469.4 198,470.2 199.2,470.7 199.5,470.8 200.1,471.4 200.9,472.1 201.8,472.6 202.9,473.5 203.2,474 204,474.1 205.2,474.9 205.5,475.9 206.8,476.3 207.4,477 207.6,477.7 208.5,478.1 209.5,479.1 210.1,479.4 211.2,480.1 211.9,481 212.5,481.8 213.7,481.9 213.7,482.7 214.8,483.5 215.7,484.8 216.2,484.9 216.7,486.2 217.9,486.9 218.7,487.2 219.3,487.9 219.5,488.9 220.4,489.5 221.2,489.9 221.5,491.1 222.8,491.8 223.2,492.2 224.1,492.9 224.9,493.7 225.4,495 225.8,495.5 226.8,497.1 227.8,498.1 227.8,498.7 228.6,499.6 229.2,500.6 230.3,501.9 231.1,503 231.6,504.2 232.1,504.7 232.7,505.9 233.2,507.6 234.3,509.2 234.4,510.7 235.3,512.5 236,514.8 236.4,516 237.4,517.5 238.2,519.9 238.2,523.6 239.5,527.5 239.9,532.3" stroke="none" fill="none" marker-start="url(#mt)" marker-mid="url(#mt)" marker-end="url(#mt)"/>
<polyline points="86.2,448 87.1,447.7 87.9,448.2 88.2,447.7 89.3,447.5 90.5,447.9 91.2,447.4 92.1,447 92.6,447.2 93,447.2 94.1,447 94.7,447.1 95.5,446.5 96.9,446.6 97.5,446.9 98.4,446.9 98.7,446.5 99.5,446.6 100.3,446.2 101.1,446.4 102.1,446.4 103,446.1 103.9,445.8 104.4,445.7 105.1,446.1 106.2,445.7 107,445.4 108,445.5 108.3,445.7 109.3,445.8 109.8,446.1 111.2,445.6 111.7,445.6 112.1,445.8 112.9,446.5 114.1,446.3 115,446.2 115.7,446.6 116.5,446.4 116.9,447 118.5,447.2 118.6,446.6 119.4,447.3 120.4,447.3 121.5,447.2 121.8,447.7 122.9,447.6 123.3,447.5 124.7,447.5 125.2,448 126,447.9 126.7,447.5 127.6,448.1 128.6,448.1 129.4,448.7 129.6,448.3 131,449.1 131.7,448.7 132.6,448.9 132.8,449.5 134,449.2 134.8,449.5 135.3,449.8 136.4,450.1 136.6,450.6 137.6,450.9 138.2,450.5 139.1,450.9 139.7,451.3 141.1,451.4 141.6,451.8 142.3,451.4 143,452.2 143.6,452.1 144.6,452.7 145.6,452.5 146.1,452.5 146.7,452.8 147.9,453.3 148.4,453.1 149.2,454 150.3,454.3 151,454.2 152,454.2 152.2,454.5 153,454.6 154.3,455.1 154.7,455.4 155.2,455.4 155.9,456.2 156.7,456 158.2,456.7 158.8,456.4 159.3,457.3 160.2,457.5 160.8,457.4 162,457.9 162.1,458.3 163,457.8 164.1,458.7 164.4,458.7 165.3,458.8 166.5,458.9 167.3,459.5 167.7,459.7 168.6,459.8 169,460.4 170,461 170.3,461 171.7,461.6 172,461.5 173,462.2 173.6,462 174.3,462.6 175.2,463 176.2,463 177,463.4 177.8,463.5 178,464.3 178.9,464 179.7,464.4 180.4,465 181,465.4 182.2,465.2 182.4,466.1 183.1,465.9 183.7,466.3 184.8,466.4 185.3,466.8 186.5,467.2 187.2,467.3 188,468.2 188.1,468.3 189.3,468.8 189.7,469.5 190.3,469.7 191,470.1 191.6,470.7 192.2,470.7 193.4,471.9 194,472.3 194.7,472.5 195.4,472.4 195.6,473 196.7,473.7 197.7,474.2 197.9,474.2 199,474.8 199.7,476.2 200.5,476.1 200.9,476.9 201.7,477.5 203,478.3 203.4,478.8 204.2,479.3 204.7,480.7 205.4,481.1 206.7,481.7 207,482 208.3,482.7 208.8,483.7 209.6,484.1 210.4,484.9 211,485.5 211.6,486.4 212.6,487 213.2,488 214,488.6 214.9,489.3 215,489.6 216,490.6 216.5,491.6 217.7,492.4 217.7,492.9 218.6,493.4 219.5,494.2 220.6,495.1 221.1,495.5 222,496.6 222.6,497.1 223,498.2 223.9,499.6 224.6,500.1 224.9,501.3 225.4,502.6 226.1,503.2 227.1,504.6 227.8,505 228.5,506.6 229.2,507.5 229.9,509.1 230,510.5 230.7,512.6 231.7,514.4 232.9,516 233,518.3 233.9,520.5 234.7,523.8 235.1,528 235.8,532.2" stroke="none" fill="none" marker-start="url(#mt)" marker-mid="url(#mt)" marker-end="url(#mt)"/>
<polyline points="190.9,468.9 191.3,469.2 192.2,469.6 192.9,470.3 193.9,470.6 194.9,470.7 195.2,470.8 196.2,471.1 196.6,471.6 197.6,472.2 198.2,472.6 199.1,473.3 199.5,473.6 200.5,473.8 201.4,473.8 201.6,474.4 202.3,474.6 203,475.4 204.3,475.8 204.9,475.7 205.2,476.1 205.7,476.2 206.8,476.8 207.6,477.3 207.9,477.9 208.9,478 209.6,478.2 210.7,479.1 210.9,479.4 212.1,479.7 212.4,480.1 213.3,480.1 213.6,480.5 214.4,480.7 215.7,481.1 216.4,481.5 216.6,481.9 217.3,482 218.4,482.8 218.8,483.2 219.8,483.1 220.1,483.9 221.5,484.4 222,484.1 222.8,484.5 223.6,484.9 224.4,485.6 224.5,485.6 225.3,486.5 226,486.4 227.1,486.9 227.3,487.3 228,487.8 228.6,488 229.3,488.7 230.7,489.4 231.1,489.3 232.1,489.8 232.5,490.4 233.1,490.6 234.2,490.9 234.4,491.7 235.1,491.6 235.6,492.6 236.7,492.7 237.6,493.3 237.8,493.4 239,493.9 239.5,494.3 240.5,494.9 241.1,495.2 241.7,495.3 241.9,495.9 242.8,496.8 243.4,496.9 244.6,497.3 245.3,497.8 245.9,497.8 246.2,498.8 247,499.1 247.9,499.7 248.5,500.1 249.4,500.3 250.2,500.7 250.5,501.2 251.4,501.4 252.1,501.8 252.9,502.2 253.6,502.6 254.2,502.6 255,503.1 255.3,503.6 256.3,504.4 256.7,504.3 257.4,505.4 258.4,505.3 259.2,505.7 259.9,506 259.8,506.9 260.8,507.5 261.7,507.8 262.8,508.3 263.1,509.4 264.1,509.9 264.6,510.4 265.8,511.2 266.1,512.3 267.4,512.9 268,513.7 268.6,514.3 269.8,514.7 270.2,515.3 271.2,515.7 272.1,517.1 272.7,518.2 272.8,518.5 273.5,520.2 274.7,520.7" stroke="none" fill="none" marker-start="url(#mt)" marker-mid="url(#mt)" marker-end="url(#mt)"/><polyline points="274.3,521.2 271.4,518.9 271.6,517.9 269.5,519.5" stroke="none" fill="none" marker-start="url(#mtn)" marker-mid="url(#mtn)" marker-end="url(#mtn)"/>
<polyline points="232,533 233.1,532.7 233.6,533 234.8,532.9 235.2,533.1 235.9,533.3 237.1,533.2 237.2,533.4 238.4,533.1 239.2,533 240.3,532.8 240.5,533.4 241.4,532.8 242.4,533.3 243.1,532.6 243.8,532.8 244.4,533.3 245.8,532.7 246.2,533.4 247.3,532.8 248,532.6 248.5,531.7 249.1,530.9 250,530.2 250.9,529.6 252.1,528.9 252.2,528.7 253.5,528.6 253.7,529.5 254.7,530.5 254.8,532.1 255.6,533.3 256.2,534.9 257.1,535.7 257.7,536.9 258.7,540 259.4,543.5 259.9,546.4 260.4,549.5 261.1,553.2 262.1,556.6 262.2,559.9 263.1,563.5 264.1,566.6 264.7,569.8 265,573.5 266.1,576.7 266.9,581.2 267.3,585.2 268.2,589.8 268.2,594.3 268.8,599.6 269.8,603.9 270.2,609.2 270.9,613.6 271.9,619.4 272,627.7 273.2,635.3 273.5,643.4 274.1,651.7 274.4,659.4 274.8,665.6 275.6,674 275.5,681.7" stroke="none" fill="none" marker-start="url(#mt)" marker-mid="url(#mt)" marker-end="url(#mt)"/>
<polyline points="268,520 268.4,521.1 269.1,521.7 270.3,522.4 270.6,522.8 271.6,524 272.2,524.4 272.7,525.1 273.7,525.8 274.2,526.7 275,527 275.3,533.1 276.2,540 276.5,546.3 276.9,554.7 276.7,562.8 276.9,570.5 277.3,578.4 277.3,586.6" stroke="none" fill="none" marker-start="url(#mt)" marker-mid="url(#mt)" marker-end="url(#mt)"/>
<polyline points="287.9,521.1 288.6,516.8 289.2,512.6 289.5,508.7 290.8,506.7 291.5,504.3 292.2,502.8 292.4,501.1 293.3,499.3 293.7,498.3 294.4,496.8 295.2,495.8 296.3,495 296.7,494.5 297.9,493.2 298.2,492.8 299.1,492.1 299.6,491.6 300.4,491 300.7,490.8 301.5,490 302.3,490 303.4,489.1 304.1,488.9 304.9,489.1 305.1,488.6 306.1,488 307.2,488 307.9,487.3 308.1,487.6 308.9,486.9 309.6,486.9 310.4,486.1 311,486.4 311.7,485.5 312.7,485.6 313.8,485.7 314.3,485.2 315,484.9 315.5,484.8 316.7,484.5 317.7,484.4 318.6,484.1 318.7,483.6 319.8,483.2 320.4,483.1 321,482.9 322.2,483.1 323,482.6 323.4,482.7 324.6,482.2 325.1,481.9 325.6,481.5 326.3,481.8 327.4,481.3 328.5,480.9 329.4,481.1 329.8,480.1 330.8,480.3 331,480.2 332.2,480.2 333,479.5 333.4,479.1 334.7,479.4 335.1,479 335.8,478.3 336.6,478.2 337.8,478 338.1,478 339.5,477.7 339.8,477.9 340.7,477.8 341.5,477 342.6,477.1 343,477.1 343.7,476.3 344.4,476.2 345.6,476.4 345.9,475.6 346.7,475.3 347.8,475.4 348.6,475 349.4,475.3 349.9,475.3 350.7,475.1 352,474.8 352.3,474.5 353.5,474 354.2,473.8 354.5,474 355.7,473.8 356,473.3 356.7,473.2 357.9,472.9 358.6,472.8 359.1,472.6 360.4,472.5 360.6,472.1 361.6,471.8 362.5,471.8 363.3,472 364.5,471.7 364.6,471.8 366,471.5 366.3,471.1 367.1,471 368.4,470.9 368.8,470.7 369.3,470.3 370,469.9 370.8,470 371.8,470.1 372.5,469.7 373.6,469.4 374.2,469.3 375.2,469.6 375.9,469.6 376.4,469.2 377.6,469.1 378,468.4 378.7,468.4 380,468.8 380.7,468.6 381.1,467.8 382.2,468.3 382.8,468.1 384.3,467.9 384.9,467.6 385.8,467.8 386.6,467.3 387.2,467.1 387.6,467.4 388.6,466.7 389.1,467.1 390.1,466.3 391,466.5 391.8,466.3 392.6,466.3 393.3,465.9 393.8,466.1 395,465.6 395.4,465.7 396.3,465.5 397.4,465.7 397.8,465.6 399.1,465.2 399.7,465.6 400.9,465.3 401.3,464.9 402.3,465.3 402.9,464.9 403.6,464.3 404.2,464.3 405.5,464.2 405.8,464.2 407.1,464.5 407.7,464.4 408.3,464.3 409.6,464 410.4,464 411.1,463.2 411.6,463.1 412.7,463.4 413.1,463.3 414.3,463.5 415.1,463.1 415.9,462.9 416.6,462.7 417.3,462.8 418,462.5 419.1,462.4 419.9,462.7 420.9,462.9 421.6,462.8 421.7,462.7 422.5,462 423.9,462 424.5,462.5 425,461.7 425.9,461.7 426.9,462.2 427.9,462 428.5,462 429.4,461.7 430,461.5 430.8,461.7 431.4,461.1 432.9,461.8 433.4,461.1 434,461.5 434.8,461.3 435.7,461.1 436.5,460.9 437.4,460.6 438.5,460.5 438.8,460.7 439.5,460.4 440.4,460.7 441.5,460.9 442.4,460.7 443,460.1 443.6,459.9 444.9,459.9 445.6,459.8 446.1,459.7 446.8,460.1 447.8,459.8 448.4,460.1 449.3,460.1 450.3,459.5 451.3,459.2 452,459.6 452.3,459.2 453.4,459.1 454.1,459.3 454.9,459.5 455.8,459.1 456.2,459.7 457,459.5 458.2,459.5 458.9,459.5 459.7,459.2 460.3,459.6 461.4,459.1 462.4,459.3 462.8,459.4 463.5,459.2 464.2,459 465.3,459.4 465.9,458.8 467.3,459.4 468.1,459 468.3,459 469.6,459.4 470.6,459.2 471.1,458.8" stroke="none" fill="none" marker-start="url(#mt)" marker-mid="url(#mt)" marker-end="url(#mt)"/><polyline points="470.9,460.6 468.1,459.7 468.4,459.9 466.4,462.8" stroke="none" fill="none" marker-start="url(#mtn)" marker-mid="url(#mtn)" marker-end="url(#mtn)"/>
<polyline points="285.7,690.5 286.7,685.1 287.4,680 287.6,675.3 288.2,670.6 288.7,667.4 290,663.2 289.9,659.8 290.9,656.9 291.5,654 292,651 292.6,648.5 293.7,646 294.6,643.7 294.8,641.7 295.9,639.4 296.1,637.4 297,635.1 297.3,633.4 298.2,630.9 298.4,628.3 299.1,626 300.4,624.2 301,621.1 301.5,618.6 302,615.3 303,612.3 303.4,609.4 304.4,606.6 304.5,603.3 305.6,600.4 306.3,597.6 306.9,594.9 307.6,592.2 308.1,590.1 308.7,587.8 309.9,585.2 310.6,582.7 310.9,580.3 311.5,577.4 312.6,575.7 312.8,573 313.4,571 314.1,568.7 314.7,566.1 315.9,563.9 316.1,561.2 317.2,559.6 317.6,558.3 318.2,556.2 319.3,555.1 319.8,552.9 320.4,551.9 321.1,549.7 322.1,548.1 322.4,546.3 323.4,545 323.8,543.2 324.3,541.5 325.2,539.7 326,538.8 326.2,536.9 327.5,535.6 327.7,534.5 329.1,532.8 329.5,531.5 330.2,530.1 331.2,528.9 331.9,527.3 332.5,526.3 333.2,525.3 333.9,523.8 334.1,523.2 335,521.9 335.8,520.9 336.6,520 337.4,519 338.1,518 338.6,516.8 339.1,516 340.1,515.3 340.5,513.8 341.1,513.1 341.5,512.8 342.6,512.4 343.6,510.9 344.4,510.6 345.2,509.8 345.5,509.4 346.1,508.5 346.9,507.7 347.8,507.2 348.8,506.3 349.1,505.6 349.6,505 350.6,504.1 351.5,503.4 352.5,503.4 353.1,502.2 353.4,501.7 354.2,502 355.4,501.6 355.8,501 356.8,500.7 357.4,499.9 358.4,500 358.6,499.4 359.7,499.5 359.8,498.6 360.6,498.6 361.7,498.2 362.1,497.7 363.4,497.3 363.6,496.8 364.8,496.5 365.4,496.4 366.2,495.6 366.5,496 367.4,494.9 367.8,494.7 369,494.4 369.3,494 370.5,494 371,493.3 371.4,492.8 372.8,492.9 372.8,492.6 374.3,492 374.9,491.5 375.2,491.3 376.1,490.9 376.6,490.3 377.4,490.3 378.5,490 379,489.5 379.4,489.3 380.6,488.7 381.3,488.7 381.7,487.7 382.8,487.7 383,487.5 384.1,487.1 384.9,486.7 385.1,486.6 386.3,486.2 386.9,485.7 387.6,485.4 388,484.7 389.3,484.4 389.8,484 390.7,483.5 391.1,483.1 391.6,483 393,482.4 393.5,482.6 394.3,481.7 394.5,481.9 395.4,481.6 396.5,481.5 397,481 397.5,480.2 398.4,480 399.3,479.6 399.7,479.4 400.7,479.4 401.5,478.8 402,478.6 403.2,477.8 403.5,478 404.2,477.1 404.9,477.5 405.6,476.5 406.7,476.2 407.6,476 408,475.8 409.1,475.9 409.3,475 409.9,474.6 411.3,474.3 411.7,474.2 412.3,473.5 412.8,473.4 414.2,473.1 414.5,473.3 415.7,472.3 416.4,472.3 416.9,472.4 417.3,471.8 418.7,471.9 419.4,471.2 419.7,471.3 420.2,470.3 421.2,470.7 422,470.3 422.5,469.6 423.4,469 424.6,469.4 425.2,468.7 426,468.7 426.4,468.2 426.9,468.3 427.7,467.4 429.1,467 429.3,467 430.7,467.1 430.8,466.6 431.6,466.1 432.9,465.7 433.1,466 433.9,465.1 434.9,465.1 435.5,464.8 436.6,465.1 436.9,464.3 437.6,464.3 438.4,463.8 439.7,464.2 440.3,463.9 440.8,463.5 442,463.2 442.5,462.7 443.1,462.9 444.3,462.5 445.1,461.9 445.9,462.1 446.6,461.5 447.6,461.4 447.9,461.7 448.8,461.2 449.8,461.1 450.3,460.4 451.1,460.1 451.8,459.9 453,459.9 453.6,460 454.1,459.7 454.6,459.9 455.4,459.3 456.6,459.2 457.6,459.6 458.2,459.6 458.7,459.2 460.1,458.6 460.7,458.9 461.6,458.8 462.4,458.4 463,458.1 463.3,458.5 464.4,458.4 465,458.2 466.5,458.3 467,457.5 467.6,457.9 468.5,457.8 469.1,457.7 470.2,457.5 470.7,457.3 471.7,456.9" stroke="none" fill="none" marker-start="url(#mt)" marker-mid="url(#mt)" marker-end="url(#mt)"/><polyline points="471.3,458.4 468.4,457.3 468.5,457.3 466.4,459.9" stroke="none" fill="none" marker-start="url(#mtn)" marker-mid="url(#mtn)" marker-end="url(#mtn)"/>
<polyline points="279,689.7 279.8,684.2 280.1,679.4 280.9,674.5 281.9,670.1 282.2,666.5 283,662.9 283.4,659.1 284.2,655.6 284.8,652.9 285.3,649.9 286.2,647.6 287.1,644.9 287.9,642.7 288,640.2 289.1,637.8 289.9,636.3 290.2,633.6 290.6,631.5 291.4,629.3 292,627 293.2,624.6 293.8,622.3 294.3,619 294.6,616.2 295.6,613.6 296.7,610.3 297,607.7 297.6,604.7 298,602.4 299.2,599.1 299.4,596.6 300.2,593.9 300.6,591.2 301.8,588.8 301.9,586.5 303.1,583.5 303.7,581.2 304,579 305.2,576.8 305.6,574.5 306.4,571.8 306.7,569.2 307.7,566.9 308.7,565 308.9,562.7 309.8,560.2 310.1,558.8 311.5,556.9 312.1,554.7 312.6,553.7 313.3,551.9 314,550.4 314.5,548.4 315.2,546.8 315.5,544.9 316.3,543.5 317,541.9 318.1,539.6 318.3,538.6 318.9,537.1 319.7,535.3 321,533.9 321.7,532.8 322.1,531.3 322.8,529.4 323.5,528.2 324.3,527.3 325.1,525.5 325.8,524.1 326.8,522.6 327.3,521.6 328.1,521 328.5,520.3 329.1,518.8 329.7,517.8 330.9,517.1 330.9,515.8 332.1,514.9 332.4,513.6 333,512.7 334.2,512 334.9,511.2 335.2,510 336.2,508.7 337,508.1 337.2,507.3 338,507.2 338.9,506.3 339.5,505.7 340.2,505.2 341.1,504.5 341.8,503.3 342.6,502.5 343.5,502.5 344.2,501.2 344.8,500.7 345.9,499.7 346.2,499.3 346.9,498.4 348,498.2 348.8,497.6 349.6,496.6 350.4,496.7 350.5,496.4 351.3,495.3 352.5,495 352.9,495.3 354,494.5 354.8,493.9 355,494.2 356.3,493.1 356.9,493.4 357.2,492.7 358.5,492.1 358.5,492.2 359.2,491.7 360.2,491 361.2,490.7 361.4,490.3 362.6,490.6 363.3,489.5 364,489.5 364.4,489.1 365.4,489.2 365.8,488.6 366.9,487.8 367.9,487.8 367.9,487.5 368.7,487.2 369.4,486.3 370.1,486.3 371.1,485.8 371.6,485.4 372.8,485.4 373.6,484.8 374.1,484.2 374.6,484.4 375.6,483.7 375.8,483.4 376.7,483.5 377.6,482.4 378.2,482.6 378.7,482.2 380,481.9 380.3,481 380.9,481 382,480.7 382.5,480.1 383.7,479.5 384,479.9 384.6,479.5 385.3,478.5 385.9,478.8 387,478 387.7,478 388.1,477.1 389.2,477.4 389.6,476.9 390.6,476.4 391.2,476.2 392.4,476 392.9,475.6 393.6,475 394.4,474.5 395.1,474.4 395.8,473.8 396.3,473.7 397.1,473 397.7,473 398.6,472.7 399.3,472.7 400.4,472 400.9,471.9 401.4,471.3 402.6,471 402.8,470.4 403.5,470.5 404.5,470 405.3,469.7 406,469.8 406.5,468.9 407.6,468.8 408.2,468.5 408.7,468.3 409.7,467.9 410.7,467.5 411,467.5 411.6,467.1 412.9,466.9 413.8,466.6 413.9,466.1 414.9,465.5 415.2,465.1 416.3,464.8 416.9,465 417.5,464.3 418.3,464.5 419.2,463.8 420.4,463.8 420.7,463.3 421.7,463.1 422.4,462.7 423,462.5 423.8,462 424.2,461.9 424.9,461.4 426.4,460.9 426.5,460.8 427.4,460.5 428.5,460.6 429.3,459.9 429.6,459.5 430.6,459.8 431.5,459.5 432.5,459.1 433,458.8 433.3,458.3 434.3,458.6 435.5,458.3 435.9,457.9 436.9,457.7 437.8,457.1 438.6,457.2 439.1,456.9 439.7,457 440.7,456.5 441.7,456.1 442.1,455.7 442.7,455.8 443.4,455.6 444.7,455.7 445.6,454.8 445.6,455.1 446.5,454.7 447.8,454.9 448.1,454.2 449,453.9 449.9,453.4 450.4,453.6 451.6,453.6 451.9,453.1 453.2,453.4 453.4,452.9 454.6,453.1 455.2,452.7 456.2,452.8 457.3,452.6 457.9,452.4 458.6,452.4 459,452.6 460.1,451.9 460.8,452 461.5,452 462.8,451.5 463.3,451.3 463.9,451.8 464.9,451.7 465.7,451.6 466.3,451 467.2,451 468.2,450.8 469.1,450.9 469.7,450.5 470.6,450.4" stroke="none" fill="none" marker-start="url(#mt)" marker-mid="url(#mt)" marker-end="url(#mt)"/><polyline points="470.1,451.5 467.1,449.9 467.1,449.6 464.9,451.8" stroke="none" fill="none" marker-start="url(#mtn)" marker-mid="url(#mtn)" marker-end="url(#mtn)"/>
<polyline points="354.5,507.1 354.9,506.9 356.3,506.3 357,505.9 357.5,506 357.9,504.9 358.6,504.5 359.5,504.3 359.9,504 360.9,504.1 361.3,503.6 362.7,503.3 362.9,502.5 363.7,502 364.9,502.3 365.5,501.8 366.4,501.3 366.3,500.9 367.4,500.9 367.8,500.6 368.7,499.5 369.7,499.9 370.4,499.4 371,498.8 371.4,498.8 372.5,497.8 372.9,497.8 374,497.8 374.6,497.1 375.5,496.4 376.4,496.2 377.2,496.3 377.8,495.3 378.2,495.3 378.8,494.9 379.5,494.6 380.5,494.3 381.3,494.1 381.7,493.6 382.7,492.8 383.4,492.7 383.7,492.2 384.9,492.2 385.4,492 386.2,491 386.9,491 387.8,490.7 388.5,489.9 389.1,489.7 389.4,489.8 390.7,489.6 391,489.2 392,488.6 392.8,488.4 392.9,487.9 394.1,487.5 394.6,487.4 395.2,487 396,486.1 396.6,486.4 397.3,485.6 398.6,485.3 399.5,485.4 399.8,484.9 400.8,484.6 401.7,484 402.1,483.6 402.4,483.6 403.4,482.7 404.3,483 404.6,482.3 406,482.2 406.1,482 407,481.4 408.3,481.5 408.3,480.5 409.5,480.4 409.9,480 411.2,479.6 411.7,479.5 412.2,479.2 413.1,478.5 413.8,478.2 414.1,477.9 415.1,477.8 416,477.3 417,477.3 417.8,477.1 418,477.1 419,476.3 419.8,476.2 420.6,475.6 421.6,475.6 422,474.9 422.5,475.2 423.4,474.7 424.3,474.3 424.6,473.7 426,473.8 426.7,473.7 427.3,473 428.1,472.9 428.8,472.5 429.6,472.6 430.5,472.3 430.6,471.7 431.6,471.2 432.5,470.7 432.8,471 434.2,470.6 434.9,470.6 435.2,469.8 436.3,469.6 437.2,469.6 437.6,469.7 438.4,469.2 439.5,469.2 439.8,468.5 441.3,468.4 441.5,468.2 442.5,468 443,467.7 443.6,467.6 445,467 445.3,467.3 446.5,466.5 447.2,466.5 447.5,466.5 448.3,466 449.2,466 450.1,466 450.6,465.4 451.9,464.9 452.6,464.6 453.3,464.4 453.8,464.8 455.2,464.6 455.4,464.6 456.1,464.5 457.1,464.3 457.7,463.8 458.9,464 459.6,463.6 460.3,463.6 461.2,463.3 462.3,463.2 462.5,463.1 463.4,463 464.4,463.3 465,462.8 466.2,463.1 466.7,462.9 467.4,462.7 468.5,462.1 469.3,462.3 470.1,462.6 470.8,462.1 471.8,461.9 472,462" stroke="none" fill="none" marker-start="url(#mt)" marker-mid="url(#mt)" marker-end="url(#mt)"/><polyline points="471.6,462.5 468.7,460.4 468.7,459.5 466.6,461.1" stroke="none" fill="none" marker-start="url(#mtn)" marker-mid="url(#mtn)" marker-end="url(#mtn)"/>
<polyline points="282.5,640 282.5,631.8 282.8,623.8 282.2,616 282.4,607.6 282.5,599.9 283.2,591.9 282.9,584.1 283.5,575.7 283.2,567.9" stroke="none" fill="none" marker-start="url(#mt)" marker-mid="url(#mt)" marker-end="url(#mt)"/>
<polyline points="188.9,472.9 189.7,473.1 190.5,474 190.7,474 191.7,474.2 192.8,475.1 193.5,475 194.3,475.2 194.7,475.8 195.1,476.2 196,476.5 196.5,477.1 197.3,476.9 198.6,477.5 199.1,478.2 199.9,478.7 200.2,478.7 200.9,479.3 201.7,479.3 202.4,480 203.3,480.5 204.1,480.6 204.9,480.8 205.4,481.1 206,482 207,482 207.8,482.1 208.7,482.7 209,483.3 209.8,483.6 210.3,484.2 211.6,483.9 212,484.2 212.4,484.7 213.1,485.6 214.2,485.7 215.1,485.8 215.6,486.5 216.4,486.6 216.7,487.4 218.2,487.8 218.2,487.6 219,488.4 219.9,488.7 220.9,488.9 221.1,489.7 222.1,489.8 222.4,490.1 223.7,490.3 224.1,491.1 224.9,491.3 225.5,491.2 226.3,492.1 227.1,492.3 227.9,493.1 228,492.9 229.3,493.9 230,493.7 230.8,494.1 230.8,494.9 232,494.8 232.7,495.3 233.1,495.8 234.1,496.4 234.2,497.1 235.2,497.5 235.7,497.3 236.5,498 237,498.5 238.3,498.9 238.7,499.5 239.3,499.3 239.9,500.3 240.5,500.4 241.4,501.2 242.3,501.2 242.7,501.5 243.3,502 244.4,502.6 244.8,502.6 245.6,503.7 246.6,504.1 247.1,504.1 248.1,504.3 248.2,504.7 248.9,505.1 250.2,505.7 250.5,506.1 250.9,506.3 251.5,507.3 252.3,507.3 253.7,508.1 254.2,507.9 254.6,509 255.5,509.4 256,509.4 257.1,510 257.1,510.6 258,510.6 259.1,511.9 259.4,512.2 260.3,512.8 261.5,513.3 262.3,514.2 262.7,514.8 263.6,515.2 264.1,516.1 265,517.1 265.4,517.4 266.8,518.4 267.1,518.7 268.1,519.8 268.6,520.3 269.2,521.6 270,522.7 270.9,523.4" stroke="none" fill="none" marker-start="url(#ms)" marker-mid="url(#ms)" marker-end="url(#ms)"/><polyline points="270.6,523.6 267.9,521.1 268.2,519.8 266.2,521.1" stroke="none" fill="none" marker-start="url(#msn)" marker-mid="url(#msn)" marker-end="url(#msn)"/>
<polyline points="187.6,475.6 188.2,475.8 189.3,476.3 189.7,476.7 190.3,477.2 191.5,477.1 191.9,477.6 192.7,478.3 193,478.2 194.1,479.2 195,479.5 195.2,479.5 196.3,479.9 196.7,480.7 197.8,480.6 198.4,481.2 199.3,481.7 199.7,482.2 200.8,482 201,482.5 201.8,483.2 202.3,483.5 203.2,483.9 204.1,483.7 205.3,484.3 206,484.5 206.1,485.1 206.8,485.5 207.9,485.9 208.1,486.3 209,486.5 210.2,487.1 210.3,486.9 211.5,487.5 212.2,488 213.2,488.6 213.9,489 214.3,488.9 214.6,489.6 215.6,489.7 216.2,490 217.1,490.6 217.6,490.5 218.6,491.5 219.3,491.9 219.7,492.1 220.7,491.9 221.1,492.8 222.3,492.7 222.9,493.8 223.3,494.1 223.9,494 225.1,495 225.7,495.1 226.4,495.5 227,496.2 227.6,496.1 228.1,496.7 229.2,497 229.5,497.2 230.6,497.5 231,498 232,498.9 232.7,498.8 233,499.3 234.2,500.2 234.8,500.3 235.2,500.8 236,501 236.5,501.1 237.2,501.6 238.3,502.6 238.5,503 239.7,503 240.4,503.5 241,504.1 241.9,504.4 242,504.9 243.1,505.1 243.5,506 244.7,506.2 245,506.5 245.4,506.4 246.2,507.3 247.5,507.8 247.9,507.7 248.7,508.1 248.9,508.9 250.1,508.9 250.7,509.8 251.3,510.1 252.3,510.8 252.2,511.2 253.4,511.7 254.3,511.6 254.4,512.5 255,512.3 255.9,513.4 256.7,513.9 257.5,514.6 258.4,515.4 259.3,516.1 259.7,516.1 260.8,517.3 261.9,517.4 262.7,518.3 263.4,518.6 263.8,519.7 264.8,520.5 265.1,521 265.8,522 266.4,523.2 267.4,524 268.2,524.7" stroke="none" fill="none" marker-start="url(#ms)" marker-mid="url(#ms)" marker-end="url(#ms)"/><polyline points="268,524.8 265.3,522.3 265.5,521 263.6,522.3" stroke="none" fill="none" marker-start="url(#msn)" marker-mid="url(#msn)" marker-end="url(#msn)"/>
<polyline points="200,478 201.1,478.8 201.4,479.4 202.4,480.5 202.8,480.6 203.5,481.2 204.4,482.7 204.8,483.2 205.5,484.1 206.5,484.3 206.8,484.9 208.2,485.6 208.7,486.6 209.2,487.5 209.7,488.1 210.4,488.5 211.6,489.2 211.8,490.1 212.9,490.5 213.6,491.7 213.8,492.4 214.4,493.2 215.6,493.8 216.1,494.8 216.6,495.3 217.5,495.7 218.5,496.6 219.1,497.6 219.2,498.2 220.3,499 221.2,499.4 221.9,500.8 222,501.5 222.7,502.8 223.9,503.7 224.8,504.9 224.9,506.3 226.2,507.3 226.5,508.8 227.6,509.6 227.9,511.2 229.2,512 229.8,513.6 230,515.1 231.1,516.3 231.5,518.1 232.6,519.7 233.2,522 233.9,523.5 234.2,525.4 235.6,527 235.7,528.5 236.8,529.8 237.1,531.3 238.2,531.3 238.9,531.4 240,530.8 240.4,531.3 241.1,531.4 242.3,531.4 242.8,530.6 244.1,531 244.4,531.1 245.1,531.2 246.3,531.1 246.9,530.9 247.6,530.6 248.5,530 249.1,528.6 250.1,527.7 250.3,526.4 251.2,525.5 251.9,523.8 252.7,526.6 253,529 253.8,530.6 254.6,533.5 255.8,535.6 255.8,538.1 256.7,542 257.1,545.9 258.4,549.2 258.7,553.6 259.2,556.5 260.2,563.9 260.7,571.2 261.5,579.1 262.2,586.7 262.3,594.8 263.5,602.4 263.9,608.9 264.8,615.6 264.9,621.8 266,628 266.6,634.2 267.1,640.8 267.4,647.8 268.8,654.3 269.2,659.5 269.5,664.5 270.4,669.9 270.7,674.6 271.7,679.5 271.6,687.5 271.5,695.4 271.4,703 270.9,711.1 271.4,719.1" stroke="none" fill="none" marker-start="url(#ms)" marker-mid="url(#ms)" marker-end="url(#ms)"/>
<polyline points="215,484 215.4,485 216.1,485.9 217.7,486.6 218.4,487.8 219.1,488.3 219.7,489.6 220.4,490.4 221.4,491.6 222,492.5 222.6,493.6 223.4,494.3 223.8,495.2 224.6,496.2 225.5,497.3 226.4,497.9 227.1,498.7 228.3,500.1 228.5,500.6 229.2,501.9 229.8,503.2 230.2,503.7 231.2,504.5 231.9,505.9 232.4,507.2 233.1,507.7 234,508.6 234.5,509.6 234.9,511 235.7,511.6 236.4,512.8 236.9,514 238.1,515.2 238.2,514.7 239.5,514.9 240,514.8 240.6,514.3 241.4,513.8 242.7,513.8 243.6,514 244.1,513.5 244.8,513 245.6,513.3 246.4,513.1 247,512.4 248.4,512.3 248.5,512.6 249.8,512.4 250.7,511.8 251.2,512.4 251.8,512.6 252.6,512.5 253.5,512.9 254.1,513.3 255,513.2 255.8,513.5 257.1,514 257.5,513.6 257.9,514.3 258.7,514.1 259.8,514.1 260.7,515 261.5,515" stroke="none" fill="none" marker-start="url(#ms)" marker-mid="url(#ms)" marker-end="url(#ms)"/><polyline points="261,515.9 258,514.2 258,513.6 255.8,515.6" stroke="none" fill="none" marker-start="url(#msn)" marker-mid="url(#msn)" marker-end="url(#msn)"/>
<polyline points="280,519.8 280.6,515.5 281.6,511.5 282,507.4 282.5,505.3 283.6,503 284,501.2 284.8,499.6 285,497.3 286.1,496 287,495 287.2,493.6 288.2,492.7 288.7,492.2 289.7,490.8 290.3,490 291.3,489.1 291.7,488.3 292.7,487 292.9,486.7 293.6,486.6 294.1,486 294.8,485.6 295.7,484.6 296.8,484.3 297.5,483.8 297.5,483.5 298.2,483.1 299.2,482.7 299.3,482.2 300.3,481.8 301.5,481.8 301.7,480.9 302.9,480.9 303.7,480.7 304.6,480.6 305.4,480.3 305.8,479.6 306.2,479.7 307.2,479.1 307.8,478.7 308.8,478.6 309.4,477.9 310.3,478.3 311.1,478.1 311.6,477.7 312.6,476.9 313.1,477.2 314.4,476.5 315,476.9 315.5,476.6 316.2,475.8 317.4,476.2 318.1,475.6 318.9,475.5 319.6,475.5 320.3,474.8 320.8,474.8 322,474.4 322.4,474 323.6,473.6 324,473.5 325.1,473.8 325.8,473 326.3,472.9 327.6,473.2 328.2,472.7 328.7,472.5 329.6,472.1 330.1,471.6 330.9,471.5 332,471.8 332.4,471.7 333.6,471 334.4,470.9 335.1,470.9 336.1,470.6 336.3,470.4 337.4,470.1 338,470.3 339.2,469.9 339.6,469.6 340.1,468.9 341,469.1 342.3,469 342.8,468.3 343.7,468 344,468.2 345.3,467.6 346,467.9 346.7,467.6 347.7,467.6 347.8,467.4 349,467.3 350,466.6 350.2,466.9 350.9,466 351.8,466.4 352.5,466.1 353.4,465.9 354.3,465.9 355.2,465.8 355.6,464.9 356.8,465.3 357.9,464.6 358.7,464.7 359.4,464.2 359.7,464.4 360.8,464.5 361.1,464.1 361.9,464 362.6,464 363.7,463.6 364.7,463 365.6,463.2 366.1,463.2 366.8,463.2 367.3,462.3 368.6,462.6 369.4,461.9 369.8,461.9 371.1,462 371.4,461.6 372.5,461.5 373,461.7 373.7,461.3 374.5,461.1 375.7,460.8 376.2,460.9 377.1,460.8 377.8,460.6 379,460.5 379.4,460.3 380.4,460.4 381.4,460.5 381.9,460.3 382.3,459.9 383.5,459.6 384.6,459.7 384.7,459.6 385.6,459.1 386.3,459.3 387.1,459 388.4,459.2 388.7,458.8 389.9,458.3 390.5,458.6 391.5,458.5 392.1,458.3 393,458.1 393.4,458 394.5,458 395.5,457.5 396.1,457.5 396.9,457.7 397.8,457.2 398.7,457.7 399.3,457.1 400.4,457 400.9,456.8 401.8,456.6 402.3,457 403.2,456.9 403.8,456.4 404.8,456.2 405.6,456.4 406.8,456 407.6,456.3 408.3,456.1 408.8,456 409.3,455.8 410.5,455.2 411.2,455.1 411.7,455.1 412.6,455.6 413.5,455.5 414.4,455.3 415.5,454.7 415.7,454.9 416.9,455 417.3,455.1 418.2,454.8 418.9,454.8 420.5,454.3 420.9,454.7 421.3,454.2 422.3,454.2 423.3,454.3 423.9,454.1 424.6,454.2 426,454.1 426.2,453.6 427.3,453.6 427.9,453.6 428.8,453.7 429.5,453.6 430.4,453.8 431.1,453.2 432.4,453 432.5,453.6 433.4,453.6 434.2,453 435.4,453.2 436.3,453.1 436.8,452.8 437.7,453.1 438.2,452.8 439.6,452.8 440.1,452.5 441,452.9 441.7,452.6 442.2,452 443.6,452 444.1,452.2 445.2,452.2 445.4,451.8 446.4,452.2 447.5,452.3 447.7,452 448.6,451.5 449.5,451.4 450.8,451.5 451.1,451.1 452.3,451.2 453.2,451.2 453.8,451.5 454.8,451.8 455.6,451.5 456.2,451.7 456.6,451.5 457.9,451.4 458.8,451.5 459.2,451.2 460.4,451.4 461.3,451.6 461.7,451.4 462.3,451.6 463.6,451.3 464.4,450.9 464.6,451.5 465.9,450.9 466.3,450.9 467,451.5 468.5,450.7 468.7,451.1 470,450.8 470.7,450.7" stroke="none" fill="none" marker-start="url(#ms)" marker-mid="url(#ms)" marker-end="url(#ms)"/><polyline points="470.2,451.9 467.3,450.5 467.3,450.2 465.1,452.6" stroke="none" fill="none" marker-start="url(#msn)" marker-mid="url(#msn)" marker-end="url(#msn)"/>
<polyline points="283,520.3 283.3,516.2 284.7,511.8 284.9,507.6 285.7,505.9 286.3,504.3 287.1,501.9 287.5,500.2 288.4,498 289.3,496.6 290,495.3 290.3,494.3 291.2,493.5 291.8,492.5 293,491.8 293.3,490.7 293.9,490.1 295.2,489.1 295.3,489 296,487.8 296.9,487.6 297.9,486.9 297.9,486.7 298.6,486.4 299.6,486.1 300.6,485.1 301.2,484.9 302,484.2 302.4,484.6 302.8,483.8 303.8,483.5 305.1,483.1 305.7,482.9 306.5,482.5 306.6,482.9 307.3,482.3 308.2,481.9 309,481.7 310,481.5 310.3,481.2 311.2,480.8 312.4,480.7 313,480.3 313.5,480.3 314.6,480 315.7,479.7 315.9,479.3 316.6,478.9 317.9,479 318.1,478.7 319.1,478.7 320.2,478.1 320.4,477.7 321.5,477.6 321.9,477.7 323.1,477.1 323.4,476.9 324.6,476.5 325,476.2 325.7,476.4 327.1,476.2 327.5,475.8 328,475.9 329.2,475.2 329.7,475 330.7,475.1 331.2,475 332.1,474.3 333.2,474.1 334.3,474.3 334.8,474 335.7,474 336.2,473.2 337.1,473.7 337.6,473.2 338.2,473.1 339.3,472.7 340.2,472.4 341,472.3 341.5,472.3 342.1,472 343.1,471.3 343.8,471.3 344.5,471.2 345.9,471.1 346.4,470.8 347.1,470.7 348,470.3 348.8,470.2 349.1,469.6 350.1,469.5 351.1,469.4 351.9,469.4 352.9,469.1 353.1,469.3 354,468.9 354.7,468.5 355.8,468.7 356.8,468.6 357.3,468.2 358.2,467.9 359,467.6 359.6,467.4 360.1,467.7 361.2,467.2 362.1,466.8 362.4,466.9 363.3,466.4 364.3,466.4 365.4,466.3 366.2,466.3 366.8,466 367.2,466 368,465.8 369.4,465.7 370.1,465.5 370.6,465.3 371.6,465 372.2,464.9 373.2,464.3 373.9,464.8 374.2,464.7 375.7,464.2 376.2,464 376.7,463.8 378.1,463.4 378.5,463.5 379.4,463.9 380.2,463.1 381.3,463.2 382,463.4 382.3,462.7 383.7,463.1 383.9,463 385.1,462.3 385.3,462.5 386.3,462 386.9,462 387.7,461.6 388.6,461.9 389.7,461.6 390.2,461.6 391.3,461.4 392,461.4 393.2,460.9 393.9,461.3 394.3,461.1 395.5,461.1 396.2,460.4 396.6,460.3 397.9,460.3 398.3,460.6 399.4,460.1 400.3,460 401,459.7 401.9,459.5 402.6,459.7 403.2,459.9 404.3,459.9 404.9,459.1 405.9,459.2 406.1,459 407.3,459.5 408,459.3 408.7,458.9 409.1,458.9 410.6,458.2 411.1,458.5 411.5,458.8 412.8,458 413.8,458 414.3,457.9 414.8,458.5 416.1,457.6 416.9,458 417.8,457.5 418.2,457.4 419.1,457.5 420.2,457.5 421,457.9 421.7,457.2 422.6,457.7 423.2,457.7 423.9,457.2 424.9,457 425.4,456.8 426.5,456.6 426.9,456.9 427.9,456.6 428.9,457 429.2,456.7 430.4,456.6 430.9,456.5 431.5,456.6 432.6,456.5 433.3,456.3 434.4,455.8 434.7,456.3 435.6,455.7 436.6,456.3 437,456.2 438.3,455.7 438.7,455.6 439.7,455.9 440.7,455.8 441.4,455.2 442.3,455.1 443.1,455.2 443.4,455.5 444.2,455.2 445.2,455.4 446.2,455 447.1,455.3 448,454.5 449,454.9 449.6,454.5 450.1,454.6 450.8,454.7 451.7,454.5 452.9,454.6 453,454.8 454,454.2 454.9,454.7 455.9,454.7 456.8,454.5 457.4,454.4 457.9,454.7 459.2,454.7 460,454.4 460.4,454.1 461.6,454.1 462,453.9 463.4,454.4 463.6,454.2 464.9,453.9 465.2,453.8 466.2,454.5 467,453.8 467.8,454.5 468.9,454.1 469.2,453.9 470.1,454.1 470.9,453.6" stroke="none" fill="none" marker-start="url(#ms)" marker-mid="url(#ms)" marker-end="url(#ms)"/><polyline points="470.6,455.3 467.9,454.4 468.1,454.6 466.1,457.4" stroke="none" fill="none" marker-start="url(#msn)" marker-mid="url(#msn)" marker-end="url(#msn)"/>
<polyline points="281.5,690 281.8,684.9 282.6,680 283.2,675.3 284.1,670.6 285.1,666.9 285.3,663 286.2,659.4 286.5,656.1 287.5,653.8 287.9,651.3 288.8,649.1 289.1,646.5 290,644 290.9,641.5 291,639.6 291.6,637.4 292.2,635.8 293.5,633.6 294,631 294.3,628.4 294.7,625.7 295.8,623.4 296.6,621 296.9,618.3 297.8,615.1 298.4,612 299.6,609.6 299.7,606.6 300.8,603.5 301.1,600.6 302,597.3 302.2,594.6 303,591.9 304.2,589.4 304.9,586.9 305,584.4 305.7,581.7 306.8,579.6 307.1,577.3 308.1,574.5 308.4,572.7 309.8,570.5 310.2,567.5 311,565.2 311.7,562.9 312.6,560.9 312.6,558.7 313.4,557.5 314,555.4 315.1,553.8 315.3,552.1 316,550.5 316.6,548.6 317.3,547.2 318.6,545.9 319,543.7 319.9,542.1 320.3,540.6 320.9,538.9 322,537.3 322.3,536.4 322.9,534.4 323.5,533.5 324.6,531.8 325.6,530.5 325.8,528.7 327,527.5 327.5,526 328.5,524.9 329.1,523.8 329.6,522.5 329.8,521.7 330.7,521.2 331.3,519.9 332.5,518.9 333.2,518 333.7,516.5 334.1,516.1 334.8,515 335.7,514.2 336.3,513.2 337.2,512 338,511 338.3,510.4 339.3,509.6 340.1,508.8 340.9,508.2 341.7,507.4 342.3,506.4 343.2,505.8 343.5,505.2 344.5,504.9 345,503.7 345.8,503.7 346.8,502.5 347.6,501.8 348.3,501 348.4,500.7 349.3,500 350.2,499 351.2,498.4 351.4,498.5 352.4,498 352.8,497.5 354,497.3 354.2,497.3 355.4,497 355.9,496.7 356.5,496.3 357.7,495.7 358,495.4 358.9,494.7 359.9,494.7 360.5,494.5 360.7,493.4 361.4,493.7 362.7,492.9 363,492.4 363.7,492.1 364.6,492.1 365.5,491.4 365.8,491.1 366.8,490.9 367.5,490.2 367.9,490.3 369,490.1 369.2,489.6 370,489.3 371.3,488.6 371.3,488.3 372.7,487.7 372.8,487.7 373.8,487.7 374.2,487.4 375.1,487.1 376.1,486 376.4,486.4 377.2,485.5 378.3,485.1 379.2,484.6 379.2,484.9 380.2,484.4 380.9,484.1 381.7,483.2 382.4,483.2 383.5,483.1 384.2,482.6 384.8,482.1 385.4,481.9 386,481.3 386.8,480.9 387.4,480.6 388,480 389.1,479.6 389.4,479.4 390.4,479.1 390.8,479 392,478.1 392.4,478 393.4,477.8 394.1,477.5 394.5,477 395.1,477.1 396.3,476.4 397,476.6 397.7,475.6 398,475.5 399.4,475.3 399.9,474.5 400.7,474.4 401,474.1 401.9,473.6 402.5,473.7 403.5,473.4 404.2,473.3 404.8,472.3 405.5,472.1 406.8,471.6 407.5,472 408.1,471.2 409,471.2 409.3,470.7 410.1,470 411.1,469.6 411.2,469.9 412.4,469.6 412.7,469 414.1,468.6 414.3,468.3 415.6,468 415.8,467.9 416.8,467.5 417.2,467.3 417.9,467.4 419.2,466.8 419.9,466.4 420.9,466.2 421.5,465.6 421.9,465.6 423,464.9 423.6,465.3 424.1,464.6 425.1,464.6 425.6,464 426.7,464 427,463.5 428.1,462.8 428.6,462.9 429.5,462.3 430.4,462.2 431.2,462.3 431.9,461.5 432.5,461.3 433.5,461.2 434.4,460.8 434.6,461.1 435.9,461 436.1,460.3 437.2,460 438.2,459.8 438.6,459.7 439.7,459.6 440.1,459.1 441.4,459.2 441.7,459.1 442.2,458.7 443.7,458.7 444.4,457.9 445.3,458 445.8,457.6 446.7,457.6 447.5,457.1 447.9,456.8 448.6,456.4 449.2,456.4 450.3,456.4 450.9,455.8 452.1,455.5 452.9,455.5 453.5,456 454.1,455.2 455.3,455.4 455.7,455.1 456.7,454.8 457.8,455.3 458,455 459.3,455 460,454.8 461,454.7 461.5,454.5 461.9,454.4 463,453.9 463.9,453.7 464.6,454.3 465.4,453.7 466.4,453.9 466.9,453.2 468.1,453.4 468.9,453.6 469.6,453.6 470.2,453.3 470.7,453" stroke="none" fill="none" marker-start="url(#ms)" marker-mid="url(#ms)" marker-end="url(#ms)"/><polyline points="470.3,454.6 467.4,453.4 467.5,453.4 465.4,456" stroke="none" fill="none" marker-start="url(#msn)" marker-mid="url(#msn)" marker-end="url(#msn)"/>
<polyline points="283,690.2 283.5,685 284.4,679.8 285,674.6 285.7,670 286,666.5 287.2,662.7 287.5,659.4 288.3,656.1 289.2,653.8 289.7,650.4 290.6,648.2 291,645.4 292,643.4 292.1,640.7 293.2,638.6 293.4,636.3 294.5,634.3 294.7,632.5 295.3,630.1 296,627.8 296.7,624.6 297.7,622.5 298.4,619.8 298.8,616.9 299.5,613.6 300.7,610.6 300.7,607.9 301.4,604.7 302.3,601.8 302.8,599.2 304.1,596 304.3,593.3 305,590.8 305.8,588.6 306.2,586.2 307.5,583.4 307.9,580.5 308.3,578.1 308.9,576.3 309.7,574 310.8,571.4 311.4,569.3 312.1,566.9 312.8,564.3 313.8,562 313.8,559.9 315,558.8 315.8,556.5 316,555.3 316.4,553.4 317.5,551.6 317.9,550.1 318.5,548.7 319.4,546.5 320.1,545 320.9,543 321.3,541.4 322.2,540.1 323.1,538.7 323.6,537.3 324.1,535.8 324.9,534.3 325.6,532.5 326.2,531.5 326.8,529.9 328.1,528.6 328.8,527.1 328.9,525.7 330.2,524.7 330.5,524.1 331.2,523.1 332.2,521.5 332.8,520.9 333.4,519.9 333.9,519 334.8,518 335.6,516.9 336.1,515.6 336.4,514.8 337.4,513.7 338.1,513.1 339.1,512.2 339.2,510.9 340.5,510.7 340.8,510 341.4,509 342.6,508.4 343.5,507.5 343.7,507 344.5,506.6 345.6,505.4 345.9,504.7 347.3,504.1 347.4,503.5 348.3,502.7 349.3,502.3 349.7,502 350.6,501.1 351.2,500.2 352.4,499.6 353.1,499.4 353.1,499.1 354.5,498.9 354.9,498.1 355.7,498.5 356.6,498 356.7,497.1 357.6,497.2 358.6,496.5 358.9,496.2 360.1,496.1 361,495.7 361.5,494.9 362,494.6 362.7,494.8 363.6,494.4 364.6,493.7 364.9,493.1 365.8,493.2 366.8,492.6 366.9,492.8 367.5,491.8 368.7,492 369.1,491.3 370.2,490.7 370.4,490.4 371.6,490.3 372.5,489.7 373.1,489.6 374,489.4 374.4,488.6 375,488.1 375.4,488.2 376.8,487.8 377,487.6 378.1,487.4 379,486.4 379.2,486.1 380.4,485.6 380.5,485.6 381.3,485.6 381.9,484.9 383.2,484.5 383.5,484.4 384.7,483.8 385.2,483.6 385.7,483 386.3,482.9 387.5,482.6 388,481.9 389,481.3 389.5,481.1 390.1,481.2 391.1,480.7 391.9,480.2 392.3,479.6 392.7,479.6 394,479.5 394.4,479.3 394.9,478.6 395.8,478 396.6,478.2 397.1,477.8 398.3,477.3 399,476.8 399.5,476.3 400.4,476.2 401.3,476.2 401.9,475.4 402.7,475.4 403.3,474.9 404.1,474.4 405.1,474.1 405.7,473.7 406.3,473.8 407.1,473.5 407.6,473 408.8,472.6 409.4,472 409.8,471.7 410.3,472 411.4,471.4 412.3,471.1 413,471 413.7,470.7 414.1,470.4 415,470.3 416.1,469.4 416.5,469 417.2,468.7 418.2,469 419,468.4 419.9,468 420.2,467.4 421.3,467.8 422.2,467.3 422.2,467.3 423.4,467 423.7,466.7 424.5,465.9 425.2,465.4 426.1,465.5 427,465.5 427.5,464.9 428.3,464.8 428.9,464.5 430.3,464 431.1,463.9 431.7,463.8 432.6,463 433.3,462.7 433.8,462.7 434.4,462.7 435.7,462 435.8,461.8 436.5,462.2 437.8,461.3 438.1,461.3 439.4,461.1 439.9,461.2 440.4,460.4 441.6,460.6 442.2,460 442.8,460.3 444,460 444.5,459.4 444.9,458.9 445.9,459.3 446.7,459 447.4,458.9 448.1,458.4 449.2,457.8 450.2,457.5 450.6,457.6 451.3,457.8 452.3,457.2 453,457.5 454.2,457 455,457 455.1,457.3 455.8,456.6 456.8,456.4 457.5,456.3 458.4,456.2 459.1,456.2 460.5,455.9 460.7,455.9 462,456.1 462.5,455.5 463.4,455.3 464,455.6 464.7,455 465.3,455.2 466.4,454.9 467,454.9 468.4,455.1 468.6,455.2 469.3,455 470.4,454.7 471.4,454.6" stroke="none" fill="none" marker-start="url(#ms)" marker-mid="url(#ms)" marker-end="url(#ms)"/><polyline points="470.9,455.7 467.9,454.2 467.9,453.9 465.8,456.1" stroke="none" fill="none" marker-start="url(#msn)" marker-mid="url(#msn)" marker-end="url(#msn)"/>
<polyline points="280.5,690 280.7,682.1 280.8,674.3 280.7,666.3 281.5,658.1 281.7,649.6 281.8,641.9 281.2,634 281.5,625.8 281.2,617.7 281.3,609.2 281.5,601.2 282,593.4 281.8,585.8 282.5,577.5 282.2,569.8 282.5,561.4 282.3,553.4 282.5,545.1 282.1,537.4 282.3,529" stroke="none" fill="none" marker-start="url(#ms)" marker-mid="url(#ms)" marker-end="url(#ms)"/>
<polyline points="270.3,690.0 270.3,728.0" fill="none" stroke="#333" stroke-width="1" stroke-linejoin="round"/>
<polyline points="274.0,690.0 274.0,728.0" fill="none" stroke="#333" stroke-width="1" stroke-linejoin="round"/>
<polyline points="279.2,439.0 279.2,600.0" fill="none" stroke="#111" stroke-width="1.5" stroke-linejoin="round"/>
<polyline points="400.0,462.0 420.0,458.0 430.0,456.0 418.0,465.0" fill="none" stroke="#222" stroke-width="1" stroke-linejoin="round"/>
<polyline points="288.9,677.8 282.4,695.5" fill="none" stroke="#000" stroke-width="2.2" stroke-linejoin="round"/>
</g>
<line x1="259.0" y1="474.8" x2="218.2" y2="450.2" stroke="#111" stroke-width="1.1"/>
<path d="M211.3,446.0 L225.4,448.7 L218.2,450.2 L220.3,457.3 Z" fill="#111"/>
<line x1="178.0" y1="491.4" x2="218.2" y2="534.9" stroke="#111" stroke-width="1.1"/>
<path d="M223.7,540.8 L210.9,534.3 L218.2,534.9 L218.2,527.5 Z" fill="#111"/>
<line x1="383.7" y1="443.6" x2="322.2" y2="456.1" stroke="#111" stroke-width="1.1"/>
<path d="M314.3,457.7 L326.5,450.1 L322.2,456.1 L328.5,459.9 Z" fill="#111"/>
<line x1="343.4" y1="546.7" x2="380.8" y2="511.9" stroke="#111" stroke-width="1.1"/>
<path d="M386.7,506.4 L380.2,519.3 L380.8,511.9 L373.4,511.9 Z" fill="#111"/>
<text transform="translate(124.4,498.4) rotate(45.6)" font-size="25">Negative bias</text>
<text transform="translate(350.5,608) rotate(-45)" font-size="25">Positive bias</text>
<clipPath id="cd"><rect x="627.3" y="439" width="385.5" height="291"/></clipPath><g clip-path="url(#cd)">
<polyline points="646.9,464.3 647.7,464.6 648.3,465.4 651.1,465.5 651.2,463.9 652,464 653.2,465 655,465.4 657,464.5 657.1,464.5 658,465.2 659.5,464.3 662.1,464.9 663.4,466 664.1,464.6 664.2,464.7 666.6,465.3 667,464.4 668.3,465.3 668.9,465.1 670.5,465.6 672.1,466 674,465.6 673.7,465.7 675.2,466.4 676.9,466 677.3,466.9 679.6,466.8 680.9,467.4 680.8,466.2 682.9,467.3 684.1,467.1 684.9,466.7 687.3,468.3 687.7,467.5 688.1,468 689.5,468.3 690.8,468.2 693.2,468.1 693.7,468.4 694.7,469.7 695.9,470.1 697,469.3 698.6,469.7 699.8,469.5 699.7,470 701,469.9 703.2,471 705,471.2 705.5,470.8 706.5,470.9 707.1,471.9 709.5,471.9 711,472.8 711.5,474 712.2,473.3 714.1,474.5 715.3,475.6 716.4,475 718.4,476.1 719.3,475.4 721.4,476.8 722.3,476.8 723.1,475.6 724.5,474.8 726.3,474.4 726,475.9 727.9,474.1 730,474 730.3,473.4 730.9,474.2 733.2,473.2 734.5,474 735.5,474.5 736.3,472.3 736.6,474.2 737.9,473.1 740.2,474.1 741.6,473.9 742,474.7 742.6,473.5 745.7,473.5 746.6,474.5 747.4,474.7 748.2,475.2 748.6,474.2 751.3,475.2 752.2,475.2 752.7,475.2 754.5,475.7 755,474.8 756.3,474.8 758.3,475.7 758.2,476.8 760.2,476.9 761.9,476.4 762.2,477 764.6,477.8 765.8,477.6 766.1,477.3 767.3,478.1 768.9,479 770.3,478.1 771,478 771.4,479.4 772,480.2 774.3,479.2 775.2,480.5 775.7,481.2 778.2,480.9 778.5,481.6 779.9,481 782.5,482.1 783.6,482.8 784.5,483.1 786.4,484.4 786.8,484.5 787.9,485.7 789.6,485.6 791.2,485.1 791.9,487.1 793.7,487 794.1,489.3 796.6,490.3 796.6,490.6 798.4,491.4 799.5,492.8 801.1,492.7 801.2,494.3 803.9,497.5 804.8,498.5 805.6,500.9 806.1,503.5 808.7,504.4 808.6,509 811,514.3 812.3,517.5 812.7,523.2 812.8,530.2 815,538 816.7,545.4 815.8,553.5 818,561.4 818,569.5" stroke="none" fill="none" marker-start="url(#mc)" marker-mid="url(#mc)" marker-end="url(#mc)"/>
<polyline points="646.5,469.2 646.8,469.8 649.8,469.6 650,470 651.6,471 652.5,471.9 653.8,471 654.3,472 656.1,471.5 657.5,472.3 658.6,471.9 658.9,472.1 660.2,472.9 661.2,473.2 663.4,474.4 663.6,474.5 664.4,475.7 667,475.3 666.6,476.4 667.9,475 669.5,476 671.5,475.9 671.1,476.8 672.2,477.6 674.3,478.3 676.3,477.4 677.2,478.3 678.7,477.8 678.9,479.9 679.2,478.9 680.9,479.4 683.4,479.4 684.2,479.9 685.5,480 685.1,482 686.2,481.8 687.9,482.2 689.5,482.9 691.5,483.6 691.7,484.3 693.2,484.4 695.7,485.3 696.4,485.2 697,486.5 699.2,486.8 701.2,487.2 701.2,487.3 702.2,487.4 704.9,488.7 704.8,489 706.5,490.2 708.6,490 708.3,490.4 710.5,491.5 710.6,492.9 713,492.8 713,493.6 715.3,493.7 715.5,494.5 716.6,496.7 719.2,497.7 719.7,498.2 720.4,500.1 722.6,499.8 723.1,501 724.9,502.9 725.5,504.9 727,505.7 729,507.8 731,510.9 731.7,512.7 733.3,514.9 733.8,515.1 735.3,518.4 735.7,519.4 736.6,521.2 738.7,522.3 739.9,524.3 741.3,526.8 741.8,529.6 742.7,531.7 744.5,532.8 745.4,535.9 746.3,538.5 749.1,541 749.5,543.1 750.6,545.8 752.1,547.9 753.4,550.9 753.2,552.7 755,555.8 756.8,558.9 758,562.2 759.6,564.6 759.4,568.2 760.7,570.5 761.7,572.6 763.7,576.8 765.5,580.3 765.8,583.3 767.4,586.3 768.6,589.4 769.1,595.8 769.7,603.6 771.6,609.3 773.1,615.4 773.1,620.1 774.6,622.2 776.3,625.6 778.3,628.8 779.5,632.4 780.2,635 780.4,638.3 781.6,640.6 784.4,643 785.3,645.2 785.8,647.5 787.4,649.6 788.1,651.9 789.9,653.2 790.8,657.2 790.8,659.7 793.6,661 794.2,663.3 794.7,665.4 797.2,667.5 797.4,670.7 799,674.8 800.1,676.1 802,679.2 802.9,684.3 803,686.9 805.5,692.4 805.1,696.9 807.5,700.1 807.2,705.3 808.8,712.1 809.1,720.2 809.5,727.7" stroke="none" fill="none" marker-start="url(#mc)" marker-mid="url(#mc)" marker-end="url(#mc)"/>
<polyline points="822,600 822,592 822.1,583.9 822.4,575.7 822.6,568.3 823.4,560.4 824.2,553.1 825.4,548.2 826.4,545.4 827.8,543.1 829.6,541.1 830.6,538.1 831.4,536.8 832.5,535.1 833.7,533.2 835.3,532.1 836.7,530.5 837.6,528.4 839.4,527.1 840.4,525.9 841,525.5 842.5,524.7 844.2,524.6 844.8,523.1 846,522.5 847.8,522 849.3,520.9 850.1,520.3 851.6,519.9 852.2,519.4 854.2,518.3 854.7,518.9 856,517.8 857.7,518.4 858.4,517.3 859.1,517.6 861.1,517.3 862.1,516.6 862.9,516.5 864.6,516.1 865.5,515.8 866.9,516.1 867.6,515.8 869.3,514.9 869.9,514.9 871.3,514.5 873,514.6 873.8,513.9 874.5,513.1 876.3,513 877.3,512.8 878,512.9 879.1,511.9 881.1,512 881.7,512.1 882.7,511.8 883.9,511.4 885.6,510.5 886.4,511 887.7,510.2 888.4,509.7 890.5,510.2 891.2,509.6 892,509.6 893.7,509.1 895.1,508.3 896.1,508.3 896.9,507.8 898.5,507.5 899.1,507.5 900.5,507.3 901.5,507.6 902.6,507.2 904.4,506.6 905.1,506.8 906.8,505.9 908.1,506.1 908.6,506.2 909.9,505.1 911.7,505.5 912.4,505 913.6,504.8 914.4,504.7 915.8,504 917,504 917.9,503.6 919.3,503.2 920.6,502.9 921.9,503 922.9,503.1 924.4,502.3 925.1,502.6 926.5,501.9 927.6,501.7 928.7,501.3 930,501.9 930.8,500.8 932.2,501.1 933.5,501 935.1,500.8 936.1,500.8 937.8,499.9 938.4,500.4 939.8,499.8 941.1,499.5 942.4,499.1 942.9,499.6 944.4,499.4 946.1,499.2 947,498.6 948,498.4 949.5,498.9 950,498.3 951.9,498.6 952.7,497.9 953.8,497.3 954.9,498 956.7,497.9 957.7,496.7 958.7,497.4 960,497.2 960.6,496.5 962.2,496.4 963.3,496.5 965,496.4 965.8,495.5 967.1,496.1 968.1,495.1 969.3,495.2 970.1,495.4 971.3,495.3 973.4,495.2 974.5,494.8 975.7,494.4 976.6,493.5 977.6,494.1 978.4,493.2 980.4,493 981.5,492.7 982.1,492.7 983.3,492.3 984.8,492.1 985.9,491.5 986.5,491.1 987.6,490.3 989.5,490" stroke="none" fill="none" marker-start="url(#mc)" marker-mid="url(#mc)" marker-end="url(#mc)"/><polyline points="989,491.2 986,489.7 986,489.4 983.9,491.8" stroke="none" fill="none" marker-start="url(#mcn)" marker-mid="url(#mcn)" marker-end="url(#mcn)"/>
<polyline points="805.5,725 806.4,723.2 808,721.8 809.5,719.8 810.6,717.4 812.1,715.8 813,713.7 814,712.6 814.9,707.8 816.3,703.4 817.6,698.9 818.5,693.7 819.8,689.4 821.1,685 822.5,680.2 823.3,675.7 825,671 825.3,666 827.4,662 827.9,656.7 828.7,652.2 829.9,648.6 832,642.8 832.2,635.7 833.9,627.9 834.6,619.9 835.9,611.7 836.5,603.8 837.1,596.1 837.5,587.6 838.5,579.7 839.4,571.2 839.4,563.6 840.3,555.8 841.8,549.3 842.8,544.4 844.4,542.7 845.2,539.9 846.1,538.4 847.1,536 848.4,533.6 850,533.3 850.7,531.8 851.9,531.6 853,530.9 854.9,529.5 855.9,529.4 857.1,528.6 858,527.4 859.9,526.8 861.2,526.9 862,526 863.2,525.2 865,524.6 865.7,524.9 867.2,524 868.7,523.6 870.3,523.2 871,522.2 873,522.2 873.8,521.1 874.9,521.2 875.9,520.2 877,520.2 878.9,519.9 879.4,520.2 881.3,520.2 882.5,519.9 883.6,519.7 884.4,519.4 885.2,518.5 887.3,518.5 888,518.5 889.1,517.6 890.7,517.5 891.9,517.7 892.8,517.8 893.8,517.4 894.8,517.2 896.1,517 897.4,516.8 899.1,515.9 899.7,516.4 900.9,515.3 901.9,515.4 903.3,515.3 904.7,514.6 905.3,514.5 907.4,514.2 908.4,514.5 909.1,514.4 910.8,514.1 912.1,513.6 912.4,513.7 913.5,512.7 915,512.7 916.4,512 917.2,512.2 918.4,511.5 920,511.4 921.3,511.4 921.6,510.3 923.8,510.2 924.5,509.5 926,509.6 926.8,509.5 928.2,508.4 929.5,508.9 930.5,508.6 931.9,507.7 932.9,507.4 934.1,507.3 935,507 935.7,506.3 936.9,505.9 938.2,506.2 939.3,505.3 940.9,505.4 941.7,505.4 943.2,504.6 943.7,504.3 945,504.1 946.8,503.4 947.2,503.4 949.1,502.5 950.2,503.1 951.5,502.1 951.8,502.2 953.3,502.1 954.3,501.6 956.2,501.1 957,500.5 958.2,500.9 959.4,500.5 959.9,499.7 961.1,499.7 962.9,499.6 963.6,499.3 965.4,498.7 966.6,498.5 967.3,497.8 969,497.1 969.3,497.4 970.9,496.6 971.7,496.2 973.4,496.3 974.4,496.1 975.9,495.2 977.1,495 977.6,495.4 978.6,494.6 980.3,495 981.9,494.8 982.6,494.4 983.8,493.8 985,493.4 986.2,492.8 987.2,493.2 988.6,492.5 989.8,492.2 990.8,492.6 992.2,491.8 993.3,491.8" stroke="none" fill="none" marker-start="url(#mc)" marker-mid="url(#mc)" marker-end="url(#mc)"/><polyline points="992.8,492.8 989.8,491.1 989.8,490.5 987.6,492.6" stroke="none" fill="none" marker-start="url(#mcn)" marker-mid="url(#mcn)" marker-end="url(#mcn)"/>
<polyline points="647,461.3 648.9,460.6 650.3,461.9 650.2,461.3 650.9,460.8 653.4,462.2 653.7,462.1 655.3,461.8 657.4,461.3 657.3,461.7 660.1,461.7 661,461.3 662.1,462.8 662.5,461.5 663.2,461.4 664.8,462.4 667.1,461.8 668.4,461.7 668.8,463 670.8,463.4 672.1,461.9 673.1,461.9 673.5,462.7 674.6,462.3 675.8,463.6 677.5,462.4 679,463.1 679.7,463.2 681.1,463.7 682.7,462.9 683,464.9 683.4,463.3 686,465.1 685.9,463.7 688.3,464.5 690,464 689.6,464.4 691.4,464.7 692.7,464.7 694.1,465.3 694.5,465.3 695.9,465.8 698.4,466.7 699.4,466.6 699,467.2 701.5,468.1 701.2,466.5 704,467.1 703.6,467 706.4,468.2 707.8,468.9 708.1,468.4 709.1,468.6 711.6,469.5 712,470 713.5,471.4 715,471.1 716.4,472.2 717.6,472.2 718.1,471.9 720.3,473.5 721.8,472.7 722.2,472 723.7,472.9 724.3,472.8 726.7,472.1 727.3,472.2 728.4,471.3 728.5,472.6 731.4,472.3 732.6,470.4 732.4,470.7 734.6,471.1 735.8,470.4 736.1,470.6 737.6,470.8 738.4,471.3 739.4,471.7 742.4,471.2 742.9,470.3 744,471 745.2,470.3 746.9,471.6 748.1,472 747.6,471 750,471.4 750.3,472.3 753.1,471.8 753.4,472.1 755.2,472.3 755.3,471.9 756.4,472.2 757.9,473.5 758.8,472.4 760.2,473.3 762.4,473.5 762.6,474.5 763.2,474 765.4,473.7 765.9,475.5 767.9,474.7 769.6,475.3 770,476 771.8,475.5 771.4,476 773.9,477.2 774.6,476.7 776.6,476.7 777.1,476.6 778.7,478.7 779.6,477.4 781.7,479.6 782.4,479.2 783,479.7 784.4,479.4 785.3,481 787,480.9 788.5,481 789.9,483.1 790.7,483.2 792.6,483.6 794.1,483.4 794.8,486 795.5,485.6 798.5,486.8 799.1,487.9 799.8,489.1 800.7,489.2 802.3,490.1 803.7,492.8 804.9,493 806.2,495.3 806.6,498.7 808.6,500.6 809,502.1 810.5,504.8 811,507.9 812.4,512.8 814.8,515.9 815.1,523.6 816.6,528.7 818.7,536.3 818.6,543.6 820.1,552 819.4,559.7 821.3,567.4 821.6,576.8" stroke="none" fill="none" marker-start="url(#mt)" marker-mid="url(#mt)" marker-end="url(#mt)"/>
<polyline points="647.6,465.4 648.1,465.5 649.3,465.6 651.5,465.8 652,466.2 654.4,467.1 654.2,467.3 656.4,467.6 657.5,468 657.6,469.4 658.3,469.7 660,469.7 661.4,468.8 661.8,469.1 663.1,469.7 664.5,470.1 666.6,470.9 666.7,470.4 668.8,471.8 670.5,471.3 670.2,473.3 671.5,473.6 674.1,473.1 674.7,472.7 676.1,474 676.6,473.2 678.1,474.6 678.6,475.6 681,475.7 680.5,476.5 681.4,476.3 684,476 684.6,476 685.6,476.4 687.5,477.3 688.9,478.2 689.6,478.3 690.1,478.5 692.4,479.3 694.6,479.2 695,480.3 695.6,481.5 697.1,480.9 699.3,481.4 700.9,481.9 700.9,482.2 702.9,483.5 704.6,485 704.3,484.3 707,484.7 708.7,485.4 708.9,486.4 710.9,487.1 711.1,488.4 713.5,488.2 713.5,488.6 715.6,490.7 716.4,491.6 717.3,491.7 719.4,492.4 720.2,492.7 721.3,494.7 722.9,495.9 723,496.9 725.1,497.9 726.7,499.4 727.4,499.1 728,501.7 729.8,502.5 731.8,504.2 733.2,506.5 733.9,508.1 734,509.5 735.6,511.6 736.2,514.1 737.7,515.1 739.1,516.8 741.4,519 741.9,519.7 743.2,522.9 744.6,524.6 745,526.1 746.5,528.5 748.9,530.9 748.5,532.8 749.5,536.9 752.3,537.5 752.4,540.7 754.5,543.7 754.5,546.7 756.7,547.9 756.8,550.9 759.1,555 760.1,557.5 760.7,559.5 762.1,562 763.5,564.7 765.3,568.5 765.9,569.9 766.2,574.6 767.5,577.4 770,581.4 771.1,583.3 771.7,588.5 773.5,593.1 773.3,599.1 774.5,605.9 775.7,613 778.1,616.9 777.8,620.9 780,623.7 780.7,627 781.6,628.9 784.1,632.3 784.1,634.8 785.6,636.8 787,640.1 788.4,642.6 790.1,644.7 791.2,647.1 791.5,649.4 793.5,652.6 794,653.4 794.5,656.9 797.1,658.9 796.9,662.2 799.3,663.2 799,666.6 801.1,669.7 802.5,671.1 803.6,673.8 805.5,676.6 805.4,681.7 806.5,684.9 807.7,689.7 808.4,693.1 809.8,698.5 812.1,702.6 812.9,708.3 813.8,716.3 814.6,724.7" stroke="none" fill="none" marker-start="url(#mt)" marker-mid="url(#mt)" marker-end="url(#mt)"/>
<polyline points="823.5,600 823.5,592.4 823.1,583.9 823.1,576.1 823.9,567.8 825.2,559.6 825.7,554.7 827.5,551.5 828.5,548.7 829.3,546.1 830.4,544.3 831.4,542.2 833,539.9 834.1,538.7 835.4,536.7 837.3,535.3 837.9,533.3 839.8,532.2 840.8,530.5 842.3,529.1 843,529.1 844.5,528.2 845.7,527.4 846.8,526.6 848.4,525.8 849,525.1 850.1,524.7 851.8,523.5 852.7,523.6 853.9,522.7 855.3,521.6 857,521.7 857.5,521.3 858.7,521.2 859.6,520.5 861.3,520.5 862,519.5 863.5,519.7 864.7,518.9 865.6,519.2 867.1,519.1 867.7,518.5 869.4,518 870.1,517.6 871.5,517.1 873.2,516.7 873.6,517.2 875.6,516.6 876.4,516.4 877.1,515.6 878.7,515.2 880.3,515.4 880.8,515.1 882.5,514.8 883.8,514.7 884.6,514.5 886.1,513.6 886.6,513.2 888.3,513.5 889.3,513.4 890.2,512.4 891.4,512.5 892.7,512.5 893.8,512.1 895.3,511.5 896.8,511.4 897.8,511.5 898.8,510.7 899.6,511 900.9,510.7 902,509.8 903.8,510 904.2,509.5 905.5,509.3 907.1,509.3 908.5,509.4 909.1,508.5 910.9,508.4 911.9,507.8 912.5,507.7 913.9,507.6 915.6,507.7 916.4,507.7 918,507.4 918.4,506.6 919.5,506.2 921.4,505.9 922.5,505.6 923.8,505.4 924.8,506 925.7,505.3 927.4,505.5 928.6,505 929.7,505 930.6,504.6 931.9,503.9 933.1,503.9 934.4,503.7 935.6,503.5 936.8,503.1 937.8,503 938.4,502.6 940.2,502.6 941.1,502.7 942.8,502 943.5,502.5 944.6,501.7 946.5,501.9 947.6,501.3 948.4,501.7 949.2,501.7 950.8,501.5 952.2,501.3 953.6,501.2 954.9,500.3 955.2,500.6 956.5,500.1 957.9,500.5 958.7,500.4 960.2,500.3 961.5,499.7 962.5,499.5 963.8,499.4 964.6,499.2 966.6,498.9 967.6,498.7 968.3,498.7 969.4,498.1 971.3,498.1 972.2,498.1 973.6,497.7 974.8,497.3 976,496.8 976.5,496.9 977.8,496.7 979.5,496.2 980,495.3 981.4,495.9 982.8,495.6 984.1,495.1 985.2,494 986.1,494 987.1,494.1 988.4,493.6 989.7,492.9" stroke="none" fill="none" marker-start="url(#mt)" marker-mid="url(#mt)" marker-end="url(#mt)"/><polyline points="989.4,494.5 986.6,493.5 986.8,493.6 984.7,496.4" stroke="none" fill="none" marker-start="url(#mtn)" marker-mid="url(#mtn)" marker-end="url(#mtn)"/>
<polyline points="810,725 811.5,723.6 812,720.9 814.2,719.3 814.7,717.7 816.2,716.1 817.5,714.1 818.9,712 819.8,708.6 821.2,703.7 821.8,699.3 822.8,694.5 824.1,689.6 825.8,684.9 826.3,679.9 827.9,675.4 828.7,670.5 830.5,666.2 831.4,661 832.8,657.5 834,652.5 835.1,648.2 835.6,643.1 837.3,634.9 838.1,627.3 839.1,619.3 840.5,611.9 840.9,603.3 842.1,596 842,588 842.7,580 843.7,572.1 844.1,563.3 845,556 846,549.3 847.1,543 848.3,536.5 849.2,534.8 851,534 852.3,532.7 852.9,532.6 854.9,531.8 855.6,530.8 857.2,529.8 857.9,529 859.4,528.5 861.1,528.4 861.7,527.3 863.3,527.5 865,526.4 866.3,525.6 866.9,525.8 868.3,525.2 870.3,524.3 871.1,523.4 872.1,523.8 874.2,522.4 874.9,522.6 876,521.7 877.8,522 878.3,522.1 879.6,522 881.1,521.7 882,521.1 883.5,520.8 884.5,520.6 886.1,520.7 886.8,519.9 888.3,519.8 889,519.4 890.1,519.1 891.5,519 892.3,519.2 893.7,519.1 895.3,518.8 896.5,518.6 897.4,518.1 898.8,517.2 900.3,517.7 900.6,517.4 902.3,517.4 903.4,516.3 904.5,516.5 905.8,516.2 906.4,515.9 907.8,516.2 909.1,516 910.3,515.2 911.1,515.4 912.4,515.1 914.2,514.6 915,514.7 916.6,513.8 917.8,513.1 918.9,512.8 919.9,513.1 921.4,512.1 922.4,512.4 923.4,511.5 924.9,511 925.7,510.8 927.2,510.4 928,510.2 929,510.1 929.9,509.5 931.2,509.3 932.6,508.6 933.6,508.8 934.8,508.1 936.4,507.8 937.5,507.3 938.5,507.7 939.8,507.2 940.6,507.2 942.3,506.5 943.1,506.4 944.2,506.2 945.4,505.4 946.2,505.1 947.7,504.6 948.7,504.3 950,504.2 951.5,504.2 952.5,503.9 953.1,503.5 955,503 955.3,502.3 956.6,502.6 957.9,501.9 958.8,501.7 960.5,500.9 961.3,500.6 962.3,500.8 963.9,500.6 965.1,500.4 966.1,499.7 967.5,499.4 968.5,498.7 969.9,498.7 970.4,498.6 971.6,497.9 972.9,497.6 974.2,497 975.3,497.3 976.3,496.8 978.3,496.7 979.5,496.1 980.3,496.4 981.3,495.6 982.3,495.2 984.2,495.6 985.4,495.3 986.6,494.7 987.6,494.9 988.3,494.6 989.6,494 990.5,494.2 991.8,493.9 992.9,493.4" stroke="none" fill="none" marker-start="url(#mt)" marker-mid="url(#mt)" marker-end="url(#mt)"/><polyline points="992.5,495 989.7,493.9 989.8,494 987.8,496.7" stroke="none" fill="none" marker-start="url(#mtn)" marker-mid="url(#mtn)" marker-end="url(#mtn)"/>
<polyline points="814,725.2 814.8,716.9 815.4,709.2 816.3,701.5 818.2,695.7 819.3,690.4 819.8,685.8 821.3,682.7" stroke="none" fill="none" marker-start="url(#mt)" marker-mid="url(#mt)" marker-end="url(#mt)"/>
<polyline points="646.9,463.8 647.5,464.1 648.5,464.7 649.9,463.9 652.3,464.9 653.1,464.5 654.2,464.9 654.8,464.6 656.8,464.2 657.6,463.4 659.1,464.3 660.4,464.4 662.2,464.9 662.9,464 663.6,465.5 664.7,464 666,464.1 668.1,465.2 668.1,465.9 669.7,464.8 671.8,464.5 671.7,465.2 674.1,465.2 674.7,464.9 675.3,465.4 677.4,466.5 678.8,465.2 679.3,465.4 681.1,465.8 682.7,467 683.8,466.1 685.1,467.1 684.7,467.6 685.9,467.8 687.4,466.6 689,466.4 690.6,468 690.5,468.3 692.5,468 693.8,468.7 695.8,468.7 695.5,469.1 697.1,468.8 698.1,469.4 699.1,470.1 700.6,470 701.6,469.5 703.5,469.8 704.3,469.6 705.9,470.5 706,470.9 707.2,470.4 708.5,471.1 709.8,471.2 712.1,473.2 712.8,473.5 713.4,472.5 713.7,473.5 716.7,474.1 717.4,475.2 717.4,475.9 720,474.9 719.5,476.7 722.4,474.9 722.4,474.6 723.2,475.5 724.3,475.4 725.8,475.7 728.3,475.2 728.1,474.3 729,473.9 730.4,474.3 733.2,473 734.1,473.9 735.3,473.6 735.8,472.2 736.2,472.8 737.7,472 738.6,473.3 740.7,473 742.2,473.2 743.1,474.3 744.3,474 745.8,473.6 747.6,473.5 747.5,473.5 748.8,474.7 750,473.7 751.7,474.1 753.6,473.7 753.9,474 755.9,475.1 756.3,474.5 756.9,475.3 759.4,474.7 758.8,474.8 761.6,476.2 761.4,475.8 762.5,476.9 763.9,475.8 765.1,477.9 767.4,477 768.2,478.7 768.1,477.9 770.4,477.5 771,478.3 772.4,479.4 773.6,478.8 774.9,479.2 776.6,480.2 776.8,481.1 778.4,480.9 780.8,480.9 782.2,482.1 782.2,482.2 783.8,482.2 784.6,482.6 785.8,483.7 788.7,484.4 789.1,485.2 790,484.3 791.9,486.3 794.1,487.6 794.8,488.5 795.2,488.1 796.7,490.7 798.9,491 798.8,492.3 801.1,493.1 801.5,493.1 802.6,496.4 803.6,498.3 804.7,500.3 806.5,502.1 806.8,504 809.4,507.2 809.6,510.3 811.8,514.5 813.1,519.7 813.6,525.7 814.1,531.7 815,539.7 817.7,547.5 817.3,557.1 818.1,564 818.6,571.7" stroke="none" fill="none" marker-start="url(#ms)" marker-mid="url(#ms)" marker-end="url(#ms)"/>
<polyline points="646.9,467.8 648.6,467.2 649.9,468.1 649.4,468 651.5,469.5 653.3,470.2 653.1,470.6 654.2,470.9 656.1,470.8 657.9,470.4 657.6,472.1 659,471.2 660,471.8 661.6,472.3 664,472.7 664.1,473.6 665.8,472.8 667.3,474.3 667.3,474.1 669.2,474.2 670.4,475 671.1,475.7 671.7,475.9 674.1,476.1 675.5,476.8 675.7,475.6 676.2,475.9 677.5,477.7 680.1,478.2 681.3,477.9 682.2,478.5 683.7,477.7 684.5,478.6 684.5,479.9 686.2,480.1 687.2,479.8 689.3,480.9 690.2,481.2 691.9,482.1 693.1,482.7 693.1,483.6 694.9,483.9 696.3,484.3 697.5,484 698.7,484.4 700.2,485.2 701.5,485.7 703.9,485.7 703.6,487.8 704.8,487 706.1,488.6 708.1,489.7 708.9,489.6 710.1,490.4 712.2,490.2 712.2,491.7 714.1,491.8 715.6,493.6 717.2,493.6 717.7,495.7 718.3,495 720.3,497.8 722.2,497.9 722.7,498.4 723.5,499.3 726.1,501.2 725.8,501.5 728.6,504.5 728.2,505.3 730.2,507.7 730.4,509 732.3,510.7 734,512.3 735.7,514.1 736,516.6 737,518 737.7,519.4 739.5,520.7 741.3,524 741.4,524.7 743,527.5 744.9,530.8 744.9,532.3 746.7,534.5 748.8,536.5 748.7,538.8 750.5,542.4 750.9,543.2 752.9,547.1 754.9,549.4 754.9,551.6 757.1,554.1 758,556.9 758.6,560.7 759.5,564 761,566.5 762.2,568.5 764.1,570.8 763.5,574.3 766.3,578.6 767.4,581.2 768.3,585.3 769.9,589.1 771.3,594 772.1,599.5 773.3,606.3 773.7,612.3 774.9,618.3 775.4,622.1 778.2,624.8 777.6,626.5 780.7,629.9 780.2,633.9 781.2,636.5 783.7,638.3 784.6,640.4 785.9,643 787.6,644.7 788.7,647.9 789.2,649.3 790.1,652.5 791.4,655.8 792.6,656.9 793.6,659.9 795.6,661.7 795.8,663.9 798,665.9 798,670.2 799,672.5 801.4,675.1 802.1,677.8 804.2,681.8 804,686.4 805.8,690.1 807.7,693.2 807.1,699.5 808,702.6 810.3,707.9 810.8,715.6 812.5,724.5" stroke="none" fill="none" marker-start="url(#ms)" marker-mid="url(#ms)" marker-end="url(#ms)"/>
<polyline points="824,600 823.9,592.1 824,584.4 824.3,576 825.8,568.4 826.6,560.2 827.7,557.3 828.6,554.2 830.1,551 831.1,548.6 832.4,547.2 833.6,545.3 835.1,543.7 836.1,541.7 837,541 838.2,538.9 839.4,537.5 841.1,536.7 841.7,535.6 843.1,533.7 844.8,532.9 845.5,532.6 847.3,531.9 848.3,531.1 849.2,530.6 850.9,530.5 852.3,529.2 853.2,528.5 854.7,528.1 856.2,528 857.4,526.8 858.6,526.9 858.9,526.7 860.1,526.3 861.4,525.2 862.8,524.6 864.1,524.9 864.6,524.5 866.2,523.9 867.4,523.7 869,523.2 869.4,522.9 870.7,522.2 871.8,522 872.8,521.8 874.1,521.3 875.2,520.6 876.7,520.4 877.7,519.9 879.1,519.9 879.7,519.6 880.9,518.9 882.1,518.7 883.4,518.3 885.2,518.8 886.1,518.4 887,517.5 887.8,517.5 889.9,517.3 890.8,517.3 891.4,517.2 893.3,516.2 893.7,516.5 895.7,515.5 896.3,515.2 897.3,515.6 898.4,515.4 899.7,515.4 901.6,515 902.1,514.4 903.1,514.1 904.4,514.2 906.4,513.4 907.4,513.7 908.6,513.5 909.4,512.7 910.2,512.7 911.5,512 912.6,512.4 914.2,511.9 915.5,511.7 916.6,512 917.8,511.5 919.1,511 920.6,510.7 921.1,510.4 922.3,510.7 923.5,509.9 925,509.8 926.5,509.3 927.3,509.1 928.8,509.4 929.6,508.8 930.5,508.8 932.4,508.2 932.7,507.8 934.7,508.1 935.2,507.6 936.3,507.8 937.6,507 938.8,507.7 940.6,506.9 941.6,507.4 942.2,506.7 943.9,506.2 944.8,506.2 946.1,506.5 947.4,505.9 948.6,505.7 950.1,505.9 950.7,505.9 952,505.4 953.8,505 955,505.1 955.5,504.8 956.8,504.3 957.8,504.1 958.9,504.2 960.9,504.1 961.6,504.1 962.6,503.2 964,503.8 965.7,503.8 966.6,503.5 967.4,502.7 968.7,503.3 970.4,502.7 970.9,502.7 972.6,502.4 973.4,501.8 974.5,502.2 975.6,501.9 976.7,501.7 978.3,501.3 979,501 980.9,500.5 981.6,499.7 983.3,499.5 984.5,499.4 985.4,499 986.2,498.6 987.3,498.4 989.3,498 990,498.5" stroke="none" fill="none" marker-start="url(#ms)" marker-mid="url(#ms)" marker-end="url(#ms)"/><polyline points="989.7,498.7 986.9,496.3 987.1,495.1 985.1,496.5" stroke="none" fill="none" marker-start="url(#msn)" marker-mid="url(#msn)" marker-end="url(#msn)"/>
<polyline points="808,725 809.5,722.7 810.8,721.2 811.2,719.1 813,717.8 814.5,716.2 815,714.4 816.3,712.6 817.8,708.3 819.2,703.3 819.7,699.3 821,694 822,689.5 823.4,684.9 825.2,680.2 825.9,675.8 827.3,670.6 828.6,666.5 829.2,661.5 830.7,656.9 831.9,652.7 832.8,648.4 833.7,643.2 835.4,635.4 836.7,627.8 837.2,619.1 837.7,611.1 838.5,603.9 840.1,596 840.9,587.7 841.5,579.8 842.1,571.2 842.3,563.4 842.7,556 844.1,549.4 845.2,544.2 846.7,542.1 847.7,539.6 849.2,537.5 850.4,536.8 850.9,536.3 852.4,535.4 853.7,534.6 854.8,533.5 856,532.7 857.3,532.1 858.5,531.3 860.4,530.6 860.9,530.8 862.2,529.6 863.5,529.6 865.2,529.2 866.3,528.3 867.6,527.8 869.4,526.8 870,526.7 871.7,525.8 873.2,525.9 874.7,524.9 875.5,525.2 876.3,524.2 877.9,524.8 879.4,524.1 880.2,523.6 881.2,523.4 883,523.6 883.4,522.9 885.5,523.2 885.9,522.5 887.5,522.5 888.2,521.9 889.8,521.6 891.2,521.3 892.6,521.2 893.3,521.4 894.4,521.1 895.3,520.8 896.8,520.4 898.3,520.7 898.9,519.7 900.3,519.7 901.8,520 902.4,519.3 903.8,519 905.5,518.6 906.1,518.3 907.5,518.8 908.4,517.8 909.9,518.2 911.5,517.7 912.1,517.2 913.8,516.8 914.8,516.6 915.7,516.7 916.8,516.6 918.1,516.2 919.3,515.4 920.8,514.8 921.1,514.7 923,514.9 924.2,514.1 925.2,514.1 926.6,513.9 927.8,513.3 928.8,512.4 930,512.2 930.8,511.6 932,511.7 932.8,511.8 934.7,511.3 935,510.3 937.1,510.1 937.4,510.4 938.5,509.8 940.3,509.2 941.3,508.8 942.6,508.6 944,508 945.1,508.1 945.9,507.3 947,507.4 948.2,507.6 949.4,506.6 950.4,506.7 952,506.1 952.7,505.7 954.4,505.1 954.9,505.5 956,505 957.7,504.6 958.7,504.2 960.3,504 960.8,504 962.3,503.5 963.8,502.5 964.1,503.1 965.2,502.1 966.9,501.6 967.8,501.2 969.5,501.3 970.1,501.4 971.5,501.1 972.2,500.5 973.9,500.1 974.7,499.9 976.3,499.3 977.6,499.6 978.4,499.4 979.8,498.6 981.3,498.2 982.1,497.9 983.1,498 984,497.9 985,497.3 986.6,497.4 987.8,497.4 988.7,496.7 989.7,496.6 991,496.5 992.6,496 993.3,495.9" stroke="none" fill="none" marker-start="url(#ms)" marker-mid="url(#ms)" marker-end="url(#ms)"/><polyline points="992.8,497 989.8,495.4 989.8,495 987.6,497.2" stroke="none" fill="none" marker-start="url(#msn)" marker-mid="url(#msn)" marker-end="url(#msn)"/>
<polyline points="812,725 812.5,716.8 813.9,709 814.6,701.1 815.9,695.4 817.2,689.5 818.1,685.8 819.6,682.4" stroke="none" fill="none" marker-start="url(#ms)" marker-mid="url(#ms)" marker-end="url(#ms)"/>
<polyline points="805.0,714.0 805.0,730.0" fill="none" stroke="#333" stroke-width="1" stroke-linejoin="round"/>
<polyline points="807.0,714.0 807.0,730.0" fill="none" stroke="#333" stroke-width="1" stroke-linejoin="round"/>
<polyline points="809.0,714.0 809.0,730.0" fill="none" stroke="#333" stroke-width="1" stroke-linejoin="round"/>
<polyline points="811.0,714.0 811.0,730.0" fill="none" stroke="#333" stroke-width="1" stroke-linejoin="round"/>
<polyline points="813.0,714.0 813.0,730.0" fill="none" stroke="#333" stroke-width="1" stroke-linejoin="round"/>
<polyline points="815.0,714.0 815.0,730.0" fill="none" stroke="#333" stroke-width="1" stroke-linejoin="round"/>
<polyline points="817.0,714.0 817.0,730.0" fill="none" stroke="#333" stroke-width="1" stroke-linejoin="round"/>
<polyline points="990,484 985,487" stroke="none" fill="none" marker-start="url(#mc)" marker-mid="url(#mc)" marker-end="url(#mc)"/>
<polyline points="990,487" stroke="none" fill="none" marker-start="url(#mt)" marker-mid="url(#mt)" marker-end="url(#mt)"/>
</g>
<polyline points="820.3,438.4 820.3,730.4" fill="none" stroke="#000" stroke-width="1.8" stroke-linejoin="round"/>
<line x1="812.9" y1="486.7" x2="787.7" y2="468.5" stroke="#111" stroke-width="1.1"/>
<path d="M781.1,463.8 L795.0,467.6 L787.7,468.5 L789.1,475.7 Z" fill="#111"/>
<line x1="701.6" y1="526.5" x2="734.4" y2="587.0" stroke="#111" stroke-width="1.1"/>
<path d="M738.3,594.1 L727.5,584.6 L734.4,587.0 L736.3,579.9 Z" fill="#111"/>
<line x1="951.2" y1="479.7" x2="877.6" y2="494.1" stroke="#111" stroke-width="1.1"/>
<path d="M869.7,495.7 L882.0,488.2 L877.6,494.1 L883.9,498.0 Z" fill="#111"/>
<line x1="859.1" y1="607.5" x2="924.8" y2="537.3" stroke="#111" stroke-width="1.1"/>
<path d="M930.3,531.4 L924.7,544.7 L924.8,537.3 L917.4,537.8 Z" fill="#111"/>
<rect x="21.20" y="16.20" width="444.30" height="336.90" fill="none" stroke="#484848" stroke-width="1.3"/>
<line x1="243.20" y1="16.20" x2="243.20" y2="353.10" stroke="#2a2a2a" stroke-width="1.3"/>
<line x1="227.38" y1="353.10" x2="227.38" y2="357.60" stroke="#484848" stroke-width="1.25"/>
<line x1="260.06" y1="353.10" x2="260.06" y2="357.60" stroke="#484848" stroke-width="1.25"/>
<line x1="216.20" y1="353.10" x2="216.20" y2="357.60" stroke="#484848" stroke-width="1.25"/>
<line x1="271.20" y1="353.10" x2="271.20" y2="357.60" stroke="#484848" stroke-width="1.25"/>
<line x1="208.27" y1="353.10" x2="208.27" y2="357.60" stroke="#484848" stroke-width="1.25"/>
<line x1="279.11" y1="353.10" x2="279.11" y2="357.60" stroke="#484848" stroke-width="1.25"/>
<line x1="202.12" y1="353.10" x2="202.12" y2="357.60" stroke="#484848" stroke-width="1.25"/>
<line x1="285.24" y1="353.10" x2="285.24" y2="357.60" stroke="#484848" stroke-width="1.25"/>
<line x1="197.09" y1="353.10" x2="197.09" y2="357.60" stroke="#484848" stroke-width="1.25"/>
<line x1="290.26" y1="353.10" x2="290.26" y2="357.60" stroke="#484848" stroke-width="1.25"/>
<line x1="192.84" y1="353.10" x2="192.84" y2="357.60" stroke="#484848" stroke-width="1.25"/>
<line x1="294.49" y1="353.10" x2="294.49" y2="357.60" stroke="#484848" stroke-width="1.25"/>
<line x1="189.15" y1="353.10" x2="189.15" y2="357.60" stroke="#484848" stroke-width="1.25"/>
<line x1="298.17" y1="353.10" x2="298.17" y2="357.60" stroke="#484848" stroke-width="1.25"/>
<line x1="185.91" y1="353.10" x2="185.91" y2="357.60" stroke="#484848" stroke-width="1.25"/>
<line x1="301.40" y1="353.10" x2="301.40" y2="357.60" stroke="#484848" stroke-width="1.25"/>
<line x1="183.00" y1="353.10" x2="183.00" y2="360.10" stroke="#484848" stroke-width="1.25"/>
<line x1="304.30" y1="353.10" x2="304.30" y2="360.10" stroke="#484848" stroke-width="1.25"/>
<line x1="163.88" y1="353.10" x2="163.88" y2="357.60" stroke="#484848" stroke-width="1.25"/>
<line x1="323.36" y1="353.10" x2="323.36" y2="357.60" stroke="#484848" stroke-width="1.25"/>
<line x1="152.70" y1="353.10" x2="152.70" y2="357.60" stroke="#484848" stroke-width="1.25"/>
<line x1="334.50" y1="353.10" x2="334.50" y2="357.60" stroke="#484848" stroke-width="1.25"/>
<line x1="144.77" y1="353.10" x2="144.77" y2="357.60" stroke="#484848" stroke-width="1.25"/>
<line x1="342.41" y1="353.10" x2="342.41" y2="357.60" stroke="#484848" stroke-width="1.25"/>
<line x1="138.62" y1="353.10" x2="138.62" y2="357.60" stroke="#484848" stroke-width="1.25"/>
<line x1="348.54" y1="353.10" x2="348.54" y2="357.60" stroke="#484848" stroke-width="1.25"/>
<line x1="133.59" y1="353.10" x2="133.59" y2="357.60" stroke="#484848" stroke-width="1.25"/>
<line x1="353.56" y1="353.10" x2="353.56" y2="357.60" stroke="#484848" stroke-width="1.25"/>
<line x1="129.34" y1="353.10" x2="129.34" y2="357.60" stroke="#484848" stroke-width="1.25"/>
<line x1="357.79" y1="353.10" x2="357.79" y2="357.60" stroke="#484848" stroke-width="1.25"/>
<line x1="125.65" y1="353.10" x2="125.65" y2="357.60" stroke="#484848" stroke-width="1.25"/>
<line x1="361.47" y1="353.10" x2="361.47" y2="357.60" stroke="#484848" stroke-width="1.25"/>
<line x1="122.41" y1="353.10" x2="122.41" y2="357.60" stroke="#484848" stroke-width="1.25"/>
<line x1="364.70" y1="353.10" x2="364.70" y2="357.60" stroke="#484848" stroke-width="1.25"/>
<line x1="119.50" y1="353.10" x2="119.50" y2="360.10" stroke="#484848" stroke-width="1.25"/>
<line x1="367.60" y1="353.10" x2="367.60" y2="360.10" stroke="#484848" stroke-width="1.25"/>
<line x1="100.38" y1="353.10" x2="100.38" y2="357.60" stroke="#484848" stroke-width="1.25"/>
<line x1="386.66" y1="353.10" x2="386.66" y2="357.60" stroke="#484848" stroke-width="1.25"/>
<line x1="89.20" y1="353.10" x2="89.20" y2="357.60" stroke="#484848" stroke-width="1.25"/>
<line x1="397.80" y1="353.10" x2="397.80" y2="357.60" stroke="#484848" stroke-width="1.25"/>
<line x1="81.27" y1="353.10" x2="81.27" y2="357.60" stroke="#484848" stroke-width="1.25"/>
<line x1="405.71" y1="353.10" x2="405.71" y2="357.60" stroke="#484848" stroke-width="1.25"/>
<line x1="75.12" y1="353.10" x2="75.12" y2="357.60" stroke="#484848" stroke-width="1.25"/>
<line x1="411.84" y1="353.10" x2="411.84" y2="357.60" stroke="#484848" stroke-width="1.25"/>
<line x1="70.09" y1="353.10" x2="70.09" y2="357.60" stroke="#484848" stroke-width="1.25"/>
<line x1="416.86" y1="353.10" x2="416.86" y2="357.60" stroke="#484848" stroke-width="1.25"/>
<line x1="65.84" y1="353.10" x2="65.84" y2="357.60" stroke="#484848" stroke-width="1.25"/>
<line x1="421.09" y1="353.10" x2="421.09" y2="357.60" stroke="#484848" stroke-width="1.25"/>
<line x1="62.15" y1="353.10" x2="62.15" y2="357.60" stroke="#484848" stroke-width="1.25"/>
<line x1="424.77" y1="353.10" x2="424.77" y2="357.60" stroke="#484848" stroke-width="1.25"/>
<line x1="58.91" y1="353.10" x2="58.91" y2="357.60" stroke="#484848" stroke-width="1.25"/>
<line x1="428.00" y1="353.10" x2="428.00" y2="357.60" stroke="#484848" stroke-width="1.25"/>
<line x1="56.00" y1="353.10" x2="56.00" y2="360.10" stroke="#484848" stroke-width="1.25"/>
<line x1="430.90" y1="353.10" x2="430.90" y2="360.10" stroke="#484848" stroke-width="1.25"/>
<line x1="36.88" y1="353.10" x2="36.88" y2="357.60" stroke="#484848" stroke-width="1.25"/>
<line x1="449.96" y1="353.10" x2="449.96" y2="357.60" stroke="#484848" stroke-width="1.25"/>
<line x1="25.70" y1="353.10" x2="25.70" y2="357.60" stroke="#484848" stroke-width="1.25"/>
<line x1="461.10" y1="353.10" x2="461.10" y2="357.60" stroke="#484848" stroke-width="1.25"/>
<line x1="239.90" y1="352.47" x2="246.50" y2="352.47" stroke="#484848" stroke-width="1.25"/>
<line x1="239.90" y1="347.01" x2="246.50" y2="347.01" stroke="#484848" stroke-width="1.25"/>
<line x1="239.90" y1="342.55" x2="246.50" y2="342.55" stroke="#484848" stroke-width="1.25"/>
<line x1="239.90" y1="338.78" x2="246.50" y2="338.78" stroke="#484848" stroke-width="1.25"/>
<line x1="239.90" y1="335.51" x2="246.50" y2="335.51" stroke="#484848" stroke-width="1.25"/>
<line x1="239.90" y1="332.63" x2="246.50" y2="332.63" stroke="#484848" stroke-width="1.25"/>
<line x1="237.20" y1="330.05" x2="249.20" y2="330.05" stroke="#484848" stroke-width="1.25"/>
<line x1="239.90" y1="313.09" x2="246.50" y2="313.09" stroke="#484848" stroke-width="1.25"/>
<line x1="239.90" y1="303.16" x2="246.50" y2="303.16" stroke="#484848" stroke-width="1.25"/>
<line x1="239.90" y1="296.12" x2="246.50" y2="296.12" stroke="#484848" stroke-width="1.25"/>
<line x1="239.90" y1="290.66" x2="246.50" y2="290.66" stroke="#484848" stroke-width="1.25"/>
<line x1="239.90" y1="286.20" x2="246.50" y2="286.20" stroke="#484848" stroke-width="1.25"/>
<line x1="239.90" y1="282.43" x2="246.50" y2="282.43" stroke="#484848" stroke-width="1.25"/>
<line x1="239.90" y1="279.16" x2="246.50" y2="279.16" stroke="#484848" stroke-width="1.25"/>
<line x1="239.90" y1="276.28" x2="246.50" y2="276.28" stroke="#484848" stroke-width="1.25"/>
<line x1="237.20" y1="273.70" x2="249.20" y2="273.70" stroke="#484848" stroke-width="1.25"/>
<line x1="239.90" y1="256.74" x2="246.50" y2="256.74" stroke="#484848" stroke-width="1.25"/>
<line x1="239.90" y1="246.81" x2="246.50" y2="246.81" stroke="#484848" stroke-width="1.25"/>
<line x1="239.90" y1="239.77" x2="246.50" y2="239.77" stroke="#484848" stroke-width="1.25"/>
<line x1="239.90" y1="234.31" x2="246.50" y2="234.31" stroke="#484848" stroke-width="1.25"/>
<line x1="239.90" y1="229.85" x2="246.50" y2="229.85" stroke="#484848" stroke-width="1.25"/>
<line x1="239.90" y1="226.08" x2="246.50" y2="226.08" stroke="#484848" stroke-width="1.25"/>
<line x1="239.90" y1="222.81" x2="246.50" y2="222.81" stroke="#484848" stroke-width="1.25"/>
<line x1="239.90" y1="219.93" x2="246.50" y2="219.93" stroke="#484848" stroke-width="1.25"/>
<line x1="237.20" y1="217.35" x2="249.20" y2="217.35" stroke="#484848" stroke-width="1.25"/>
<line x1="239.90" y1="200.39" x2="246.50" y2="200.39" stroke="#484848" stroke-width="1.25"/>
<line x1="239.90" y1="190.46" x2="246.50" y2="190.46" stroke="#484848" stroke-width="1.25"/>
<line x1="239.90" y1="183.42" x2="246.50" y2="183.42" stroke="#484848" stroke-width="1.25"/>
<line x1="239.90" y1="177.96" x2="246.50" y2="177.96" stroke="#484848" stroke-width="1.25"/>
<line x1="239.90" y1="173.50" x2="246.50" y2="173.50" stroke="#484848" stroke-width="1.25"/>
<line x1="239.90" y1="169.73" x2="246.50" y2="169.73" stroke="#484848" stroke-width="1.25"/>
<line x1="239.90" y1="166.46" x2="246.50" y2="166.46" stroke="#484848" stroke-width="1.25"/>
<line x1="239.90" y1="163.58" x2="246.50" y2="163.58" stroke="#484848" stroke-width="1.25"/>
<line x1="237.20" y1="161.00" x2="249.20" y2="161.00" stroke="#484848" stroke-width="1.25"/>
<line x1="239.90" y1="144.04" x2="246.50" y2="144.04" stroke="#484848" stroke-width="1.25"/>
<line x1="239.90" y1="134.11" x2="246.50" y2="134.11" stroke="#484848" stroke-width="1.25"/>
<line x1="239.90" y1="127.07" x2="246.50" y2="127.07" stroke="#484848" stroke-width="1.25"/>
<line x1="239.90" y1="121.61" x2="246.50" y2="121.61" stroke="#484848" stroke-width="1.25"/>
<line x1="239.90" y1="117.15" x2="246.50" y2="117.15" stroke="#484848" stroke-width="1.25"/>
<line x1="239.90" y1="113.38" x2="246.50" y2="113.38" stroke="#484848" stroke-width="1.25"/>
<line x1="239.90" y1="110.11" x2="246.50" y2="110.11" stroke="#484848" stroke-width="1.25"/>
<line x1="239.90" y1="107.23" x2="246.50" y2="107.23" stroke="#484848" stroke-width="1.25"/>
<line x1="237.20" y1="104.65" x2="249.20" y2="104.65" stroke="#484848" stroke-width="1.25"/>
<line x1="239.90" y1="87.69" x2="246.50" y2="87.69" stroke="#484848" stroke-width="1.25"/>
<line x1="239.90" y1="77.76" x2="246.50" y2="77.76" stroke="#484848" stroke-width="1.25"/>
<line x1="239.90" y1="70.72" x2="246.50" y2="70.72" stroke="#484848" stroke-width="1.25"/>
<line x1="239.90" y1="65.26" x2="246.50" y2="65.26" stroke="#484848" stroke-width="1.25"/>
<line x1="239.90" y1="60.80" x2="246.50" y2="60.80" stroke="#484848" stroke-width="1.25"/>
<line x1="239.90" y1="57.03" x2="246.50" y2="57.03" stroke="#484848" stroke-width="1.25"/>
<line x1="239.90" y1="53.76" x2="246.50" y2="53.76" stroke="#484848" stroke-width="1.25"/>
<line x1="239.90" y1="50.88" x2="246.50" y2="50.88" stroke="#484848" stroke-width="1.25"/>
<line x1="237.20" y1="48.30" x2="249.20" y2="48.30" stroke="#484848" stroke-width="1.25"/>
<line x1="239.90" y1="31.34" x2="246.50" y2="31.34" stroke="#484848" stroke-width="1.25"/>
<line x1="239.90" y1="21.41" x2="246.50" y2="21.41" stroke="#484848" stroke-width="1.25"/>
<text x="56.00" y="382.80" font-size="24" text-anchor="middle" >10</text>
<text x="119.50" y="382.80" font-size="24" text-anchor="middle" >1</text>
<text x="183.00" y="382.80" font-size="24" text-anchor="middle" >0.1</text>
<text x="304.30" y="382.80" font-size="24" text-anchor="middle" >0.1</text>
<text x="367.60" y="382.80" font-size="24" text-anchor="middle" >1</text>
<text x="430.90" y="382.80" font-size="24" text-anchor="middle" >10</text>
<text x="293.80" y="55.60" font-size="24" text-anchor="end">10<tspan font-size="15.5" dy="-13.5">-6</tspan></text>
<text x="293.80" y="111.95" font-size="24" text-anchor="end">10<tspan font-size="15.5" dy="-13.5">-7</tspan></text>
<text x="293.80" y="168.30" font-size="24" text-anchor="end">10<tspan font-size="15.5" dy="-13.5">-8</tspan></text>
<text x="293.80" y="224.65" font-size="24" text-anchor="end">10<tspan font-size="15.5" dy="-13.5">-9</tspan></text>
<text x="293.80" y="281.00" font-size="24" text-anchor="end">10<tspan font-size="15.5" dy="-13.5">-10</tspan></text>
<text x="293.80" y="337.35" font-size="24" text-anchor="end">10<tspan font-size="15.5" dy="-13.5">-11</tspan></text>
<text x="253.20" y="414.80" font-size="25" text-anchor="middle" >|V| (V)</text>
<text transform="translate(230.6,182.5) rotate(-90)" font-size="25" text-anchor="middle">Current (A)</text>
<text x="48.60" y="37.00" font-size="24" text-anchor="start" >(a)</text>
<text x="26.60" y="342.30" font-size="24.8" text-anchor="start" >Negative bias</text>
<text x="460.00" y="342.30" font-size="24.8" text-anchor="end" >Positive bias</text>
<rect x="564.60" y="14.30" width="451.20" height="340.70" fill="none" stroke="#484848" stroke-width="1.3"/>
<line x1="789.70" y1="14.30" x2="789.70" y2="355.00" stroke="#7a7a7a" stroke-width="3"/>
<line x1="772.48" y1="355.00" x2="772.48" y2="359.50" stroke="#484848" stroke-width="1.25"/>
<line x1="807.06" y1="355.00" x2="807.06" y2="359.50" stroke="#484848" stroke-width="1.25"/>
<line x1="761.21" y1="355.00" x2="761.21" y2="359.50" stroke="#484848" stroke-width="1.25"/>
<line x1="818.38" y1="355.00" x2="818.38" y2="359.50" stroke="#484848" stroke-width="1.25"/>
<line x1="753.22" y1="355.00" x2="753.22" y2="359.50" stroke="#484848" stroke-width="1.25"/>
<line x1="826.41" y1="355.00" x2="826.41" y2="359.50" stroke="#484848" stroke-width="1.25"/>
<line x1="747.02" y1="355.00" x2="747.02" y2="359.50" stroke="#484848" stroke-width="1.25"/>
<line x1="832.64" y1="355.00" x2="832.64" y2="359.50" stroke="#484848" stroke-width="1.25"/>
<line x1="741.95" y1="355.00" x2="741.95" y2="359.50" stroke="#484848" stroke-width="1.25"/>
<line x1="837.74" y1="355.00" x2="837.74" y2="359.50" stroke="#484848" stroke-width="1.25"/>
<line x1="737.66" y1="355.00" x2="737.66" y2="359.50" stroke="#484848" stroke-width="1.25"/>
<line x1="842.04" y1="355.00" x2="842.04" y2="359.50" stroke="#484848" stroke-width="1.25"/>
<line x1="733.95" y1="355.00" x2="733.95" y2="359.50" stroke="#484848" stroke-width="1.25"/>
<line x1="845.77" y1="355.00" x2="845.77" y2="359.50" stroke="#484848" stroke-width="1.25"/>
<line x1="730.68" y1="355.00" x2="730.68" y2="359.50" stroke="#484848" stroke-width="1.25"/>
<line x1="849.06" y1="355.00" x2="849.06" y2="359.50" stroke="#484848" stroke-width="1.25"/>
<line x1="727.75" y1="355.00" x2="727.75" y2="362.00" stroke="#484848" stroke-width="1.25"/>
<line x1="852.00" y1="355.00" x2="852.00" y2="362.00" stroke="#484848" stroke-width="1.25"/>
<line x1="708.48" y1="355.00" x2="708.48" y2="359.50" stroke="#484848" stroke-width="1.25"/>
<line x1="871.36" y1="355.00" x2="871.36" y2="359.50" stroke="#484848" stroke-width="1.25"/>
<line x1="697.21" y1="355.00" x2="697.21" y2="359.50" stroke="#484848" stroke-width="1.25"/>
<line x1="882.68" y1="355.00" x2="882.68" y2="359.50" stroke="#484848" stroke-width="1.25"/>
<line x1="689.22" y1="355.00" x2="689.22" y2="359.50" stroke="#484848" stroke-width="1.25"/>
<line x1="890.71" y1="355.00" x2="890.71" y2="359.50" stroke="#484848" stroke-width="1.25"/>
<line x1="683.02" y1="355.00" x2="683.02" y2="359.50" stroke="#484848" stroke-width="1.25"/>
<line x1="896.94" y1="355.00" x2="896.94" y2="359.50" stroke="#484848" stroke-width="1.25"/>
<line x1="677.95" y1="355.00" x2="677.95" y2="359.50" stroke="#484848" stroke-width="1.25"/>
<line x1="902.04" y1="355.00" x2="902.04" y2="359.50" stroke="#484848" stroke-width="1.25"/>
<line x1="673.66" y1="355.00" x2="673.66" y2="359.50" stroke="#484848" stroke-width="1.25"/>
<line x1="906.34" y1="355.00" x2="906.34" y2="359.50" stroke="#484848" stroke-width="1.25"/>
<line x1="669.95" y1="355.00" x2="669.95" y2="359.50" stroke="#484848" stroke-width="1.25"/>
<line x1="910.07" y1="355.00" x2="910.07" y2="359.50" stroke="#484848" stroke-width="1.25"/>
<line x1="666.68" y1="355.00" x2="666.68" y2="359.50" stroke="#484848" stroke-width="1.25"/>
<line x1="913.36" y1="355.00" x2="913.36" y2="359.50" stroke="#484848" stroke-width="1.25"/>
<line x1="663.75" y1="355.00" x2="663.75" y2="362.00" stroke="#484848" stroke-width="1.25"/>
<line x1="916.30" y1="355.00" x2="916.30" y2="362.00" stroke="#484848" stroke-width="1.25"/>
<line x1="644.48" y1="355.00" x2="644.48" y2="359.50" stroke="#484848" stroke-width="1.25"/>
<line x1="935.66" y1="355.00" x2="935.66" y2="359.50" stroke="#484848" stroke-width="1.25"/>
<line x1="633.21" y1="355.00" x2="633.21" y2="359.50" stroke="#484848" stroke-width="1.25"/>
<line x1="946.98" y1="355.00" x2="946.98" y2="359.50" stroke="#484848" stroke-width="1.25"/>
<line x1="625.22" y1="355.00" x2="625.22" y2="359.50" stroke="#484848" stroke-width="1.25"/>
<line x1="955.01" y1="355.00" x2="955.01" y2="359.50" stroke="#484848" stroke-width="1.25"/>
<line x1="619.02" y1="355.00" x2="619.02" y2="359.50" stroke="#484848" stroke-width="1.25"/>
<line x1="961.24" y1="355.00" x2="961.24" y2="359.50" stroke="#484848" stroke-width="1.25"/>
<line x1="613.95" y1="355.00" x2="613.95" y2="359.50" stroke="#484848" stroke-width="1.25"/>
<line x1="966.34" y1="355.00" x2="966.34" y2="359.50" stroke="#484848" stroke-width="1.25"/>
<line x1="609.66" y1="355.00" x2="609.66" y2="359.50" stroke="#484848" stroke-width="1.25"/>
<line x1="970.64" y1="355.00" x2="970.64" y2="359.50" stroke="#484848" stroke-width="1.25"/>
<line x1="605.95" y1="355.00" x2="605.95" y2="359.50" stroke="#484848" stroke-width="1.25"/>
<line x1="974.37" y1="355.00" x2="974.37" y2="359.50" stroke="#484848" stroke-width="1.25"/>
<line x1="602.68" y1="355.00" x2="602.68" y2="359.50" stroke="#484848" stroke-width="1.25"/>
<line x1="977.66" y1="355.00" x2="977.66" y2="359.50" stroke="#484848" stroke-width="1.25"/>
<line x1="599.75" y1="355.00" x2="599.75" y2="362.00" stroke="#484848" stroke-width="1.25"/>
<line x1="980.60" y1="355.00" x2="980.60" y2="362.00" stroke="#484848" stroke-width="1.25"/>
<line x1="580.48" y1="355.00" x2="580.48" y2="359.50" stroke="#484848" stroke-width="1.25"/>
<line x1="999.96" y1="355.00" x2="999.96" y2="359.50" stroke="#484848" stroke-width="1.25"/>
<line x1="569.21" y1="355.00" x2="569.21" y2="359.50" stroke="#484848" stroke-width="1.25"/>
<line x1="1011.28" y1="355.00" x2="1011.28" y2="359.50" stroke="#484848" stroke-width="1.25"/>
<line x1="786.70" y1="353.38" x2="793.30" y2="353.38" stroke="#484848" stroke-width="1.25"/>
<line x1="786.70" y1="347.87" x2="793.30" y2="347.87" stroke="#484848" stroke-width="1.25"/>
<line x1="786.70" y1="343.37" x2="793.30" y2="343.37" stroke="#484848" stroke-width="1.25"/>
<line x1="786.70" y1="339.56" x2="793.30" y2="339.56" stroke="#484848" stroke-width="1.25"/>
<line x1="786.70" y1="336.26" x2="793.30" y2="336.26" stroke="#484848" stroke-width="1.25"/>
<line x1="786.70" y1="333.35" x2="793.30" y2="333.35" stroke="#484848" stroke-width="1.25"/>
<line x1="784.00" y1="330.75" x2="796.00" y2="330.75" stroke="#484848" stroke-width="1.25"/>
<line x1="786.70" y1="313.63" x2="793.30" y2="313.63" stroke="#484848" stroke-width="1.25"/>
<line x1="786.70" y1="303.62" x2="793.30" y2="303.62" stroke="#484848" stroke-width="1.25"/>
<line x1="786.70" y1="296.51" x2="793.30" y2="296.51" stroke="#484848" stroke-width="1.25"/>
<line x1="786.70" y1="291.00" x2="793.30" y2="291.00" stroke="#484848" stroke-width="1.25"/>
<line x1="786.70" y1="286.50" x2="793.30" y2="286.50" stroke="#484848" stroke-width="1.25"/>
<line x1="786.70" y1="282.69" x2="793.30" y2="282.69" stroke="#484848" stroke-width="1.25"/>
<line x1="786.70" y1="279.39" x2="793.30" y2="279.39" stroke="#484848" stroke-width="1.25"/>
<line x1="786.70" y1="276.48" x2="793.30" y2="276.48" stroke="#484848" stroke-width="1.25"/>
<line x1="784.00" y1="273.88" x2="796.00" y2="273.88" stroke="#484848" stroke-width="1.25"/>
<line x1="786.70" y1="256.76" x2="793.30" y2="256.76" stroke="#484848" stroke-width="1.25"/>
<line x1="786.70" y1="246.75" x2="793.30" y2="246.75" stroke="#484848" stroke-width="1.25"/>
<line x1="786.70" y1="239.64" x2="793.30" y2="239.64" stroke="#484848" stroke-width="1.25"/>
<line x1="786.70" y1="234.13" x2="793.30" y2="234.13" stroke="#484848" stroke-width="1.25"/>
<line x1="786.70" y1="229.63" x2="793.30" y2="229.63" stroke="#484848" stroke-width="1.25"/>
<line x1="786.70" y1="225.82" x2="793.30" y2="225.82" stroke="#484848" stroke-width="1.25"/>
<line x1="786.70" y1="222.52" x2="793.30" y2="222.52" stroke="#484848" stroke-width="1.25"/>
<line x1="786.70" y1="219.61" x2="793.30" y2="219.61" stroke="#484848" stroke-width="1.25"/>
<line x1="784.00" y1="217.01" x2="796.00" y2="217.01" stroke="#484848" stroke-width="1.25"/>
<line x1="786.70" y1="199.89" x2="793.30" y2="199.89" stroke="#484848" stroke-width="1.25"/>
<line x1="786.70" y1="189.88" x2="793.30" y2="189.88" stroke="#484848" stroke-width="1.25"/>
<line x1="786.70" y1="182.77" x2="793.30" y2="182.77" stroke="#484848" stroke-width="1.25"/>
<line x1="786.70" y1="177.26" x2="793.30" y2="177.26" stroke="#484848" stroke-width="1.25"/>
<line x1="786.70" y1="172.76" x2="793.30" y2="172.76" stroke="#484848" stroke-width="1.25"/>
<line x1="786.70" y1="168.95" x2="793.30" y2="168.95" stroke="#484848" stroke-width="1.25"/>
<line x1="786.70" y1="165.65" x2="793.30" y2="165.65" stroke="#484848" stroke-width="1.25"/>
<line x1="786.70" y1="162.74" x2="793.30" y2="162.74" stroke="#484848" stroke-width="1.25"/>
<line x1="784.00" y1="160.14" x2="796.00" y2="160.14" stroke="#484848" stroke-width="1.25"/>
<line x1="786.70" y1="143.02" x2="793.30" y2="143.02" stroke="#484848" stroke-width="1.25"/>
<line x1="786.70" y1="133.01" x2="793.30" y2="133.01" stroke="#484848" stroke-width="1.25"/>
<line x1="786.70" y1="125.90" x2="793.30" y2="125.90" stroke="#484848" stroke-width="1.25"/>
<line x1="786.70" y1="120.39" x2="793.30" y2="120.39" stroke="#484848" stroke-width="1.25"/>
<line x1="786.70" y1="115.89" x2="793.30" y2="115.89" stroke="#484848" stroke-width="1.25"/>
<line x1="786.70" y1="112.08" x2="793.30" y2="112.08" stroke="#484848" stroke-width="1.25"/>
<line x1="786.70" y1="108.78" x2="793.30" y2="108.78" stroke="#484848" stroke-width="1.25"/>
<line x1="786.70" y1="105.87" x2="793.30" y2="105.87" stroke="#484848" stroke-width="1.25"/>
<line x1="784.00" y1="103.27" x2="796.00" y2="103.27" stroke="#484848" stroke-width="1.25"/>
<line x1="786.70" y1="86.15" x2="793.30" y2="86.15" stroke="#484848" stroke-width="1.25"/>
<line x1="786.70" y1="76.14" x2="793.30" y2="76.14" stroke="#484848" stroke-width="1.25"/>
<line x1="786.70" y1="69.03" x2="793.30" y2="69.03" stroke="#484848" stroke-width="1.25"/>
<line x1="786.70" y1="63.52" x2="793.30" y2="63.52" stroke="#484848" stroke-width="1.25"/>
<line x1="786.70" y1="59.02" x2="793.30" y2="59.02" stroke="#484848" stroke-width="1.25"/>
<line x1="786.70" y1="55.21" x2="793.30" y2="55.21" stroke="#484848" stroke-width="1.25"/>
<line x1="786.70" y1="51.91" x2="793.30" y2="51.91" stroke="#484848" stroke-width="1.25"/>
<line x1="786.70" y1="49.00" x2="793.30" y2="49.00" stroke="#484848" stroke-width="1.25"/>
<line x1="784.00" y1="46.40" x2="796.00" y2="46.40" stroke="#484848" stroke-width="1.25"/>
<line x1="786.70" y1="29.28" x2="793.30" y2="29.28" stroke="#484848" stroke-width="1.25"/>
<line x1="786.70" y1="19.27" x2="793.30" y2="19.27" stroke="#484848" stroke-width="1.25"/>
<text x="599.75" y="385.50" font-size="24" text-anchor="middle" >10</text>
<text x="663.75" y="385.50" font-size="24" text-anchor="middle" >1</text>
<text x="727.75" y="385.50" font-size="24" text-anchor="middle" >0.1</text>
<text x="852.00" y="385.50" font-size="24" text-anchor="middle" >0.1</text>
<text x="916.30" y="385.50" font-size="24" text-anchor="middle" >1</text>
<text x="980.60" y="385.50" font-size="24" text-anchor="middle" >10</text>
<text x="840.50" y="55.20" font-size="24" text-anchor="end">10<tspan font-size="15.5" dy="-13.5">-6</tspan></text>
<text x="840.50" y="112.07" font-size="24" text-anchor="end">10<tspan font-size="15.5" dy="-13.5">-7</tspan></text>
<text x="840.50" y="168.94" font-size="24" text-anchor="end">10<tspan font-size="15.5" dy="-13.5">-8</tspan></text>
<text x="840.50" y="225.81" font-size="24" text-anchor="end">10<tspan font-size="15.5" dy="-13.5">-9</tspan></text>
<text x="840.50" y="282.68" font-size="24" text-anchor="end">10<tspan font-size="15.5" dy="-13.5">-10</tspan></text>
<text x="840.50" y="339.55" font-size="24" text-anchor="end">10<tspan font-size="15.5" dy="-13.5">-11</tspan></text>
<text x="796.20" y="416.00" font-size="25" text-anchor="middle" >|V| (V)</text>
<text transform="translate(770,199.5) rotate(-90)" font-size="25" text-anchor="middle">Current (A)</text>
<text x="567.00" y="37.00" font-size="25" text-anchor="start" >(b)</text>
<text x="630.00" y="37.70" font-size="25" text-anchor="start" >Negative bias</text>
<text x="1010.70" y="36.90" font-size="25" text-anchor="end" >Positive bias</text>
<rect x="88.00" y="438.50" width="382.70" height="290.10" fill="none" stroke="#484848" stroke-width="1.3"/>
<line x1="279.20" y1="438.50" x2="279.20" y2="728.60" stroke="#222" stroke-width="1.25"/>
<line x1="87.71" y1="728.60" x2="87.71" y2="734.10" stroke="#484848" stroke-width="1.25"/>
<line x1="103.67" y1="728.60" x2="103.67" y2="731.60" stroke="#484848" stroke-width="1.25"/>
<line x1="119.62" y1="728.60" x2="119.62" y2="734.10" stroke="#484848" stroke-width="1.25"/>
<line x1="135.58" y1="728.60" x2="135.58" y2="731.60" stroke="#484848" stroke-width="1.25"/>
<line x1="151.54" y1="728.60" x2="151.54" y2="734.10" stroke="#484848" stroke-width="1.25"/>
<line x1="167.50" y1="728.60" x2="167.50" y2="731.60" stroke="#484848" stroke-width="1.25"/>
<line x1="183.45" y1="728.60" x2="183.45" y2="734.10" stroke="#484848" stroke-width="1.25"/>
<line x1="199.41" y1="728.60" x2="199.41" y2="731.60" stroke="#484848" stroke-width="1.25"/>
<line x1="215.37" y1="728.60" x2="215.37" y2="734.10" stroke="#484848" stroke-width="1.25"/>
<line x1="231.33" y1="728.60" x2="231.33" y2="731.60" stroke="#484848" stroke-width="1.25"/>
<line x1="247.28" y1="728.60" x2="247.28" y2="734.10" stroke="#484848" stroke-width="1.25"/>
<line x1="263.24" y1="728.60" x2="263.24" y2="731.60" stroke="#484848" stroke-width="1.25"/>
<line x1="279.20" y1="728.60" x2="279.20" y2="734.10" stroke="#484848" stroke-width="1.25"/>
<line x1="295.16" y1="728.60" x2="295.16" y2="731.60" stroke="#484848" stroke-width="1.25"/>
<line x1="311.12" y1="728.60" x2="311.12" y2="734.10" stroke="#484848" stroke-width="1.25"/>
<line x1="327.07" y1="728.60" x2="327.07" y2="731.60" stroke="#484848" stroke-width="1.25"/>
<line x1="343.03" y1="728.60" x2="343.03" y2="734.10" stroke="#484848" stroke-width="1.25"/>
<line x1="358.99" y1="728.60" x2="358.99" y2="731.60" stroke="#484848" stroke-width="1.25"/>
<line x1="374.94" y1="728.60" x2="374.94" y2="734.10" stroke="#484848" stroke-width="1.25"/>
<line x1="390.90" y1="728.60" x2="390.90" y2="731.60" stroke="#484848" stroke-width="1.25"/>
<line x1="406.86" y1="728.60" x2="406.86" y2="734.10" stroke="#484848" stroke-width="1.25"/>
<line x1="422.82" y1="728.60" x2="422.82" y2="731.60" stroke="#484848" stroke-width="1.25"/>
<line x1="438.77" y1="728.60" x2="438.77" y2="734.10" stroke="#484848" stroke-width="1.25"/>
<line x1="454.73" y1="728.60" x2="454.73" y2="731.60" stroke="#484848" stroke-width="1.25"/>
<line x1="470.69" y1="728.60" x2="470.69" y2="734.10" stroke="#484848" stroke-width="1.25"/>
<line x1="88.00" y1="727.46" x2="91.00" y2="727.46" stroke="#484848" stroke-width="1.25"/>
<line x1="88.00" y1="722.77" x2="91.00" y2="722.77" stroke="#484848" stroke-width="1.25"/>
<line x1="88.00" y1="718.94" x2="91.00" y2="718.94" stroke="#484848" stroke-width="1.25"/>
<line x1="88.00" y1="715.70" x2="91.00" y2="715.70" stroke="#484848" stroke-width="1.25"/>
<line x1="88.00" y1="712.89" x2="91.00" y2="712.89" stroke="#484848" stroke-width="1.25"/>
<line x1="88.00" y1="710.41" x2="91.00" y2="710.41" stroke="#484848" stroke-width="1.25"/>
<line x1="88.00" y1="708.20" x2="93.00" y2="708.20" stroke="#484848" stroke-width="1.25"/>
<line x1="88.00" y1="693.63" x2="91.00" y2="693.63" stroke="#484848" stroke-width="1.25"/>
<line x1="88.00" y1="685.11" x2="91.00" y2="685.11" stroke="#484848" stroke-width="1.25"/>
<line x1="88.00" y1="679.06" x2="91.00" y2="679.06" stroke="#484848" stroke-width="1.25"/>
<line x1="88.00" y1="674.37" x2="91.00" y2="674.37" stroke="#484848" stroke-width="1.25"/>
<line x1="88.00" y1="670.54" x2="91.00" y2="670.54" stroke="#484848" stroke-width="1.25"/>
<line x1="88.00" y1="667.30" x2="91.00" y2="667.30" stroke="#484848" stroke-width="1.25"/>
<line x1="88.00" y1="664.49" x2="91.00" y2="664.49" stroke="#484848" stroke-width="1.25"/>
<line x1="88.00" y1="662.01" x2="91.00" y2="662.01" stroke="#484848" stroke-width="1.25"/>
<line x1="88.00" y1="659.80" x2="93.00" y2="659.80" stroke="#484848" stroke-width="1.25"/>
<line x1="88.00" y1="645.23" x2="91.00" y2="645.23" stroke="#484848" stroke-width="1.25"/>
<line x1="88.00" y1="636.71" x2="91.00" y2="636.71" stroke="#484848" stroke-width="1.25"/>
<line x1="88.00" y1="630.66" x2="91.00" y2="630.66" stroke="#484848" stroke-width="1.25"/>
<line x1="88.00" y1="625.97" x2="91.00" y2="625.97" stroke="#484848" stroke-width="1.25"/>
<line x1="88.00" y1="622.14" x2="91.00" y2="622.14" stroke="#484848" stroke-width="1.25"/>
<line x1="88.00" y1="618.90" x2="91.00" y2="618.90" stroke="#484848" stroke-width="1.25"/>
<line x1="88.00" y1="616.09" x2="91.00" y2="616.09" stroke="#484848" stroke-width="1.25"/>
<line x1="88.00" y1="613.61" x2="91.00" y2="613.61" stroke="#484848" stroke-width="1.25"/>
<line x1="88.00" y1="611.40" x2="93.00" y2="611.40" stroke="#484848" stroke-width="1.25"/>
<line x1="88.00" y1="596.83" x2="91.00" y2="596.83" stroke="#484848" stroke-width="1.25"/>
<line x1="88.00" y1="588.31" x2="91.00" y2="588.31" stroke="#484848" stroke-width="1.25"/>
<line x1="88.00" y1="582.26" x2="91.00" y2="582.26" stroke="#484848" stroke-width="1.25"/>
<line x1="88.00" y1="577.57" x2="91.00" y2="577.57" stroke="#484848" stroke-width="1.25"/>
<line x1="88.00" y1="573.74" x2="91.00" y2="573.74" stroke="#484848" stroke-width="1.25"/>
<line x1="88.00" y1="570.50" x2="91.00" y2="570.50" stroke="#484848" stroke-width="1.25"/>
<line x1="88.00" y1="567.69" x2="91.00" y2="567.69" stroke="#484848" stroke-width="1.25"/>
<line x1="88.00" y1="565.21" x2="91.00" y2="565.21" stroke="#484848" stroke-width="1.25"/>
<line x1="88.00" y1="563.00" x2="93.00" y2="563.00" stroke="#484848" stroke-width="1.25"/>
<line x1="88.00" y1="548.43" x2="91.00" y2="548.43" stroke="#484848" stroke-width="1.25"/>
<line x1="88.00" y1="539.91" x2="91.00" y2="539.91" stroke="#484848" stroke-width="1.25"/>
<line x1="88.00" y1="533.86" x2="91.00" y2="533.86" stroke="#484848" stroke-width="1.25"/>
<line x1="88.00" y1="529.17" x2="91.00" y2="529.17" stroke="#484848" stroke-width="1.25"/>
<line x1="88.00" y1="525.34" x2="91.00" y2="525.34" stroke="#484848" stroke-width="1.25"/>
<line x1="88.00" y1="522.10" x2="91.00" y2="522.10" stroke="#484848" stroke-width="1.25"/>
<line x1="88.00" y1="519.29" x2="91.00" y2="519.29" stroke="#484848" stroke-width="1.25"/>
<line x1="88.00" y1="516.81" x2="91.00" y2="516.81" stroke="#484848" stroke-width="1.25"/>
<line x1="88.00" y1="514.60" x2="93.00" y2="514.60" stroke="#484848" stroke-width="1.25"/>
<line x1="88.00" y1="500.03" x2="91.00" y2="500.03" stroke="#484848" stroke-width="1.25"/>
<line x1="88.00" y1="491.51" x2="91.00" y2="491.51" stroke="#484848" stroke-width="1.25"/>
<line x1="88.00" y1="485.46" x2="91.00" y2="485.46" stroke="#484848" stroke-width="1.25"/>
<line x1="88.00" y1="480.77" x2="91.00" y2="480.77" stroke="#484848" stroke-width="1.25"/>
<line x1="88.00" y1="476.94" x2="91.00" y2="476.94" stroke="#484848" stroke-width="1.25"/>
<line x1="88.00" y1="473.70" x2="91.00" y2="473.70" stroke="#484848" stroke-width="1.25"/>
<line x1="88.00" y1="470.89" x2="91.00" y2="470.89" stroke="#484848" stroke-width="1.25"/>
<line x1="88.00" y1="468.41" x2="91.00" y2="468.41" stroke="#484848" stroke-width="1.25"/>
<line x1="88.00" y1="466.20" x2="93.00" y2="466.20" stroke="#484848" stroke-width="1.25"/>
<line x1="88.00" y1="451.63" x2="91.00" y2="451.63" stroke="#484848" stroke-width="1.25"/>
<line x1="88.00" y1="443.11" x2="91.00" y2="443.11" stroke="#484848" stroke-width="1.25"/>
<text x="87.71" y="757.50" font-size="24" text-anchor="middle" >30</text>
<text x="119.62" y="757.50" font-size="24" text-anchor="middle" >25</text>
<text x="151.54" y="757.50" font-size="24" text-anchor="middle" >20</text>
<text x="183.45" y="757.50" font-size="24" text-anchor="middle" >15</text>
<text x="215.37" y="757.50" font-size="24" text-anchor="middle" >10</text>
<text x="247.28" y="757.50" font-size="24" text-anchor="middle" >5</text>
<text x="279.20" y="757.50" font-size="24" text-anchor="middle" >0</text>
<text x="311.12" y="757.50" font-size="24" text-anchor="middle" >5</text>
<text x="343.03" y="757.50" font-size="24" text-anchor="middle" >10</text>
<text x="374.94" y="757.50" font-size="24" text-anchor="middle" >15</text>
<text x="406.86" y="757.50" font-size="24" text-anchor="middle" >20</text>
<text x="438.77" y="757.50" font-size="24" text-anchor="middle" >25</text>
<text x="470.69" y="757.50" font-size="24" text-anchor="middle" >30</text>
<text x="82.50" y="475.00" font-size="24" text-anchor="end">10<tspan font-size="15.5" dy="-13.5">-6</tspan></text>
<text x="82.50" y="523.40" font-size="24" text-anchor="end">10<tspan font-size="15.5" dy="-13.5">-7</tspan></text>
<text x="82.50" y="571.80" font-size="24" text-anchor="end">10<tspan font-size="15.5" dy="-13.5">-8</tspan></text>
<text x="82.50" y="620.20" font-size="24" text-anchor="end">10<tspan font-size="15.5" dy="-13.5">-9</tspan></text>
<text x="82.50" y="668.60" font-size="24" text-anchor="end">10<tspan font-size="15.5" dy="-13.5">-10</tspan></text>
<text x="82.50" y="717.00" font-size="24" text-anchor="end">10<tspan font-size="15.5" dy="-13.5">-11</tspan></text>
<text x="287.60" y="789.20" font-size="25" text-anchor="middle" >|V| (V)</text>
<text transform="translate(27.5,604.7) rotate(-90)" font-size="25" text-anchor="middle">Current (A)</text>
<text x="14.00" y="459.50" font-size="26" text-anchor="start" >(c)</text>
<rect x="626.80" y="438.40" width="386.50" height="292.00" fill="none" stroke="#484848" stroke-width="1.3"/>
<line x1="820.30" y1="438.40" x2="820.30" y2="730.40" stroke="#222" stroke-width="1.25"/>
<line x1="649.90" y1="730.40" x2="649.90" y2="735.90" stroke="#484848" stroke-width="1.25"/>
<line x1="678.30" y1="730.40" x2="678.30" y2="733.40" stroke="#484848" stroke-width="1.25"/>
<line x1="706.70" y1="730.40" x2="706.70" y2="735.90" stroke="#484848" stroke-width="1.25"/>
<line x1="735.10" y1="730.40" x2="735.10" y2="733.40" stroke="#484848" stroke-width="1.25"/>
<line x1="763.50" y1="730.40" x2="763.50" y2="735.90" stroke="#484848" stroke-width="1.25"/>
<line x1="791.90" y1="730.40" x2="791.90" y2="733.40" stroke="#484848" stroke-width="1.25"/>
<line x1="820.30" y1="730.40" x2="820.30" y2="735.90" stroke="#484848" stroke-width="1.25"/>
<line x1="848.70" y1="730.40" x2="848.70" y2="733.40" stroke="#484848" stroke-width="1.25"/>
<line x1="877.10" y1="730.40" x2="877.10" y2="735.90" stroke="#484848" stroke-width="1.25"/>
<line x1="905.50" y1="730.40" x2="905.50" y2="733.40" stroke="#484848" stroke-width="1.25"/>
<line x1="933.90" y1="730.40" x2="933.90" y2="735.90" stroke="#484848" stroke-width="1.25"/>
<line x1="962.30" y1="730.40" x2="962.30" y2="733.40" stroke="#484848" stroke-width="1.25"/>
<line x1="990.70" y1="730.40" x2="990.70" y2="735.90" stroke="#484848" stroke-width="1.25"/>
<line x1="626.80" y1="728.81" x2="629.80" y2="728.81" stroke="#484848" stroke-width="1.25"/>
<line x1="820.30" y1="728.81" x2="823.30" y2="728.81" stroke="#484848" stroke-width="1.25"/>
<line x1="626.80" y1="724.10" x2="629.80" y2="724.10" stroke="#484848" stroke-width="1.25"/>
<line x1="820.30" y1="724.10" x2="823.30" y2="724.10" stroke="#484848" stroke-width="1.25"/>
<line x1="626.80" y1="720.24" x2="629.80" y2="720.24" stroke="#484848" stroke-width="1.25"/>
<line x1="820.30" y1="720.24" x2="823.30" y2="720.24" stroke="#484848" stroke-width="1.25"/>
<line x1="626.80" y1="716.99" x2="629.80" y2="716.99" stroke="#484848" stroke-width="1.25"/>
<line x1="820.30" y1="716.99" x2="823.30" y2="716.99" stroke="#484848" stroke-width="1.25"/>
<line x1="626.80" y1="714.16" x2="629.80" y2="714.16" stroke="#484848" stroke-width="1.25"/>
<line x1="820.30" y1="714.16" x2="823.30" y2="714.16" stroke="#484848" stroke-width="1.25"/>
<line x1="626.80" y1="711.68" x2="629.80" y2="711.68" stroke="#484848" stroke-width="1.25"/>
<line x1="820.30" y1="711.68" x2="823.30" y2="711.68" stroke="#484848" stroke-width="1.25"/>
<line x1="626.80" y1="709.45" x2="631.80" y2="709.45" stroke="#484848" stroke-width="1.25"/>
<line x1="820.30" y1="709.45" x2="825.30" y2="709.45" stroke="#484848" stroke-width="1.25"/>
<line x1="626.80" y1="694.80" x2="629.80" y2="694.80" stroke="#484848" stroke-width="1.25"/>
<line x1="820.30" y1="694.80" x2="823.30" y2="694.80" stroke="#484848" stroke-width="1.25"/>
<line x1="626.80" y1="686.24" x2="629.80" y2="686.24" stroke="#484848" stroke-width="1.25"/>
<line x1="820.30" y1="686.24" x2="823.30" y2="686.24" stroke="#484848" stroke-width="1.25"/>
<line x1="626.80" y1="680.16" x2="629.80" y2="680.16" stroke="#484848" stroke-width="1.25"/>
<line x1="820.30" y1="680.16" x2="823.30" y2="680.16" stroke="#484848" stroke-width="1.25"/>
<line x1="626.80" y1="675.45" x2="629.80" y2="675.45" stroke="#484848" stroke-width="1.25"/>
<line x1="820.30" y1="675.45" x2="823.30" y2="675.45" stroke="#484848" stroke-width="1.25"/>
<line x1="626.80" y1="671.59" x2="629.80" y2="671.59" stroke="#484848" stroke-width="1.25"/>
<line x1="820.30" y1="671.59" x2="823.30" y2="671.59" stroke="#484848" stroke-width="1.25"/>
<line x1="626.80" y1="668.34" x2="629.80" y2="668.34" stroke="#484848" stroke-width="1.25"/>
<line x1="820.30" y1="668.34" x2="823.30" y2="668.34" stroke="#484848" stroke-width="1.25"/>
<line x1="626.80" y1="665.51" x2="629.80" y2="665.51" stroke="#484848" stroke-width="1.25"/>
<line x1="820.30" y1="665.51" x2="823.30" y2="665.51" stroke="#484848" stroke-width="1.25"/>
<line x1="626.80" y1="663.03" x2="629.80" y2="663.03" stroke="#484848" stroke-width="1.25"/>
<line x1="820.30" y1="663.03" x2="823.30" y2="663.03" stroke="#484848" stroke-width="1.25"/>
<line x1="626.80" y1="660.80" x2="631.80" y2="660.80" stroke="#484848" stroke-width="1.25"/>
<line x1="820.30" y1="660.80" x2="825.30" y2="660.80" stroke="#484848" stroke-width="1.25"/>
<line x1="626.80" y1="646.15" x2="629.80" y2="646.15" stroke="#484848" stroke-width="1.25"/>
<line x1="820.30" y1="646.15" x2="823.30" y2="646.15" stroke="#484848" stroke-width="1.25"/>
<line x1="626.80" y1="637.59" x2="629.80" y2="637.59" stroke="#484848" stroke-width="1.25"/>
<line x1="820.30" y1="637.59" x2="823.30" y2="637.59" stroke="#484848" stroke-width="1.25"/>
<line x1="626.80" y1="631.51" x2="629.80" y2="631.51" stroke="#484848" stroke-width="1.25"/>
<line x1="820.30" y1="631.51" x2="823.30" y2="631.51" stroke="#484848" stroke-width="1.25"/>
<line x1="626.80" y1="626.80" x2="629.80" y2="626.80" stroke="#484848" stroke-width="1.25"/>
<line x1="820.30" y1="626.80" x2="823.30" y2="626.80" stroke="#484848" stroke-width="1.25"/>
<line x1="626.80" y1="622.94" x2="629.80" y2="622.94" stroke="#484848" stroke-width="1.25"/>
<line x1="820.30" y1="622.94" x2="823.30" y2="622.94" stroke="#484848" stroke-width="1.25"/>
<line x1="626.80" y1="619.69" x2="629.80" y2="619.69" stroke="#484848" stroke-width="1.25"/>
<line x1="820.30" y1="619.69" x2="823.30" y2="619.69" stroke="#484848" stroke-width="1.25"/>
<line x1="626.80" y1="616.86" x2="629.80" y2="616.86" stroke="#484848" stroke-width="1.25"/>
<line x1="820.30" y1="616.86" x2="823.30" y2="616.86" stroke="#484848" stroke-width="1.25"/>
<line x1="626.80" y1="614.38" x2="629.80" y2="614.38" stroke="#484848" stroke-width="1.25"/>
<line x1="820.30" y1="614.38" x2="823.30" y2="614.38" stroke="#484848" stroke-width="1.25"/>
<line x1="626.80" y1="612.15" x2="631.80" y2="612.15" stroke="#484848" stroke-width="1.25"/>
<line x1="820.30" y1="612.15" x2="825.30" y2="612.15" stroke="#484848" stroke-width="1.25"/>
<line x1="626.80" y1="597.50" x2="629.80" y2="597.50" stroke="#484848" stroke-width="1.25"/>
<line x1="820.30" y1="597.50" x2="823.30" y2="597.50" stroke="#484848" stroke-width="1.25"/>
<line x1="626.80" y1="588.94" x2="629.80" y2="588.94" stroke="#484848" stroke-width="1.25"/>
<line x1="820.30" y1="588.94" x2="823.30" y2="588.94" stroke="#484848" stroke-width="1.25"/>
<line x1="626.80" y1="582.86" x2="629.80" y2="582.86" stroke="#484848" stroke-width="1.25"/>
<line x1="820.30" y1="582.86" x2="823.30" y2="582.86" stroke="#484848" stroke-width="1.25"/>
<line x1="626.80" y1="578.15" x2="629.80" y2="578.15" stroke="#484848" stroke-width="1.25"/>
<line x1="820.30" y1="578.15" x2="823.30" y2="578.15" stroke="#484848" stroke-width="1.25"/>
<line x1="626.80" y1="574.29" x2="629.80" y2="574.29" stroke="#484848" stroke-width="1.25"/>
<line x1="820.30" y1="574.29" x2="823.30" y2="574.29" stroke="#484848" stroke-width="1.25"/>
<line x1="626.80" y1="571.04" x2="629.80" y2="571.04" stroke="#484848" stroke-width="1.25"/>
<line x1="820.30" y1="571.04" x2="823.30" y2="571.04" stroke="#484848" stroke-width="1.25"/>
<line x1="626.80" y1="568.21" x2="629.80" y2="568.21" stroke="#484848" stroke-width="1.25"/>
<line x1="820.30" y1="568.21" x2="823.30" y2="568.21" stroke="#484848" stroke-width="1.25"/>
<line x1="626.80" y1="565.73" x2="629.80" y2="565.73" stroke="#484848" stroke-width="1.25"/>
<line x1="820.30" y1="565.73" x2="823.30" y2="565.73" stroke="#484848" stroke-width="1.25"/>
<line x1="626.80" y1="563.50" x2="631.80" y2="563.50" stroke="#484848" stroke-width="1.25"/>
<line x1="820.30" y1="563.50" x2="825.30" y2="563.50" stroke="#484848" stroke-width="1.25"/>
<line x1="626.80" y1="548.85" x2="629.80" y2="548.85" stroke="#484848" stroke-width="1.25"/>
<line x1="820.30" y1="548.85" x2="823.30" y2="548.85" stroke="#484848" stroke-width="1.25"/>
<line x1="626.80" y1="540.29" x2="629.80" y2="540.29" stroke="#484848" stroke-width="1.25"/>
<line x1="820.30" y1="540.29" x2="823.30" y2="540.29" stroke="#484848" stroke-width="1.25"/>
<line x1="626.80" y1="534.21" x2="629.80" y2="534.21" stroke="#484848" stroke-width="1.25"/>
<line x1="820.30" y1="534.21" x2="823.30" y2="534.21" stroke="#484848" stroke-width="1.25"/>
<line x1="626.80" y1="529.50" x2="629.80" y2="529.50" stroke="#484848" stroke-width="1.25"/>
<line x1="820.30" y1="529.50" x2="823.30" y2="529.50" stroke="#484848" stroke-width="1.25"/>
<line x1="626.80" y1="525.64" x2="629.80" y2="525.64" stroke="#484848" stroke-width="1.25"/>
<line x1="820.30" y1="525.64" x2="823.30" y2="525.64" stroke="#484848" stroke-width="1.25"/>
<line x1="626.80" y1="522.39" x2="629.80" y2="522.39" stroke="#484848" stroke-width="1.25"/>
<line x1="820.30" y1="522.39" x2="823.30" y2="522.39" stroke="#484848" stroke-width="1.25"/>
<line x1="626.80" y1="519.56" x2="629.80" y2="519.56" stroke="#484848" stroke-width="1.25"/>
<line x1="820.30" y1="519.56" x2="823.30" y2="519.56" stroke="#484848" stroke-width="1.25"/>
<line x1="626.80" y1="517.08" x2="629.80" y2="517.08" stroke="#484848" stroke-width="1.25"/>
<line x1="820.30" y1="517.08" x2="823.30" y2="517.08" stroke="#484848" stroke-width="1.25"/>
<line x1="626.80" y1="514.85" x2="631.80" y2="514.85" stroke="#484848" stroke-width="1.25"/>
<line x1="820.30" y1="514.85" x2="825.30" y2="514.85" stroke="#484848" stroke-width="1.25"/>
<line x1="626.80" y1="500.20" x2="629.80" y2="500.20" stroke="#484848" stroke-width="1.25"/>
<line x1="820.30" y1="500.20" x2="823.30" y2="500.20" stroke="#484848" stroke-width="1.25"/>
<line x1="626.80" y1="491.64" x2="629.80" y2="491.64" stroke="#484848" stroke-width="1.25"/>
<line x1="820.30" y1="491.64" x2="823.30" y2="491.64" stroke="#484848" stroke-width="1.25"/>
<line x1="626.80" y1="485.56" x2="629.80" y2="485.56" stroke="#484848" stroke-width="1.25"/>
<line x1="820.30" y1="485.56" x2="823.30" y2="485.56" stroke="#484848" stroke-width="1.25"/>
<line x1="626.80" y1="480.85" x2="629.80" y2="480.85" stroke="#484848" stroke-width="1.25"/>
<line x1="820.30" y1="480.85" x2="823.30" y2="480.85" stroke="#484848" stroke-width="1.25"/>
<line x1="626.80" y1="476.99" x2="629.80" y2="476.99" stroke="#484848" stroke-width="1.25"/>
<line x1="820.30" y1="476.99" x2="823.30" y2="476.99" stroke="#484848" stroke-width="1.25"/>
<line x1="626.80" y1="473.74" x2="629.80" y2="473.74" stroke="#484848" stroke-width="1.25"/>
<line x1="820.30" y1="473.74" x2="823.30" y2="473.74" stroke="#484848" stroke-width="1.25"/>
<line x1="626.80" y1="470.91" x2="629.80" y2="470.91" stroke="#484848" stroke-width="1.25"/>
<line x1="820.30" y1="470.91" x2="823.30" y2="470.91" stroke="#484848" stroke-width="1.25"/>
<line x1="626.80" y1="468.43" x2="629.80" y2="468.43" stroke="#484848" stroke-width="1.25"/>
<line x1="820.30" y1="468.43" x2="823.30" y2="468.43" stroke="#484848" stroke-width="1.25"/>
<line x1="626.80" y1="466.20" x2="631.80" y2="466.20" stroke="#484848" stroke-width="1.25"/>
<line x1="820.30" y1="466.20" x2="825.30" y2="466.20" stroke="#484848" stroke-width="1.25"/>
<line x1="626.80" y1="451.55" x2="629.80" y2="451.55" stroke="#484848" stroke-width="1.25"/>
<line x1="820.30" y1="451.55" x2="823.30" y2="451.55" stroke="#484848" stroke-width="1.25"/>
<line x1="626.80" y1="442.99" x2="629.80" y2="442.99" stroke="#484848" stroke-width="1.25"/>
<line x1="820.30" y1="442.99" x2="823.30" y2="442.99" stroke="#484848" stroke-width="1.25"/>
<text x="649.90" y="758.00" font-size="24" text-anchor="middle" >15</text>
<text x="706.70" y="758.00" font-size="24" text-anchor="middle" >10</text>
<text x="763.50" y="758.00" font-size="24" text-anchor="middle" >5</text>
<text x="820.30" y="758.00" font-size="24" text-anchor="middle" >0</text>
<text x="877.10" y="758.00" font-size="24" text-anchor="middle" >5</text>
<text x="933.90" y="758.00" font-size="24" text-anchor="middle" >10</text>
<text x="990.70" y="758.00" font-size="24" text-anchor="middle" >15</text>
<text x="620.00" y="475.00" font-size="24" text-anchor="end">10<tspan font-size="15.5" dy="-13.5">-6</tspan></text>
<text x="620.00" y="523.65" font-size="24" text-anchor="end">10<tspan font-size="15.5" dy="-13.5">-7</tspan></text>
<text x="620.00" y="572.30" font-size="24" text-anchor="end">10<tspan font-size="15.5" dy="-13.5">-8</tspan></text>
<text x="620.00" y="620.95" font-size="24" text-anchor="end">10<tspan font-size="15.5" dy="-13.5">-9</tspan></text>
<text x="620.00" y="669.60" font-size="24" text-anchor="end">10<tspan font-size="15.5" dy="-13.5">-10</tspan></text>
<text x="620.00" y="718.25" font-size="24" text-anchor="end">10<tspan font-size="15.5" dy="-13.5">-11</tspan></text>
<text x="828.30" y="790.70" font-size="25" text-anchor="middle" >|V| (V)</text>
<text transform="translate(559,594.3) rotate(-90)" font-size="25" text-anchor="middle">Current (A)</text>
<text x="553.50" y="455.80" font-size="25" text-anchor="start" >(d)</text>
<text x="659.40" y="458.00" font-size="25.3" text-anchor="start" >Negative bias</text>
<text x="1007.40" y="462.20" font-size="25.3" text-anchor="end" >Positive bias</text>
</svg></body></html>
